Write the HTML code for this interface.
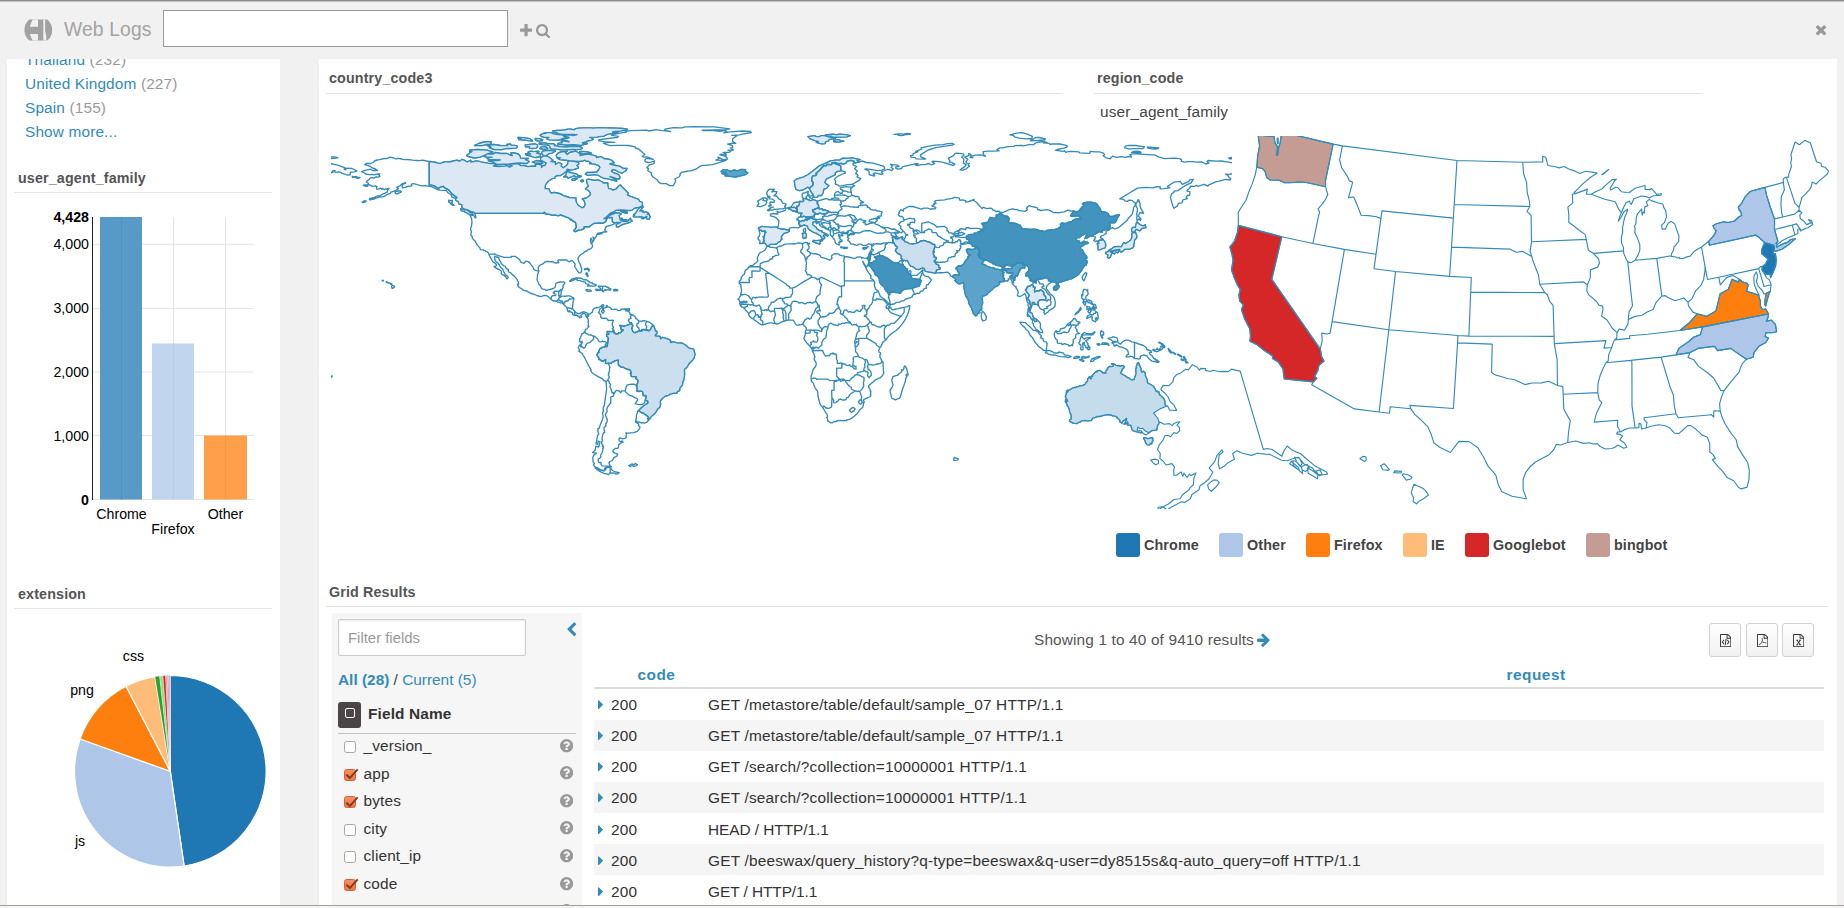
<!DOCTYPE html><html><head><meta charset="utf-8"><title>Web Logs</title><style>
*{box-sizing:border-box;margin:0;padding:0}
html,body{width:1844px;height:908px;overflow:hidden;background:#f1f1f1}
body{position:relative;font-family:"Liberation Sans",Arial,sans-serif;font-size:15.4px;color:#444}
.abs,.t,.ic{position:absolute}
.t{white-space:nowrap;line-height:1;letter-spacing:.14px}
.card{position:absolute;background:#fff}
.hr{position:absolute;height:1px;background:#e5e5e5}
svg text{font-family:"Liberation Sans",Arial,sans-serif}
</style></head><body>
<div class="abs" style="left:0;top:0;width:1844px;height:1px;background:#8a8a8a"></div>
<div class="abs" style="left:0;top:1px;width:1844px;height:1px;background:#c4c4c4"></div>
<svg class="abs" style="left:22px;top:17px" width="34" height="26" viewBox="22 17 34 26"><defs><clipPath id="lc"><rect x="22" y="19.4" width="34" height="21.1"/></clipPath></defs><g clip-path="url(#lc)"><circle cx="38.3" cy="30" r="13.9" fill="#a2a2a2"/><path d="M33.2,19 L38,19 L38,26.7 L29.9,26.7 Q30.8,22.5 33.2,19Z" fill="#f1f1f1"/><path d="M33.2,41 L38,41 L38,34 L29.9,34 Q30.8,38 33.2,41Z" fill="#f1f1f1"/><path d="M43.3,18 L45.1,18 L45.1,31 Q46.6,35 46.3,41 L43.3,41Z" fill="#f1f1f1"/><circle cx="46.1" cy="26" r="0.7" fill="#b8b8b8"/></g></svg>
<div class="t " style="left:64.00px;top:19.50px;font-size:19.30px;color:#a3a3a3;font-weight:normal;">Web Logs</div>
<div class="abs" style="left:163px;top:10px;width:345px;height:37px;background:#fff;border:1px solid #9a9a9a"></div>
<svg class="ic" style="left:519.50px;top:22.50px" width="12.10" height="15.40" viewBox="0 -1536 1408 1792" ><path fill="#999" transform="scale(1,-1)" d="M1408 800v-192q0 -40 -28 -68t-68 -28h-416v-416q0 -40 -28 -68t-68 -28h-192q-40 0 -68 28t-28 68v416h-416q-40 0 -68 28t-28 68v192q0 40 28 68t68 28h416v416q0 40 28 68t68 28h192q40 0 68 -28t28 -68v-416h416q40 0 68 -28t28 -68z"/></svg>
<svg class="ic" style="left:535.50px;top:22.50px" width="14.30" height="15.40" viewBox="0 -1536 1664 1792" ><path fill="#999" transform="scale(1,-1)" d="M1152 704q0 185 -131.5 316.5t-316.5 131.5t-316.5 -131.5t-131.5 -316.5t131.5 -316.5t316.5 -131.5t316.5 131.5t131.5 316.5zM1664 -128q0 -52 -38 -90t-90 -38q-54 0 -90 38l-343 342q-179 -124 -399 -124q-143 0 -273.5 55.5t-225 150t-150 225t-55.5 273.5 t55.5 273.5t150 225t225 150t273.5 55.5t273.5 -55.5t225 -150t150 -225t55.5 -273.5q0 -220 -124 -399l343 -343q37 -37 37 -90z"/></svg>
<svg class="ic" style="left:1815.00px;top:22.00px" width="12.10" height="15.40" viewBox="0 -1536 1408 1792" ><path fill="#999" transform="scale(1,-1)" d="M1298 214q0 -40 -28 -68l-136 -136q-28 -28 -68 -28t-68 28l-294 294l-294 -294q-28 -28 -68 -28t-68 28l-136 136q-28 28 -28 68t28 68l294 294l-294 294q-28 28 -28 68t28 68l136 136q28 28 68 28t68 -28l294 -294l294 294q28 28 68 28t68 -28l136 -136q28 -28 28 -68 t-28 -68l-294 -294l294 -294q28 -28 28 -68z"/></svg>
<div class="card" style="left:7px;top:59px;width:273px;height:849px"></div>
<div class="card" style="left:319px;top:59px;width:1518px;height:849px"></div>
<div class="abs" style="left:7px;top:59px;width:273px;height:12px;overflow:hidden"><div class="t" style="left:18px;top:-7.5px;font-size:15.4px;color:#338bb8">Thailand <span style="color:#999">(232)</span></div></div>
<div class="t" style="left:25px;top:76.00px;font-size:15.4px;color:#338bb8">United Kingdom <span style="color:#999">(227)</span></div>
<div class="t" style="left:25px;top:100.00px;font-size:15.4px;color:#338bb8">Spain <span style="color:#999">(155)</span></div>
<div class="t " style="left:25.00px;top:124.00px;font-size:15.40px;color:#338bb8;font-weight:normal;">Show more...</div>
<div class="t " style="left:18.00px;top:170.50px;font-size:14.30px;color:#555;font-weight:bold;">user_agent_family</div>
<div class="hr" style="left:14px;top:192px;width:258px"></div>
<div class="t " style="left:18.00px;top:586.50px;font-size:14.30px;color:#555;font-weight:bold;">extension</div>
<div class="hr" style="left:14px;top:608px;width:258px"></div>
<svg class="abs" style="left:0;top:200px" width="290" height="350" viewBox="0 200 290 350" font-size="14.2" fill="#000"><line x1="92" x2="254" y1="244.3" y2="244.3" stroke="#e5e5e5" stroke-width="1"/><line x1="92" x2="254" y1="308.4" y2="308.4" stroke="#e5e5e5" stroke-width="1"/><line x1="92" x2="254" y1="372.0" y2="372.0" stroke="#e5e5e5" stroke-width="1"/><line x1="92" x2="254" y1="435.5" y2="435.5" stroke="#e5e5e5" stroke-width="1"/><line x1="92" x2="254" y1="499.5" y2="499.5" stroke="#e5e5e5" stroke-width="1"/><line x1="121.5" x2="121.5" y1="217" y2="499.5" stroke="#e5e5e5" stroke-width="1"/><line x1="173.5" x2="173.5" y1="217" y2="499.5" stroke="#e5e5e5" stroke-width="1"/><line x1="225.5" x2="225.5" y1="217" y2="499.5" stroke="#e5e5e5" stroke-width="1"/><rect x="100" y="217" width="42" height="282.5" fill="#5799c7"/><rect x="152" y="343.5" width="42" height="156" fill="#c2d5ee"/><rect x="204" y="435.5" width="43" height="64" fill="#ff9f4a"/><line x1="121.5" x2="121.5" y1="217" y2="499.5" stroke="#4f92c0" stroke-width="1"/><line x1="173.5" x2="173.5" y1="343.5" y2="499.5" stroke="#b7cde9" stroke-width="1"/><line x1="225.5" x2="225.5" y1="435.5" y2="499.5" stroke="#f79743" stroke-width="1"/><line x1="92.5" x2="92.5" y1="217" y2="500" stroke="#222" stroke-width="1"/><text x="89" y="249.3" text-anchor="end" font-weight="normal">4,000</text><text x="89" y="313.4" text-anchor="end" font-weight="normal">3,000</text><text x="89" y="377.0" text-anchor="end" font-weight="normal">2,000</text><text x="89" y="440.5" text-anchor="end" font-weight="normal">1,000</text><text x="89" y="504.5" text-anchor="end" font-weight="bold">0</text><text x="89" y="222" text-anchor="end" font-weight="bold">4,428</text><text x="121.5" y="519" text-anchor="middle">Chrome</text><text x="173" y="534" text-anchor="middle">Firefox</text><text x="225.5" y="519" text-anchor="middle">Other</text></svg>
<svg class="abs" style="left:0;top:640px" width="290" height="265" viewBox="0 640 290 265" font-size="14.2" fill="#000"><path d="M170.30,771.30L170.30,675.50A95.80,95.80 0 0 1 184.13,866.10Z" fill="#1f77b4" stroke="#fff" stroke-width="1.2"/><path d="M170.30,771.30L184.13,866.10A95.80,95.80 0 0 1 80.11,739.01Z" fill="#aec7e8" stroke="#fff" stroke-width="1.2"/><path d="M170.30,771.30L80.11,739.01A95.80,95.80 0 0 1 126.06,686.32Z" fill="#ff7f0e" stroke="#fff" stroke-width="1.2"/><path d="M170.30,771.30L126.06,686.32A95.80,95.80 0 0 1 154.98,676.73Z" fill="#ffbb78" stroke="#fff" stroke-width="1.2"/><path d="M170.30,771.30L154.98,676.73A95.80,95.80 0 0 1 159.62,676.10Z" fill="#2ca02c" stroke="#fff" stroke-width="0.3"/><path d="M170.30,771.30L159.62,676.10A95.80,95.80 0 0 1 162.95,675.78Z" fill="#98df8a" stroke="#fff" stroke-width="0.3"/><path d="M170.30,771.30L162.95,675.78A95.80,95.80 0 0 1 165.62,675.61Z" fill="#d62728" stroke="#fff" stroke-width="0.3"/><path d="M170.30,771.30L165.62,675.61A95.80,95.80 0 0 1 167.46,675.54Z" fill="#ff9896" stroke="#fff" stroke-width="0.3"/><path d="M170.30,771.30L167.46,675.54A95.80,95.80 0 0 1 168.63,675.51Z" fill="#9467bd" stroke="#fff" stroke-width="0.3"/><path d="M170.30,771.30L168.63,675.51A95.80,95.80 0 0 1 169.46,675.50Z" fill="#c5b0d5" stroke="#fff" stroke-width="0.3"/><path d="M170.30,771.30L169.46,675.50A95.80,95.80 0 0 1 170.30,675.50Z" fill="#8c564b" stroke="#fff" stroke-width="0.3"/><text x="133.5" y="661" text-anchor="middle">css</text><text x="82" y="695" text-anchor="middle">png</text><text x="80" y="846" text-anchor="middle">js</text></svg>
<div class="t " style="left:329.00px;top:70.50px;font-size:14.30px;color:#555;font-weight:bold;">country_code3</div>
<div class="hr" style="left:326px;top:93px;width:736px"></div>
<div class="t " style="left:1097.00px;top:70.50px;font-size:14.30px;color:#555;font-weight:bold;">region_code</div>
<div class="hr" style="left:1094px;top:93px;width:608px"></div>
<div class="t " style="left:1100.00px;top:104.00px;font-size:15.40px;color:#444;font-weight:normal;">user_agent_family</div>
<svg class="abs" style="left:331px;top:110px" width="901" height="420" viewBox="331 110 901 420" fill="none" stroke="#338bb8" stroke-width="1.35" stroke-linejoin="round"><path d="M361.5,171.7L366.0,170.2L370.7,169.2L372.5,170.5L377.5,170.5L375.5,169.0L372.5,168.0L370.7,166.7L368.2,165.7L364.7,164.7L366.2,163.5L370.7,163.5L373.7,162.2L374.5,161.0L377.0,160.0L379.5,159.7L384.2,158.5L386.5,158.7L390.2,157.2L394.0,158.0L396.0,159.0L397.0,158.5L401.2,158.7L401.0,159.2L405.0,159.7L407.5,159.5L412.7,160.2L417.5,160.5L419.5,160.7L422.7,160.2L426.5,161.0L429.2,161.5L434.0,162.0L438.0,163.2L440.5,163.5L442.7,162.5L445.7,161.7L449.5,162.0L453.2,161.0L457.2,160.2L459.0,161.2L460.7,160.7L461.5,159.5L463.2,159.7L467.2,162.0L470.7,160.2L471.0,162.2L474.0,161.7L475.0,161.0L478.0,161.2L482.0,162.2L487.7,163.2L491.3,163.7L493.8,163.5L497.0,164.7L493.5,166.0L498.0,166.5L504.8,166.2L507.0,165.7L509.5,167.2L512.3,166.0L509.8,165.0L511.3,164.0L514.5,164.0L516.3,163.7L518.5,164.2L521.0,165.7L523.8,165.5L528.0,166.7L532.0,166.2L535.8,166.2L535.3,164.7L537.5,164.2L541.5,165.2L541.5,167.5L543.0,165.5L545.0,165.5L546.3,163.0L543.5,161.5L540.5,160.5L540.8,157.7L543.8,156.0L547.0,156.2L549.5,157.5L553.0,160.2L550.8,161.5L555.5,162.0L555.3,164.5L558.8,162.5L561.8,164.2L561.0,166.0L563.3,167.7L566.0,166.0L567.8,163.7L568.0,161.0L571.5,161.2L575.3,161.5L578.5,162.7L578.8,164.0L576.8,165.5L578.5,166.7L578.3,168.0L573.5,169.7L570.0,170.0L567.3,169.2L566.5,170.5L568.5,170.7L564.3,172.7L563.5,173.7L560.5,175.5L556.8,175.7L555.0,176.7L554.8,178.2L552.0,178.7L548.8,180.8L546.3,183.5L545.3,185.5L545.0,188.5L548.8,188.8L549.8,191.3L551.0,193.0L554.5,192.5L559.3,193.5L561.8,194.5L563.5,195.8L566.5,196.5L569.3,197.5L573.3,197.8L576.0,198.0L575.8,200.0L576.5,202.5L578.3,205.3L582.0,207.8L584.0,207.0L585.3,204.3L584.0,200.5L582.3,199.0L586.3,198.0L589.0,196.3L590.5,194.5L590.3,192.8L588.5,190.5L585.5,188.8L588.5,186.0L587.3,183.8L586.5,180.0L588.3,179.2L592.5,180.0L595.0,180.3L597.3,179.8L599.5,180.5L602.5,182.0L603.3,183.0L607.8,183.0L607.8,185.3L608.5,188.3L610.8,188.8L612.8,190.3L616.3,188.8L618.8,186.0L620.3,185.0L622.3,187.3L625.5,190.3L628.3,193.3L627.3,195.0L630.5,196.3L638.5,199.3L639.5,201.3L641.3,201.8L642.3,202.5L642.5,205.5L639.0,207.3L634.8,208.0L631.8,210.3L627.5,210.5L622.0,210.0L618.3,210.0L615.8,210.3L613.8,212.0L610.5,213.0L606.9,216.5L604.0,218.8L606.0,218.3L610.2,215.0L615.4,213.0L619.1,212.8L621.3,214.0L619.0,215.5L619.8,218.3L620.5,220.3L623.8,221.5L628.0,221.0L630.5,218.3L630.8,220.0L632.3,221.0L629.3,222.5L623.7,224.1L621.3,225.0L618.3,227.0L616.5,226.8L616.3,224.5L620.8,222.5L616.8,222.5L614.0,223.0L614.3,223.8L611.8,225.0L609.0,225.8L606.5,226.5L605.3,228.0L604.8,230.0L605.5,231.3L606.5,231.3L606.8,231.8L604.0,232.0L602.0,232.5L599.5,232.8L597.5,233.5L601.3,233.0L602.0,233.5L598.5,234.3L596.8,234.3L596.3,236.5L594.5,238.5L593.0,237.0L593.5,238.8L594.1,239.8L592.0,242.8L591.8,242.6L592.5,241.0L591.0,238.0L590.5,240.3L591.0,243.3L591.8,243.5L592.1,244.4L592.5,246.9L590.8,248.8L588.3,249.5L586.7,251.0L584.1,252.0L583.8,252.9L581.0,254.5L579.6,255.7L578.5,257.3L578.0,259.0L578.5,260.8L579.3,262.8L580.5,264.5L580.5,265.7L581.6,268.5L581.5,271.3L580.8,272.8L578.8,272.8L577.5,271.0L576.3,269.0L575.0,267.0L574.7,266.0L575.2,264.4L574.5,263.0L572.5,260.9L571.5,260.5L569.0,261.8L568.5,261.5L567.3,260.4L565.8,259.8L563.0,260.0L560.8,259.8L558.8,260.0L557.8,260.3L558.3,261.0L558.3,262.0L558.8,262.5L558.3,262.9L557.3,262.5L556.4,263.0L554.5,262.9L552.8,261.5L550.5,261.9L548.8,261.3L547.1,261.5L545.0,262.0L542.8,263.9L540.3,265.0L538.9,266.3L538.3,267.3L538.3,269.0L538.4,270.3L538.9,271.1L538.0,273.3L537.5,275.0L537.3,278.5L537.0,279.8L537.5,281.0L538.3,282.3L538.8,284.3L540.5,286.0L541.0,287.5L542.0,288.8L544.8,289.4L545.8,290.5L548.0,289.8L549.8,289.5L551.8,289.0L553.3,288.5L554.8,287.5L555.5,286.0L555.6,284.0L556.0,283.3L557.8,282.5L560.5,282.0L562.6,282.1L564.1,281.9L564.8,282.5L564.6,283.7L563.3,285.0L562.8,286.7L563.2,287.1L562.8,288.3L562.2,290.1L561.5,289.5L561.0,289.5L561.0,289.9L561.5,290.5L561.0,291.8L561.3,293.3L560.9,294.5L559.5,296.0L560.3,296.5L561.3,296.5L562.0,296.1L563.3,296.2L564.5,296.4L566.8,296.0L567.5,295.9L569.3,295.8L570.8,296.3L572.3,297.3L573.3,297.6L573.9,298.3L573.8,300.0L573.0,301.8L573.0,303.5L572.8,305.0L572.5,306.0L572.7,306.8L572.1,307.4L572.6,308.4L573.3,309.8L575.4,311.9L576.3,312.8L577.5,313.3L578.3,313.8L579.4,313.6L580.5,313.0L582.0,312.5L582.8,311.8L584.3,311.9L585.5,312.3L586.6,312.7L588.4,314.1L587.0,317.8L586.3,317.0L585.8,315.7L586.3,315.0L585.3,314.0L584.0,313.3L582.9,313.5L582.4,314.3L581.3,315.0L580.5,315.5L581.8,316.9L580.8,317.6L579.5,317.8L579.1,316.3L578.0,316.5L577.5,315.5L575.8,315.0L574.7,315.6L574.4,315.3L573.0,314.8L572.5,314.2L572.8,313.2L572.0,312.5L570.2,311.8L570.0,311.0L569.3,310.5L569.5,311.3L569.0,311.9L567.6,311.0L567.3,309.8L567.6,308.9L566.9,308.5L567.5,308.0L566.6,307.3L565.5,306.3L564.9,305.4L563.8,304.6L562.6,303.5L563.3,303.5L563.5,303.3L563.0,302.5L562.3,302.3L562.0,302.9L560.5,302.9L558.6,302.1L557.3,302.0L556.5,301.4L555.3,301.0L553.8,301.0L552.5,300.5L551.3,299.4L548.4,296.8L547.0,295.9L545.0,295.3L543.6,295.5L541.6,296.4L540.4,296.7L538.6,296.0L536.8,295.5L534.4,294.4L532.5,294.0L529.8,292.9L527.6,291.7L527.0,291.0L525.6,290.9L523.0,290.0L522.0,288.9L519.3,287.5L518.0,285.9L517.5,284.7L518.3,284.5L518.0,283.8L518.6,283.1L518.6,282.3L517.8,281.1L517.5,280.1L516.7,278.9L514.5,276.4L512.0,274.4L510.8,272.9L508.6,271.8L508.2,271.2L508.5,269.7L507.3,269.1L505.8,267.9L505.2,266.1L503.8,265.9L502.4,264.6L501.2,263.4L501.1,262.6L499.8,260.7L498.9,258.8L498.9,257.9L497.1,256.8L496.3,257.0L494.8,256.3L494.4,257.3L494.8,258.5L495.1,260.4L495.9,261.4L497.8,263.1L498.2,263.7L498.9,264.8L499.4,264.7L499.9,266.3L500.6,267.0L501.2,267.9L502.8,269.1L503.6,271.5L504.3,272.6L505.0,273.7L505.1,275.0L506.3,275.1L507.3,276.3L508.2,277.4L508.2,277.8L507.1,278.7L506.7,278.7L506.0,277.2L504.4,275.8L502.6,274.6L501.3,273.9L501.4,272.1L501.0,270.8L499.8,270.0L498.1,268.9L497.8,269.2L497.1,268.5L495.6,267.9L494.1,266.5L495.3,266.4L496.3,265.5L496.4,264.4L494.4,262.6L493.0,261.9L492.0,260.3L491.1,258.7L490.0,256.7L488.9,254.4L488.5,253.1L486.9,251.7L485.7,251.4L485.4,250.7L484.0,250.6L483.1,249.9L480.8,249.6L480.2,249.3L479.9,247.9L477.5,245.4L475.4,241.9L475.5,241.3L474.4,240.5L472.4,238.4L472.1,236.3L470.7,235.0L471.3,232.9L471.2,230.8L470.4,228.8L471.4,226.5L472.0,222.0L471.5,218.6L470.7,216.5L470.0,215.3L470.3,214.8L473.9,215.7L475.3,218.0L475.9,217.4L475.5,215.3L474.6,213.3L474.0,212.5L469.5,210.8L467.7,209.8L463.2,208.7L461.7,206.5L462.1,204.9L458.9,203.9L458.5,201.9L455.5,200.0L456.0,198.5L454.0,197.8L451.8,197.0L451.1,194.8L447.9,192.8L446.5,190.5L444.1,190.3L440.2,190.2L437.2,189.5L432.1,186.9L429.7,186.4L425.3,185.6L421.8,185.8L417.0,184.6L414.0,183.6L411.2,184.1L411.7,185.8L407.5,186.5L405.2,187.3L402.5,187.9L402.1,186.4L403.2,184.0L405.8,183.2L405.2,182.6L402.0,183.9L400.3,185.6L396.7,187.4L398.5,188.6L396.1,190.4L393.5,191.4L391.0,192.2L390.3,193.3L386.5,194.6L385.6,195.8L382.7,196.8L381.0,196.7L378.7,197.4L376.1,198.2L374.0,199.0L369.7,199.8L369.4,199.3L372.1,198.2L374.5,197.4L377.2,196.0L380.3,195.8L381.5,194.7L385.0,193.2L385.6,192.7L387.4,191.8L387.8,189.9L389.1,188.5L386.2,189.2L385.4,188.8L384.1,189.7L382.4,188.4L381.8,189.3L380.8,188.1L378.3,189.1L376.8,189.1L376.6,187.6L377.0,186.7L375.4,185.8L372.2,186.3L370.1,185.1L368.3,184.5L368.3,183.1L366.4,182.0L367.4,180.6L369.4,179.2L370.3,177.9L372.3,177.7L374.0,178.1L376.1,176.9L377.9,177.1L379.8,176.3L379.3,175.2L377.9,174.7L379.8,173.8L378.2,173.8L375.6,174.3L374.8,174.9L372.8,174.3L369.3,174.6L365.6,174.0L364.6,173.0L361.5,171.7ZM588.4,314.1L589.7,314.2L591.6,312.4L592.6,312.2L592.6,311.4L593.1,309.2L594.5,308.1L596.1,308.0L596.3,307.5L598.3,307.7L600.2,306.5L601.2,305.9L602.4,304.7L603.3,304.8L603.9,305.5L603.5,306.3L603.4,306.9L601.9,307.2L602.7,308.4L602.7,309.7L601.6,311.1L602.5,313.1L603.6,312.9L604.2,311.1L603.4,310.3L603.3,308.4L606.4,307.3L606.1,306.2L606.9,305.4L607.8,307.1L609.6,307.2L611.2,308.6L611.3,309.4L613.5,309.4L616.2,309.2L617.6,310.3L619.6,310.6L621.0,309.8L621.0,309.2L624.1,309.0L627.1,309.0L625.0,309.7L625.8,310.9L627.8,311.1L629.7,312.3L630.1,314.3L631.4,314.3L632.4,314.9L634.0,315.8L635.6,317.4L635.7,318.7L636.6,318.8L637.9,320.0L638.9,320.9L641.9,321.4L642.2,320.9L644.2,320.7L646.9,321.4L647.8,321.7L649.6,322.3L652.3,324.4L652.7,325.4L653.5,325.3L654.1,326.7L655.5,331.0L656.9,331.4L656.9,333.2L655.1,335.2L655.8,336.0L660.3,336.4L660.4,338.9L662.3,337.3L665.4,338.2L669.5,339.7L670.8,341.2L670.4,342.5L673.3,341.8L678.1,343.1L681.9,343.0L685.6,345.1L688.8,347.9L690.7,348.6L692.8,348.7L693.7,349.5L694.6,352.7L695.0,354.2L694.0,358.3L692.7,359.9L689.2,363.4L687.6,366.2L685.8,368.4L685.1,368.5L684.4,370.3L684.6,375.0L683.9,378.8L683.6,380.5L682.9,381.5L682.4,384.8L679.9,388.1L679.5,390.7L677.4,391.7L676.8,393.2L674.1,393.2L670.2,394.2L668.4,395.3L665.6,396.0L662.7,398.0L660.6,400.5L660.2,402.4L660.6,403.8L660.2,406.3L659.6,407.5L657.8,408.9L655.1,413.3L652.9,415.3L651.2,416.5L650.0,418.8L648.4,420.3L647.3,421.8L644.5,423.2L642.6,422.7L641.2,423.0L638.9,421.9L637.2,422.0L635.7,420.6L635.5,421.9L638.7,424.1L638.4,425.8L639.9,426.9L639.8,428.1L637.4,431.3L633.7,432.6L628.7,433.2L625.9,432.9L626.5,434.4L626.0,436.3L626.4,437.5L624.9,438.4L622.4,438.8L620.0,437.8L619.0,438.5L619.3,441.0L621.0,441.7L622.4,440.9L623.1,442.2L620.8,443.0L618.8,444.6L618.5,447.1L617.9,448.4L615.5,448.4L613.6,449.7L612.8,451.6L615.3,453.4L617.7,453.9L616.8,456.2L613.9,457.6L612.2,460.5L610.0,461.5L608.9,462.7L609.7,465.3L611.4,466.7L610.4,466.6L608.1,466.6L606.9,467.2L604.7,468.1L604.3,470.4L603.2,470.5L600.4,469.7L597.5,467.9L594.4,466.5L593.6,464.9L594.3,463.4L593.1,461.8L592.8,457.5L593.8,455.1L596.5,453.2L592.7,452.5L595.1,450.2L595.9,446.1L598.7,447.0L600.0,441.8L598.3,441.1L597.5,444.3L596.0,443.9L596.7,440.3L597.6,435.7L598.7,434.0L598.0,431.5L597.8,428.7L598.9,428.6L600.4,424.6L602.1,420.6L603.2,416.9L602.6,413.1L603.4,411.1L603.1,408.0L604.5,404.9L605.0,400.1L605.8,394.9L606.6,389.3L606.4,385.2L605.9,381.7L603.3,380.2L603.1,379.2L598.2,376.7L593.7,374.0L591.8,372.4L590.7,370.4L591.1,369.7L589.0,366.4L586.6,361.8L584.2,356.8L583.2,355.6L582.4,353.8L580.4,352.2L578.7,351.2L579.5,350.0L578.3,347.7L579.0,345.9L581.0,344.3L582.4,342.5L581.8,341.4L580.9,342.5L579.4,341.4L579.9,340.7L579.5,338.5L580.3,338.1L580.8,336.5L581.7,334.9L581.6,333.9L582.9,333.3L584.6,332.3L584.3,331.6L585.2,331.4L585.1,330.1L585.7,329.2L587.0,329.0L588.0,327.5L589.0,326.2L588.0,325.6L588.5,324.1L588.0,321.8L588.5,321.2L588.1,319.1L587.1,317.7ZM767.0,246.4L768.9,246.4L770.4,247.4L772.7,247.3L775.3,247.8L776.4,247.8L778.8,246.5L781.5,246.0L783.1,245.0L785.5,244.2L789.7,243.8L793.9,243.6L795.1,244.0L797.5,243.0L800.2,243.0L801.2,243.5L802.9,243.4L805.6,242.4L807.4,242.7L807.3,244.0L809.4,243.0L809.6,243.5L808.4,244.7L808.3,245.9L809.2,246.5L808.9,248.7L807.2,249.9L807.7,251.3L809.0,251.3L809.6,252.5L810.6,252.9L813.5,253.8L814.6,253.6L816.7,254.0L820.0,255.1L821.1,257.3L823.4,257.8L826.9,258.9L829.6,260.1L830.8,259.5L832.0,258.3L831.4,256.4L832.2,255.2L834.0,254.0L835.7,253.7L839.1,254.2L840.0,255.3L840.9,255.3L841.7,255.7L844.2,256.0L844.8,256.8L846.7,256.7L848.1,256.8L850.5,257.5L853.0,258.2L854.1,258.6L856.1,257.8L857.1,257.1L859.3,256.9L861.1,257.2L861.8,258.5L862.3,257.6L864.3,258.2L866.3,258.4L867.5,257.7L869.2,262.0L868.5,263.0L867.9,264.9L867.2,266.2L866.7,266.7L865.8,265.9L864.7,264.7L862.9,261.2L862.7,261.4L863.7,264.0L865.2,266.5L867.1,270.4L868.0,271.8L868.9,273.2L871.1,276.0L870.6,276.4L870.7,278.0L873.6,280.3L874.0,280.8L874.8,283.2L874.3,283.7L874.6,286.3L875.6,289.3L876.5,289.9L877.9,290.8L879.4,293.7L880.1,296.0L881.4,297.2L884.8,299.6L886.2,301.0L887.6,302.4L888.4,303.3L889.6,304.0L890.2,304.8L890.1,305.9L888.7,306.4L889.8,307.1L890.6,307.6L891.1,308.6L892.2,309.7L893.4,309.7L895.8,309.0L898.5,308.7L900.7,308.0L901.9,307.8L902.8,307.3L904.3,307.3L905.1,307.2L906.2,306.8L907.5,306.6L908.7,305.7L909.7,305.7L909.7,306.4L909.5,307.9L909.5,309.2L909.0,310.1L908.3,312.8L907.1,315.6L905.5,318.8L903.4,322.4L901.2,325.2L898.3,328.6L895.8,330.7L892.1,333.2L889.7,335.1L887.0,338.1L886.4,339.4L885.9,340.0L884.1,341.0L883.5,342.1L882.5,342.2L882.2,344.0L881.4,345.0L880.9,346.7L879.9,347.5L878.7,350.6L878.9,352.0L880.5,352.9L880.6,353.6L879.9,355.1L880.0,355.8L879.9,357.0L880.7,358.6L881.8,361.1L882.7,361.6L883.1,362.7L883.0,365.2L883.3,367.4L883.4,371.3L883.8,372.5L883.1,374.3L882.1,376.1L880.5,377.6L878.2,378.6L875.4,379.8L872.6,382.5L871.6,382.9L869.9,384.7L868.8,385.3L868.6,387.1L869.8,388.9L870.3,390.4L870.3,391.2L870.8,391.0L870.7,393.5L870.3,394.7L870.9,395.1L870.5,396.1L869.5,397.0L867.4,397.9L864.4,399.2L863.3,400.1L863.5,401.2L864.2,401.4L863.9,402.7L863.3,404.5L863.0,406.6L862.4,407.7L860.7,409.0L860.2,409.3L859.1,410.6L858.4,411.9L857.0,413.7L854.2,416.3L852.4,417.8L850.5,418.9L847.9,419.9L846.6,420.0L846.3,420.7L844.8,420.3L843.6,420.8L840.8,420.3L839.3,420.6L838.3,420.5L835.7,421.5L833.6,421.9L832.0,422.8L830.9,422.9L829.8,422.0L829.0,421.9L827.9,420.8L827.8,421.2L827.5,420.5L827.5,419.0L826.7,417.4L827.5,416.9L827.4,415.0L825.8,412.6L824.5,410.5L822.7,407.3L820.9,405.4L819.9,403.5L819.3,401.1L818.7,399.3L817.9,395.4L817.8,392.5L817.5,391.1L816.5,390.1L815.2,388.0L813.9,385.0L813.4,383.4L811.3,381.0L811.2,379.1L811.0,377.5L811.3,375.3L812.2,373.0L812.3,371.9L813.1,369.7L813.7,368.7L815.1,367.0L815.9,365.9L816.2,364.1L816.1,362.6L815.3,361.7L814.7,360.2L814.1,358.7L814.2,358.2L815.0,357.2L814.2,354.8L813.7,353.1L812.4,351.5L812.7,351.1L812.3,350.3L811.6,348.4L809.6,345.8L807.0,343.2L805.4,341.2L803.9,338.6L803.9,337.8L804.5,337.0L805.1,335.1L805.6,333.3L805.1,332.9L806.0,330.1L806.4,328.1L805.4,326.5L804.2,326.0L803.7,324.9L803.1,324.5L803.1,323.9L800.5,324.8L799.5,324.6L798.6,325.2L796.6,325.1L795.2,323.6L794.4,321.8L792.7,320.1L790.8,320.1L788.6,320.1L786.5,320.4L784.5,321.0L780.6,322.4L779.2,323.3L776.9,324.0L774.7,323.3L773.6,323.3L771.8,322.8L770.2,322.9L767.3,323.3L765.5,324.0L763.0,324.9L762.6,324.9L761.9,324.9L759.3,323.7L757.1,321.8L754.9,320.4L753.2,318.8L752.6,318.6L750.8,317.6L749.5,316.3L749.0,315.4L748.7,313.5L747.6,312.1L746.7,311.1L746.0,310.7L745.4,310.3L745.1,309.1L744.7,308.6L744.0,308.2L742.7,307.1L741.6,307.0L741.1,306.3L741.1,305.9L740.3,305.4L740.1,304.8L739.7,302.9L740.1,301.8L739.0,299.9L737.8,299.0L738.9,298.5L740.1,296.7L740.7,295.4L740.5,294.1L741.2,292.9L741.5,290.5L741.2,288.0L740.9,286.8L741.1,285.6L740.5,284.4L739.2,283.3L739.3,282.2L739.4,281.1L740.4,280.4L741.2,279.1L741.0,278.2L741.9,276.5L743.3,274.9L744.1,274.5L744.8,273.0L744.8,271.7L745.7,270.2L747.4,269.2L749.0,266.7L750.3,265.7L752.6,265.4L754.6,263.7L755.8,263.0L757.9,261.0L757.3,257.8L758.3,255.7L758.6,254.4L760.2,252.7L762.7,251.5L764.6,250.5L766.2,247.9ZM905.7,367.0L906.4,368.1L907.0,369.7L907.4,372.7L908.1,373.9L907.8,375.1L907.4,375.8L906.5,374.3L906.1,375.1L906.5,376.9L906.3,378.0L905.6,378.6L905.5,380.7L904.5,383.6L903.3,387.1L901.7,391.8L900.8,395.3L899.6,398.2L897.6,398.8L895.4,399.8L894.0,399.2L892.0,398.3L891.3,397.0L891.1,394.7L890.3,392.8L890.0,391.0L890.5,389.2L891.6,388.7L891.6,387.9L892.8,386.0L893.0,384.4L892.5,383.2L892.0,381.6L891.8,379.3L892.7,377.9L893.0,376.4L894.2,376.3L895.6,375.7L896.6,375.3L897.7,375.3L899.1,373.8L901.2,372.3L901.9,371.0L901.6,370.0L902.6,370.3L904.0,368.5L904.0,367.0L904.9,365.9ZM867.5,257.7L868.3,256.9L868.7,255.6L869.3,253.7L869.6,253.1L870.6,251.0L871.8,249.2L871.6,247.2L872.2,246.2L871.3,245.1L872.3,244.1L870.7,244.3L868.6,243.8L866.9,245.2L863.1,245.5L861.1,244.2L858.4,244.1L857.8,245.1L856.1,245.4L853.7,244.1L851.0,244.1L849.5,241.6L847.7,240.2L848.9,238.3L847.3,237.1L850.1,234.7L853.9,234.6L855.0,232.7L859.7,233.0L862.7,231.4L865.6,230.7L869.8,230.7L874.1,232.4L877.7,233.4L880.7,233.0L882.8,233.2L885.8,231.9L886.1,230.9L885.5,229.1L884.1,228.2L882.7,227.9L881.8,227.2L878.6,225.1L875.7,224.1L873.6,222.7L875.4,222.3L877.4,220.2L876.0,219.2L879.8,218.2L879.7,217.6L877.4,218.0L875.4,218.2L873.8,219.0L871.4,219.1L869.3,220.1L869.4,221.6L870.6,222.2L873.2,222.1L872.7,223.0L870.0,223.4L866.6,224.9L865.2,224.4L865.7,223.2L863.0,222.4L863.4,222.0L865.8,221.1L865.1,220.6L861.2,219.9L861.1,219.0L858.7,219.3L857.8,220.7L855.9,222.5L855.9,223.2L854.7,223.7L854.0,223.5L853.3,226.5L852.0,227.5L851.0,229.3L851.9,230.7L852.2,231.7L854.3,232.5L853.9,233.1L850.9,233.3L849.8,234.0L847.8,235.4L847.0,234.2L847.0,233.7L845.5,233.6L844.2,233.4L841.1,234.0L842.9,235.5L841.6,235.9L840.2,235.9L838.9,234.6L838.4,235.1L839.0,236.6L840.2,237.8L839.3,238.3L840.7,239.5L841.9,240.2L842.0,241.6L839.7,241.0L840.4,242.2L838.8,242.5L839.7,244.7L838.1,244.7L836.0,243.7L835.1,241.7L834.7,240.0L833.7,238.8L832.4,237.4L832.2,236.7L831.8,236.5L831.8,236.0L830.4,235.1L830.2,233.9L830.4,232.2L830.7,231.5L830.3,231.1L829.8,230.9L829.1,230.1L828.0,229.6L825.6,228.6L824.2,227.7L821.9,227.0L819.8,225.2L820.3,225.0L819.2,223.9L819.1,223.1L817.5,222.7L816.7,223.8L816.0,222.9L816.1,222.1L816.2,222.0L816.7,221.8L814.7,221.4L812.7,222.3L812.8,223.5L812.5,224.3L813.3,225.5L815.7,226.8L816.9,228.9L819.7,230.9L821.7,230.9L822.3,231.4L821.6,231.9L823.8,232.8L825.7,233.6L827.8,234.9L828.1,235.3L827.6,236.2L826.2,235.1L824.0,234.7L823.0,236.3L824.8,237.2L824.5,238.5L823.5,238.7L822.1,240.8L821.1,241.0L821.1,240.2L821.6,238.9L822.1,238.4L821.2,236.9L820.4,235.6L819.4,235.3L818.6,234.3L817.0,233.8L815.9,232.8L814.1,232.6L812.1,231.5L809.8,229.9L808.1,228.4L807.4,226.0L806.1,225.7L804.1,224.8L802.9,225.2L801.5,226.3L800.4,226.5L798.2,227.9L793.2,227.3L789.6,228.1L789.3,229.6L789.4,231.0L787.1,232.7L783.9,233.2L783.6,234.1L782.1,235.5L781.1,237.5L782.1,238.9L780.7,240.0L780.1,241.7L778.2,242.2L776.5,244.1L773.3,244.1L770.9,244.1L769.3,245.0L768.4,245.9L767.2,245.7L766.2,244.8L765.5,243.4L763.2,243.0L762.2,243.7L760.9,243.3L759.6,243.6L760.0,241.6L759.7,240.1L758.6,239.9L758.0,238.9L758.2,237.3L759.2,236.4L759.4,235.4L759.9,233.9L759.9,232.8L759.4,231.9L759.3,231.1L759.4,229.3L758.4,228.2L761.9,226.4L765.0,226.8L768.3,226.8L771.0,227.3L773.0,227.1L777.1,227.2L778.4,225.7L778.9,220.7L776.3,218.1L774.4,216.8L770.6,215.9L770.4,214.1L773.6,213.5L777.8,214.2L777.0,211.3L779.4,212.4L785.2,210.4L785.9,208.4L788.1,207.9L790.1,207.4L791.4,206.7L793.6,203.0L797.0,202.0L799.1,202.1L799.6,201.5L801.7,201.4L802.2,201.9L803.9,200.7L803.3,199.8L803.2,198.4L802.2,197.0L802.1,194.4L802.5,193.7L803.2,193.0L805.4,192.8L806.3,192.1L808.3,191.4L808.2,192.7L807.5,193.5L807.8,194.2L809.1,194.6L808.5,195.6L807.8,195.3L806.0,197.1L806.7,198.3L806.7,199.3L809.2,199.9L809.2,200.7L811.8,200.3L813.2,199.6L816.0,200.6L817.2,201.4L818.9,200.6L822.8,199.5L825.9,198.6L828.4,199.1L828.6,199.7L831.0,199.7L831.6,198.6L835.0,197.8L834.5,195.7L834.6,193.8L835.8,192.2L838.2,191.4L840.2,193.2L842.2,193.2L842.6,191.3L842.9,189.8L842.0,190.1L840.4,189.2L840.2,187.8L843.4,187.1L846.5,186.7L849.2,187.1L851.8,187.1L854.7,185.7L852.0,184.5L847.5,184.7L843.1,185.6L839.0,186.1L837.6,184.8L835.2,184.0L835.7,181.5L834.5,179.2L835.7,177.8L838.0,176.2L843.7,173.5L845.4,173.0L845.1,171.9L841.6,170.7L837.3,171.4L834.9,173.2L835.3,174.7L831.3,176.7L826.5,178.9L824.7,182.4L826.4,184.2L828.8,185.6L826.5,188.4L823.9,189.0L823.0,193.2L821.6,195.5L818.5,195.3L817.1,197.2L814.2,197.4L813.4,195.0L811.3,192.2L809.4,188.6L807.8,187.1L802.8,190.0L799.5,190.6L796.0,189.3L795.1,186.6L794.3,180.8L796.6,179.2L803.2,177.1L808.2,174.5L812.8,171.0L818.8,166.2L823.0,164.3L829.8,161.2L835.3,160.1L839.4,160.2L843.2,158.2L847.8,158.3L852.3,157.8L860.1,159.6L856.9,160.3L859.6,161.8L862.2,161.0L866.3,162.5L873.1,163.1L882.6,165.9L884.5,167.1L884.7,168.8L881.9,170.1L877.8,170.7L866.7,168.8L864.8,169.2L868.9,171.0L869.1,172.1L869.2,174.7L872.4,175.5L874.4,176.1L874.7,174.9L873.2,173.8L874.8,172.9L880.9,174.4L883.0,173.8L881.3,172.0L887.1,169.5L889.4,169.7L891.8,170.6L893.2,168.8L891.1,167.4L892.4,165.9L890.5,164.3L897.5,165.1L898.9,166.5L895.8,166.8L895.8,168.2L897.8,169.1L901.6,168.5L902.2,166.9L907.5,165.7L916.2,163.6L918.1,163.7L915.6,165.2L918.7,165.5L920.5,164.6L925.2,164.6L928.9,163.5L931.7,165.0L934.6,163.4L932.0,161.9L933.3,161.1L940.6,161.9L944.1,162.7L953.2,165.5L954.8,164.2L952.3,162.9L952.2,162.3L949.2,162.1L950.0,160.9L948.7,159.0L948.6,158.2L953.2,155.9L954.9,153.6L956.7,153.1L963.4,153.8L963.9,155.2L961.5,157.2L963.1,158.0L963.9,159.8L963.3,163.2L966.1,164.7L965.0,166.4L960.1,169.9L963.0,170.3L964.0,169.4L966.7,168.8L967.4,167.5L969.5,166.3L968.1,164.9L969.3,163.3L966.5,163.1L965.9,161.7L967.9,159.2L964.7,157.1L969.1,155.4L968.6,153.7L969.8,153.6L971.1,155.0L970.1,157.4L972.8,157.9L971.7,156.1L975.9,155.1L981.0,154.9L985.7,156.4L983.4,154.3L983.2,151.6L987.5,151.1L993.6,151.2L999.0,150.9L996.9,149.6L999.8,147.9L1002.7,147.9L1007.6,146.6L1014.2,146.3L1015.0,145.6L1021.6,145.4L1023.6,145.9L1029.2,144.6L1033.8,144.7L1034.5,143.6L1036.9,142.5L1042.8,141.5L1047.1,142.3L1043.7,142.9L1049.4,143.3L1050.0,144.5L1052.3,143.9L1059.6,144.0L1065.3,145.2L1067.3,146.1L1066.7,147.4L1063.9,148.2L1057.3,149.5L1055.4,150.3L1058.5,150.6L1062.2,151.3L1064.5,150.8L1065.8,152.4L1066.9,151.8L1070.9,151.4L1078.9,151.8L1079.5,152.9L1089.9,153.3L1090.1,151.4L1095.4,151.8L1099.4,151.8L1103.4,153.1L1104.6,154.7L1103.1,155.8L1106.2,157.8L1110.2,158.8L1112.6,156.1L1116.6,157.3L1120.9,156.6L1125.7,157.4L1127.5,156.7L1131.6,157.0L1129.8,154.7L1133.1,153.6L1155.7,155.2L1157.8,156.7L1164.4,158.6L1174.5,158.2L1179.5,158.6L1181.5,159.6L1181.2,161.4L1184.3,162.1L1187.7,161.6L1192.1,161.6L1196.8,162.1L1201.6,161.8L1205.9,164.0L1209.0,163.2L1207.0,161.6L1208.1,160.5L1216.1,161.2L1221.3,161.0L1228.5,162.2L1234.5,163.3L1234.5,170.7L1234.5,173.3L1228.8,174.4L1225.5,174.2L1227.8,175.5L1229.3,177.6L1230.4,178.3L1230.7,179.3L1230.1,180.0L1225.4,179.4L1218.4,181.3L1216.2,181.6L1212.4,183.4L1208.7,184.9L1207.8,186.1L1204.2,184.3L1197.7,186.3L1196.6,185.4L1194.2,186.4L1190.8,186.1L1190.0,187.7L1187.0,190.2L1187.1,191.2L1189.9,191.7L1189.6,195.4L1187.3,195.5L1186.2,197.5L1187.3,198.6L1182.9,199.9L1182.0,202.8L1178.3,203.4L1177.5,205.9L1173.9,208.2L1173.0,206.5L1171.9,202.9L1170.5,197.3L1171.7,193.8L1173.9,192.4L1174.0,191.2L1177.9,190.6L1182.3,187.5L1186.6,184.9L1191.1,182.9L1193.2,179.4L1190.1,179.6L1188.6,181.7L1182.3,184.4L1180.2,181.3L1173.8,182.2L1167.5,186.4L1169.6,187.9L1164.0,188.6L1160.1,188.8L1160.3,187.0L1156.4,186.6L1153.3,187.9L1145.7,187.4L1137.5,188.2L1129.4,193.0L1119.8,198.9L1123.7,199.3L1124.9,200.8L1127.4,201.4L1129.0,200.1L1131.7,200.3L1135.3,203.0L1135.4,205.2L1133.5,207.7L1133.2,210.6L1132.1,214.6L1128.3,218.3L1127.5,220.0L1124.1,222.9L1120.8,225.8L1119.1,227.3L1115.8,228.7L1114.2,228.8L1112.6,227.6L1109.3,229.4L1108.9,230.2L1107.9,230.1L1106.9,230.9L1106.1,231.8L1106.2,233.6L1104.9,234.1L1104.5,234.5L1103.5,235.3L1101.9,235.7L1100.8,236.4L1100.7,237.5L1100.4,237.7L1101.4,238.1L1102.8,239.2L1105.0,242.2L1105.6,243.8L1105.6,246.7L1104.7,248.1L1102.4,248.5L1100.4,249.6L1098.2,249.8L1097.9,248.4L1098.3,246.6L1097.2,243.9L1099.1,243.5L1097.4,241.4L1096.2,240.9L1095.9,241.4L1095.1,241.6L1095.0,241.1L1094.4,240.9L1093.7,240.5L1094.4,239.4L1095.0,239.1L1094.8,238.6L1095.4,237.3L1095.2,236.9L1093.8,236.6L1092.6,235.9L1089.1,236.7L1087.3,237.8L1084.6,238.5L1085.9,237.4L1085.4,236.4L1087.4,234.7L1086.0,233.4L1083.9,234.3L1081.0,236.0L1079.5,237.6L1077.0,237.8L1075.8,238.9L1077.1,240.6L1079.1,241.0L1079.2,242.1L1081.2,242.9L1084.0,241.1L1086.2,242.1L1087.8,242.1L1088.2,243.4L1084.7,244.1L1083.5,245.5L1081.1,246.7L1079.8,248.5L1082.5,249.9L1083.5,252.3L1085.0,254.6L1086.7,256.5L1086.7,258.4L1085.1,259.1L1085.7,260.4L1087.2,261.2L1086.8,263.2L1086.1,265.2L1084.8,265.4L1082.9,268.2L1080.9,271.4L1078.6,274.4L1075.1,276.7L1071.7,278.8L1068.8,279.1L1067.3,280.2L1066.5,279.4L1065.0,280.7L1061.5,281.9L1058.9,282.3L1058.0,284.9L1056.7,285.1L1056.0,283.3L1056.6,282.3L1053.2,281.5L1052.1,281.9L1048.7,284.0L1046.6,286.4L1046.1,288.1L1048.0,290.8L1050.3,294.0L1052.6,295.6L1054.1,297.6L1055.3,302.2L1054.9,306.6L1052.9,308.3L1050.0,309.9L1048.0,312.0L1044.8,314.3L1043.9,312.7L1044.6,311.0L1042.8,309.6L1040.7,309.2L1039.7,307.9L1038.4,305.3L1036.2,304.2L1034.0,304.2L1034.4,302.3L1032.2,302.3L1032.0,305.0L1030.6,308.7L1029.8,310.9L1030.0,312.7L1031.6,312.8L1032.6,315.0L1033.1,317.2L1034.5,318.6L1036.0,318.9L1037.3,320.2L1037.9,320.5L1039.3,322.0L1040.4,323.6L1040.5,325.3L1040.3,326.5L1040.5,327.3L1040.7,328.8L1041.6,329.5L1042.6,331.7L1042.5,332.6L1040.7,332.7L1038.4,330.9L1035.4,328.9L1035.1,327.6L1033.7,325.9L1033.3,323.9L1032.4,322.5L1032.7,320.7L1032.1,319.6L1031.1,318.7L1030.7,317.4L1029.4,316.0L1028.2,314.8L1027.8,316.3L1027.3,314.9L1027.6,313.4L1028.3,311.0L1028.1,309.1L1028.8,307.2L1028.0,305.7L1028.2,303.0L1027.2,301.7L1026.4,298.7L1025.9,295.5L1024.8,293.5L1023.2,294.7L1020.3,296.5L1018.9,296.3L1017.4,295.7L1018.2,292.6L1017.7,290.3L1015.8,287.4L1016.1,286.5L1014.6,286.1L1012.8,284.1L1012.1,282.8L1012.0,281.5L1011.5,280.3L1010.5,278.9L1008.2,278.8L1008.4,279.8L1007.6,281.2L1006.5,280.7L1006.2,281.1L1005.5,280.9L1004.5,280.6L1004.1,281.6L1002.4,281.5L999.4,282.0L999.5,283.9L998.2,285.4L994.6,287.1L991.8,290.0L989.9,291.6L987.4,293.2L987.4,294.4L986.1,295.0L983.9,295.9L982.7,296.0L982.0,297.9L982.5,301.2L982.6,303.3L981.6,305.6L981.6,309.9L980.3,310.0L979.1,311.9L979.9,312.7L977.6,313.5L976.8,315.2L975.8,315.9L973.4,313.5L972.2,310.0L971.3,307.5L970.4,306.3L969.1,303.9L968.5,300.8L968.0,299.2L965.7,295.8L964.7,291.0L964.0,287.8L964.0,284.7L963.5,282.4L959.9,283.9L958.1,283.6L954.8,280.6L956.0,279.7L955.3,278.7L952.3,276.6L950.5,275.9L949.8,274.1L947.8,272.2L943.2,272.7L939.2,272.7L935.6,273.1L930.9,272.3L928.2,271.8L925.4,271.4L924.3,268.4L923.1,267.9L921.2,268.4L918.7,269.6L915.6,268.8L913.1,266.8L910.7,266.1L909.0,263.8L907.2,260.4L905.8,260.8L904.2,260.0L903.3,261.0L901.8,260.8L902.3,262.0L902.1,262.5L902.9,264.4L903.9,266.6L905.1,267.1L905.6,268.0L907.3,269.1L907.4,270.1L907.2,270.9L907.5,271.8L908.2,272.5L908.5,273.3L908.9,273.9L908.7,272.1L909.4,270.8L910.1,270.5L910.9,271.3L910.9,272.7L910.4,274.2L910.8,275.2L911.3,275.1L911.4,275.7L913.3,275.3L915.4,275.4L916.9,275.5L918.6,273.8L920.5,272.2L922.1,270.6L922.8,269.8L923.1,270.0L922.9,271.0L922.5,271.5L922.9,273.5L924.0,275.2L925.4,276.1L927.2,276.4L928.7,276.9L929.8,278.3L930.5,279.1L931.4,279.5L931.4,280.0L930.5,281.5L930.1,282.2L929.0,283.0L928.1,284.7L927.0,284.6L926.5,285.2L926.1,286.4L926.4,288.1L926.1,288.4L925.0,288.4L923.4,289.4L923.2,290.6L922.6,291.1L921.0,291.1L920.1,291.7L920.1,292.7L918.9,293.4L917.5,293.2L915.8,294.0L914.7,294.2L912.9,294.8L912.4,295.9L912.3,296.8L909.8,297.8L905.8,299.0L903.6,300.8L902.5,300.9L901.7,300.8L900.3,301.8L898.7,302.3L896.6,302.4L896.0,302.6L895.4,303.2L894.7,303.4L894.4,304.0L893.1,304.0L892.3,304.3L890.6,304.2L889.9,302.7L890.0,301.4L889.6,300.6L889.1,298.8L888.4,297.8L888.9,297.6L888.6,296.5L888.9,296.0L888.8,294.9L888.5,293.9L887.8,293.1L887.6,292.1L886.3,291.2L884.9,289.1L884.2,287.1L882.5,285.4L881.4,284.9L879.7,282.6L879.4,280.8L879.6,279.3L878.1,276.6L876.9,275.6L875.6,275.1L874.7,273.6L874.9,273.1L874.2,271.8L873.5,271.2L872.5,269.4L871.0,267.3L869.7,265.6L868.4,265.6L868.8,264.3L868.9,263.4L869.3,262.4L869.2,262.0ZM329.2,163.3L337.8,165.2L344.4,167.7L344.2,169.3L345.9,169.9L345.3,168.1L352.1,168.5L357.0,170.8L354.5,171.9L350.4,172.1L350.3,174.6L349.3,175.1L347.0,175.0L345.1,174.2L341.8,173.4L341.2,172.3L338.7,171.9L335.8,172.3L334.5,171.4L335.0,170.5L332.0,171.1L333.1,172.2L329.2,173.3ZM767.4,210.4L771.1,207.7L773.3,207.2L769.4,206.8L768.7,205.8L771.3,205.0L769.9,203.7L770.4,202.0L774.1,202.3L774.5,200.8L772.8,199.2L769.7,198.8L769.1,198.1L770.0,197.0L769.2,196.3L767.9,197.5L767.7,195.1L766.5,193.8L767.4,191.2L769.3,189.2L771.3,189.4L774.3,189.2L771.7,191.9L774.2,191.5L776.9,191.6L776.3,193.6L774.0,195.8L776.6,196.0L779.1,199.2L780.8,199.6L782.3,202.4L783.0,203.4L786.0,203.9L785.7,205.5L784.5,206.2L785.5,207.5L783.2,208.8L779.9,208.8L775.6,209.5L774.4,209.0L772.8,210.2L770.5,209.9L768.7,210.9ZM766.3,201.1L766.8,202.9L764.9,205.1L760.4,206.6L756.9,206.2L758.9,203.6L757.6,201.1L761.0,199.1L762.9,197.9L765.0,197.8L767.7,199.4ZM745.6,169.6L745.0,171.2L747.8,172.9L744.6,174.8L737.4,176.5L735.2,177.0L731.9,176.6L724.9,175.8L727.4,174.7L721.9,173.5L726.4,173.0L726.3,172.3L721.0,171.7L722.7,170.1L726.5,169.7L730.4,171.4L734.2,170.0L737.3,170.8L741.4,169.4ZM925.7,158.9L924.2,159.2L916.1,158.8L915.4,157.7L910.9,157.1L910.5,155.7L913.1,155.2L913.0,153.8L918.0,151.7L915.7,151.4L921.6,149.2L921.0,148.0L926.6,146.7L934.8,145.1L943.1,144.6L947.4,143.7L952.3,143.4L954.0,144.4L952.3,145.2L943.5,146.4L935.8,147.6L928.1,150.0L924.4,152.4L920.4,154.8L920.9,156.9ZM898.1,135.1L899.6,134.3L894.0,134.3L898.9,133.8L902.7,133.8L903.2,134.5L904.6,133.9L907.0,133.4L910.7,134.0L909.7,134.4L906.4,134.7L904.1,134.9L903.8,135.3L900.9,135.7ZM1141.1,208.9L1143.6,213.3L1139.9,212.5L1138.4,216.1L1140.8,218.7L1140.7,220.4L1138.8,218.9L1137.2,220.8L1136.7,218.7L1137.0,216.3L1136.7,213.6L1137.3,211.7L1137.4,208.4L1135.9,205.9L1136.2,202.5L1138.5,201.4L1137.5,200.2L1138.6,199.8L1139.2,201.5L1140.1,203.9L1140.1,206.4ZM1141.7,225.3L1143.5,225.9L1145.3,224.8L1145.8,227.6L1142.1,228.3L1139.9,230.8L1136.0,229.1L1134.6,231.8L1131.9,231.8L1131.5,229.4L1132.7,227.4L1135.4,227.3L1136.1,223.8L1136.9,221.9L1139.8,224.5ZM1136.7,237.8L1134.4,240.3L1134.4,242.9L1133.5,244.9L1133.9,246.2L1132.6,247.9L1129.4,249.1L1125.0,249.2L1121.4,252.1L1119.8,251.1L1119.7,249.3L1115.3,249.8L1112.3,251.0L1109.4,251.0L1111.9,252.9L1110.3,257.1L1108.7,258.2L1107.4,257.2L1108.1,255.0L1106.5,254.2L1105.5,252.5L1107.8,251.8L1109.1,250.2L1111.6,248.9L1113.5,247.2L1118.5,246.4L1121.2,246.9L1123.8,242.5L1125.4,243.7L1129.1,241.2L1130.5,240.2L1132.1,237.2L1131.7,234.4L1132.7,232.8L1135.4,232.3L1136.7,235.8ZM1118.6,250.4L1118.9,251.2L1117.5,252.8L1116.4,252.0L1115.2,252.5L1114.5,254.0L1112.8,253.3L1112.9,252.1L1114.3,250.6L1115.7,250.9L1116.7,249.9ZM1086.4,274.8L1084.9,278.8L1083.8,280.9L1082.5,278.8L1082.2,276.9L1083.7,274.4L1085.7,272.5L1086.8,273.3ZM1057.8,289.1L1055.6,290.3L1053.6,289.5L1053.5,287.4L1054.7,286.2L1057.5,285.5L1058.9,285.6L1059.5,286.5L1058.4,287.6ZM986.4,317.0L986.0,319.6L985.0,320.3L982.8,320.9L981.6,318.9L981.2,315.3L982.3,311.2L984.0,312.6L985.2,314.4ZM1076.6,325.4L1075.2,327.7L1077.1,330.1L1076.6,331.2L1079.4,333.5L1076.5,333.8L1075.6,335.5L1075.7,337.8L1073.3,339.5L1073.3,342.0L1072.3,345.8L1071.9,345.0L1069.1,346.1L1068.1,344.6L1066.3,344.4L1065.1,343.6L1062.1,344.5L1061.2,343.3L1059.6,343.4L1057.5,343.1L1057.1,339.8L1055.9,339.1L1054.7,337.0L1054.3,334.7L1054.6,332.4L1056.1,330.8L1057.9,331.6L1059.9,331.2L1060.4,329.0L1061.4,328.6L1064.4,328.0L1066.2,326.1L1067.4,324.5L1068.4,323.5L1070.6,322.2L1072.5,320.4L1073.8,318.5L1074.8,318.5L1076.0,319.7L1076.2,320.8L1077.8,321.5L1079.9,322.3L1079.7,323.2L1078.0,323.4L1078.5,324.6ZM1020.1,322.1L1025.6,322.7L1027.8,325.1L1029.8,326.8L1031.1,327.9L1033.5,330.5L1036.1,330.6L1038.2,332.3L1039.6,334.4L1041.5,335.5L1040.5,337.6L1042.0,338.5L1042.9,338.5L1043.3,340.3L1044.2,341.7L1046.0,341.9L1047.2,343.5L1046.6,346.6L1046.5,350.4L1043.7,350.5L1041.6,348.4L1038.4,346.4L1037.3,344.8L1035.4,342.8L1034.2,340.9L1032.3,337.4L1030.1,335.3L1029.3,333.2L1028.4,331.2L1026.2,329.7L1024.9,327.5L1023.0,326.1L1020.4,323.4ZM1053.5,352.8L1058.3,353.0L1058.8,352.0L1063.5,353.2L1064.4,354.8L1068.1,355.3L1071.2,356.7L1068.3,357.7L1065.6,356.7L1063.3,356.8L1060.7,356.6L1058.4,356.1L1055.5,355.2L1053.7,354.9L1052.6,355.2L1048.1,354.2L1047.6,353.1L1045.4,352.9L1047.1,350.6L1050.1,350.7L1052.1,351.7L1053.2,351.9ZM1095.0,332.2L1093.0,334.7L1091.2,335.2L1088.7,334.7L1084.6,334.8L1082.4,335.2L1082.0,337.1L1084.3,339.3L1085.6,338.2L1090.3,337.4L1090.1,338.5L1089.0,338.1L1087.9,339.6L1085.7,340.6L1088.1,343.8L1087.6,344.6L1089.9,347.5L1089.8,349.2L1088.5,349.9L1087.5,349.0L1088.7,347.0L1086.3,347.9L1085.7,347.2L1086.0,346.3L1084.2,344.8L1084.4,342.4L1082.7,343.1L1082.9,346.1L1083.0,349.6L1081.4,350.0L1080.4,349.3L1081.1,347.0L1080.7,344.5L1079.6,344.5L1078.9,342.8L1079.9,341.2L1080.2,339.2L1081.5,335.4L1082.0,334.4L1084.2,332.5L1086.1,333.3L1089.3,333.6L1092.1,333.5L1094.6,331.7ZM1117.3,338.7L1118.0,342.7L1120.6,344.2L1122.7,341.6L1125.6,340.1L1127.8,340.1L1129.9,340.9L1131.8,341.8L1134.5,342.3L1138.8,344.0L1143.4,345.5L1145.1,346.7L1146.5,348.0L1146.9,349.5L1151.1,351.0L1151.7,352.3L1149.4,352.6L1149.9,354.3L1152.2,355.9L1153.8,358.6L1155.2,358.5L1155.1,359.6L1157.1,360.0L1156.3,360.5L1159.0,361.5L1158.7,362.3L1157.0,362.4L1156.4,361.8L1154.3,361.5L1151.7,361.1L1149.8,359.5L1148.4,358.2L1147.1,356.0L1143.8,354.9L1141.7,355.6L1140.2,356.4L1140.5,358.3L1138.5,359.1L1137.1,358.7L1134.5,358.6L1132.3,356.6L1129.8,356.1L1129.2,356.8L1126.0,356.8L1127.1,354.8L1128.6,354.1L1128.0,351.4L1126.8,349.3L1121.9,347.2L1119.9,347.0L1116.1,344.7L1115.4,345.9L1114.4,346.1L1113.9,345.2L1113.8,344.1L1111.9,342.9L1114.6,342.0L1116.4,342.0L1116.2,341.3L1112.5,341.3L1111.5,339.9L1109.3,339.4L1108.2,338.2L1111.6,337.6L1112.9,336.7L1116.9,337.8ZM1090.6,361.4L1090.8,360.6L1091.9,359.0L1094.4,358.0L1096.8,356.9L1099.3,356.5L1100.3,356.8L1099.4,357.5L1096.8,358.6L1094.7,359.3L1093.0,361.2L1090.9,361.7ZM1089.2,356.0L1088.8,357.4L1085.1,358.1L1081.7,357.8L1081.7,356.9L1083.7,356.4L1085.3,357.2L1087.0,357.0ZM1077.6,356.7L1079.1,356.5L1079.8,357.6L1076.9,358.1L1075.1,358.4L1073.8,358.4L1074.6,357.0L1076.0,356.9L1076.7,356.1ZM1083.9,360.7L1083.7,361.4L1082.7,361.5L1079.4,359.7L1081.7,359.2L1083.0,360.0ZM1101.8,330.4L1101.9,331.7L1103.4,331.9L1103.7,333.0L1103.5,335.1L1102.2,334.9L1101.9,336.4L1102.9,337.8L1102.2,338.1L1101.2,336.5L1100.4,333.3L1100.9,331.3ZM1108.1,343.5L1109.0,345.5L1106.9,344.4L1104.8,344.2L1103.4,344.4L1101.7,344.3L1102.3,342.9L1105.4,342.8ZM1100.1,344.5L1099.1,345.3L1097.4,344.8L1096.9,343.8L1099.4,343.6ZM1162.3,346.2L1162.8,346.6L1162.8,348.0L1161.9,349.5L1160.6,349.7L1160.2,350.4L1158.8,351.0L1157.6,351.6L1156.2,351.6L1154.2,350.9L1152.8,350.2L1153.0,349.4L1155.2,349.8L1156.6,349.6L1157.0,348.4L1157.3,348.3L1157.6,349.6L1159.0,349.5L1159.7,348.6L1161.1,347.7L1160.8,346.2ZM1164.8,347.1L1164.0,347.7L1163.6,346.3L1163.0,345.3L1161.8,344.5L1160.4,343.4L1158.6,342.7L1159.3,342.1L1160.7,342.8L1161.5,343.3L1162.6,343.9L1163.6,345.0L1164.5,345.8ZM1168.9,349.2L1169.6,349.7L1170.8,351.3L1172.0,352.2L1171.7,352.9L1171.0,353.1L1169.9,352.2L1168.8,350.6L1168.2,348.7L1168.6,348.4ZM1196.4,388.5L1198.5,390.1L1199.8,391.2L1198.8,391.8L1197.5,391.1L1195.7,390.0L1194.1,388.7L1192.4,386.9L1192.1,386.1L1193.1,386.1L1194.5,387.0L1195.6,387.8ZM1140.9,370.2L1141.8,372.2L1143.4,371.2L1145.4,373.3L1145.1,374.4L1145.7,376.5L1147.4,380.2L1147.1,381.5L1147.9,383.2L1150.6,384.5L1154.1,386.8L1153.8,387.4L1155.2,389.0L1156.2,391.7L1157.2,391.1L1158.2,392.2L1158.8,391.8L1159.2,394.5L1161.0,396.0L1162.1,397.0L1164.1,399.0L1164.8,401.0L1164.9,402.4L1164.7,404.0L1165.9,406.1L1165.7,408.3L1165.3,409.5L1164.6,411.7L1164.7,413.1L1164.2,414.9L1163.1,417.2L1161.2,418.4L1160.3,420.4L1159.5,421.6L1158.7,423.8L1157.8,425.0L1157.2,426.9L1156.8,428.6L1157.0,429.4L1155.5,430.3L1152.7,430.4L1150.4,431.4L1149.3,432.4L1147.8,433.4L1145.7,432.3L1144.2,431.9L1144.5,430.6L1143.2,431.1L1141.0,432.9L1138.8,432.2L1137.4,431.8L1136.0,431.6L1133.6,430.9L1131.9,429.3L1131.5,427.4L1130.9,425.2L1129.7,425.2L1127.3,424.9L1128.1,423.7L1127.5,421.8L1126.3,423.5L1124.0,424.0L1125.3,422.6L1125.7,421.2L1126.7,419.9L1126.5,418.1L1124.5,420.2L1122.9,421.1L1121.9,423.1L1120.0,422.0L1120.1,420.7L1118.5,418.9L1117.2,418.0L1117.6,417.4L1114.4,415.9L1112.7,415.8L1110.3,414.6L1105.8,414.8L1102.5,415.7L1099.7,416.5L1097.3,416.4L1094.7,417.7L1092.5,418.2L1092.0,419.5L1091.1,420.6L1089.0,420.6L1087.4,420.8L1085.2,420.4L1083.4,420.7L1081.7,420.8L1080.2,422.1L1079.5,422.0L1078.2,422.7L1077.0,423.5L1075.2,423.4L1073.5,423.4L1070.8,421.8L1069.5,421.3L1069.6,419.9L1070.8,419.6L1071.2,419.0L1071.1,418.1L1071.4,416.4L1071.2,414.9L1069.8,412.3L1069.4,410.9L1069.5,409.5L1068.5,407.8L1068.5,407.1L1067.4,406.1L1067.1,404.1L1065.6,402.2L1065.3,401.1L1066.4,402.2L1065.5,399.9L1066.8,400.6L1067.5,401.6L1067.5,400.3L1066.2,398.3L1066.0,397.5L1065.4,396.8L1065.7,395.3L1066.2,394.7L1066.5,393.5L1066.3,392.0L1067.3,390.2L1067.5,392.1L1068.6,390.4L1070.6,389.6L1071.8,388.5L1073.7,387.6L1074.9,387.4L1075.5,387.7L1077.5,386.7L1079.0,386.5L1079.4,385.9L1080.1,385.7L1081.5,385.8L1084.1,385.0L1085.4,383.9L1086.1,382.6L1087.5,381.3L1087.7,380.3L1087.7,378.9L1089.5,376.8L1090.5,379.0L1091.6,378.5L1090.7,377.3L1091.5,376.1L1092.6,376.6L1092.9,374.7L1094.3,373.5L1094.9,372.5L1096.1,372.1L1096.2,371.4L1097.3,371.7L1097.3,371.1L1098.4,370.7L1099.6,370.4L1101.4,371.5L1102.8,373.0L1104.4,373.0L1106.0,373.2L1105.5,371.9L1106.7,369.9L1107.8,369.2L1107.4,368.6L1108.5,367.2L1110.0,366.3L1111.3,366.6L1113.4,366.1L1113.4,364.8L1111.5,364.0L1112.8,363.6L1114.5,364.3L1115.8,365.3L1117.9,365.9L1118.7,365.7L1120.2,366.4L1121.7,365.7L1122.6,365.9L1123.2,365.5L1124.3,366.7L1123.7,368.0L1122.7,369.0L1121.9,369.1L1122.2,370.1L1121.4,371.4L1120.5,372.6L1120.7,373.3L1122.7,374.7L1124.6,375.5L1125.9,376.4L1127.7,377.8L1128.4,377.8L1129.7,378.5L1130.1,379.2L1132.5,380.1L1134.2,379.2L1134.6,377.9L1135.1,376.8L1135.5,375.4L1136.2,373.4L1135.9,372.2L1136.1,371.5L1135.8,370.1L1136.1,368.2L1136.6,367.7L1136.2,366.8L1136.8,365.5L1137.3,364.1L1137.3,363.4L1138.3,362.5L1139.0,363.7L1139.1,365.3L1139.8,365.6L1139.9,366.6L1140.8,367.9L1141.0,369.3ZM1145.5,437.8L1147.9,438.7L1149.2,438.3L1151.2,437.9L1152.7,438.0L1152.9,441.0L1152.0,441.9L1151.7,443.9L1150.9,443.2L1149.1,444.9L1148.6,444.8L1147.1,444.7L1145.5,442.6L1145.2,440.9L1143.8,438.7L1143.8,437.6ZM1224.2,436.0L1223.3,437.3L1222.0,439.1L1220.1,440.1L1219.7,439.4L1218.6,439.0L1220.1,437.0L1219.2,435.6L1216.5,434.6L1216.6,433.7L1218.4,432.8L1218.8,430.9L1218.7,429.3L1217.7,427.6L1217.8,427.2L1216.6,426.1L1214.6,423.9L1213.6,422.2L1214.5,422.0L1215.9,423.4L1217.8,424.0L1218.5,426.2L1220.3,428.9L1220.4,427.2L1221.5,427.8L1221.9,429.7L1223.9,430.5L1225.6,430.7L1227.0,429.8L1228.3,430.1L1227.7,432.3L1226.9,433.8L1225.0,433.7L1224.3,434.5L1224.6,435.5ZM1206.2,444.7L1208.3,443.4L1209.8,442.1L1210.9,440.3L1211.9,439.6L1212.2,438.2L1214.0,437.1L1214.5,438.1L1215.1,439.2L1216.9,438.2L1217.6,439.2L1217.6,440.3L1216.7,441.4L1215.0,443.3L1213.8,444.3L1214.7,445.5L1212.8,445.5L1210.6,446.4L1210.0,448.1L1208.5,450.6L1206.6,451.7L1205.3,452.4L1203.0,452.4L1201.4,451.6L1198.7,451.4L1198.3,450.5L1199.6,448.6L1202.7,446.1L1204.4,445.7ZM820.7,240.2L819.8,242.2L820.1,242.9L819.6,244.2L817.7,243.3L816.4,243.0L812.9,241.7L813.3,240.4L816.2,240.7L818.8,240.4ZM804.9,232.7L806.4,234.5L806.0,237.8L804.9,237.7L803.9,238.5L802.9,237.8L802.8,234.8L802.3,233.4L803.6,233.5ZM803.7,229.2L805.3,228.2L805.8,230.4L804.9,232.3L803.8,231.8L803.2,230.1ZM841.1,246.5L842.5,247.3L844.4,247.2L846.3,247.4L846.2,247.8L847.6,247.5L847.3,248.3L843.7,248.5L843.7,248.1L840.6,247.6ZM863.7,247.9L863.9,247.9L864.2,247.3L866.0,247.3L868.3,246.6L866.6,247.6L866.8,248.1L866.9,248.3L864.3,249.3L863.1,249.0L862.5,248.0ZM812.8,195.5L813.6,196.7L812.1,198.8L809.5,197.4L809.1,196.3ZM819.7,136.6L820.7,135.7L824.3,135.6L827.5,136.5L835.7,138.3L829.4,139.3L828.0,141.2L825.8,141.6L824.7,143.7L821.6,143.8L816.3,142.3L818.5,141.4L814.8,140.7L809.9,138.6L808.0,136.6L814.8,135.7L816.2,136.6ZM850.4,135.6L846.7,136.9L839.4,137.2L832.1,136.8L831.6,136.1L828.0,136.1L825.3,134.9L833.0,134.2L836.6,134.8L839.2,134.1L845.5,134.7ZM843.7,141.1L838.1,142.1L833.7,141.5L835.4,140.9L833.9,140.1L839.1,139.6L840.1,140.5ZM1031.8,138.5L1026.3,138.8L1019.3,138.1L1015.2,137.2L1013.3,135.4L1009.9,134.9L1016.4,133.2L1021.8,132.6L1026.6,133.9L1032.4,136.3ZM1044.6,140.0L1030.5,140.9L1035.1,137.7L1037.2,137.4L1039.0,137.5L1045.4,139.0ZM1147.9,147.0L1152.5,147.4L1158.8,148.0L1155.9,149.0L1151.9,148.8L1147.3,147.8ZM1129.0,145.4L1135.6,145.5L1144.7,146.8L1142.7,148.7L1133.5,148.6L1129.4,149.2L1124.4,147.6L1125.7,145.9ZM1141.0,152.7L1137.2,152.7L1132.1,152.4L1131.6,152.3L1134.0,151.3L1137.1,151.1L1140.7,152.0ZM1234.5,156.9L1228.8,158.0L1229.2,158.8L1234.5,158.7ZM329.2,158.7L337.6,157.9L337.8,157.6L334.2,156.8L329.2,156.9ZM1085.2,289.5L1086.8,290.2L1087.6,289.6L1087.8,290.2L1087.4,291.3L1088.2,293.1L1087.6,295.1L1086.1,296.0L1085.7,298.0L1086.3,300.0L1087.6,300.2L1088.7,299.9L1091.8,301.3L1091.6,302.7L1092.4,303.3L1092.1,304.4L1090.2,303.2L1089.3,301.9L1088.6,302.8L1087.0,301.3L1084.8,301.7L1083.5,301.1L1083.6,300.1L1084.4,299.5L1083.7,298.9L1083.3,299.8L1082.1,298.4L1081.7,297.3L1081.6,294.9L1082.7,295.7L1082.9,291.8L1083.7,289.5ZM1097.9,314.8L1098.1,316.4L1098.3,317.8L1097.4,320.1L1096.5,317.6L1095.3,318.8L1096.1,320.7L1095.4,321.8L1092.5,320.4L1091.8,318.6L1092.5,317.4L1091.0,316.2L1090.2,317.2L1089.0,317.1L1087.2,318.5L1086.7,317.8L1087.7,315.7L1089.3,315.0L1090.7,314.1L1091.5,315.2L1093.4,314.5L1093.8,313.4L1095.6,313.3L1095.5,311.4L1097.5,312.6L1097.7,313.8ZM1080.7,307.4L1081.2,309.4L1079.5,310.8L1078.2,312.5L1074.9,314.9L1076.1,313.1L1077.9,311.6L1079.4,309.8ZM1096.4,308.2L1094.5,307.5L1094.5,308.3L1095.1,309.9L1093.9,310.5L1093.8,308.7L1093.1,308.6L1092.7,307.0L1094.2,307.2L1094.1,306.3L1092.6,304.4L1095.0,304.4L1095.7,305.4ZM1089.7,306.8L1089.7,307.9L1088.5,308.9L1086.9,309.7L1086.9,308.5L1087.0,307.2L1086.6,306.1L1088.1,306.8ZM1092.1,307.7L1091.9,310.1L1091.0,310.9L1090.2,312.5L1089.4,313.2L1087.9,311.5L1088.4,310.8L1089.0,310.1L1089.3,308.6L1090.7,308.4L1090.3,310.1ZM1085.8,303.1L1085.1,305.3L1084.0,304.0L1082.7,302.1L1084.9,302.2ZM1181.1,359.9L1181.2,358.9L1182.9,359.3L1183.7,359.8L1184.1,360.5L1183.1,360.6ZM1184.3,356.6L1185.2,358.6L1186.2,359.8L1185.8,360.3L1183.9,358.1L1183.4,356.6ZM1181.7,356.7L1181.8,357.2L1179.8,356.1L1178.4,355.2L1177.5,354.4L1177.9,354.1L1179.0,354.7L1181.1,355.9ZM1174.8,353.4L1175.8,354.2L1175.3,354.3L1174.2,353.8L1173.2,352.7L1173.3,352.3ZM1186.2,361.3L1187.3,362.0L1188.0,362.9L1186.2,362.9L1185.3,361.3ZM1200.0,375.5L1201.6,377.0L1200.8,377.3L1199.9,376.2ZM1199.0,375.0L1198.6,374.3L1198.6,372.4L1199.8,373.1L1200.2,375.2L1199.5,374.8ZM1227.9,379.2L1228.8,379.9L1228.4,381.2L1226.8,381.5L1225.4,381.2L1225.2,380.1L1226.2,379.3L1227.3,379.6ZM1230.4,377.8L1228.8,378.3L1228.5,377.4L1229.7,376.9L1230.5,376.8L1234.5,376.0L1234.5,377.2ZM616.8,181.0L611.8,179.8L607.0,178.7L604.3,178.5L601.3,177.2L598.3,175.2L594.8,174.7L590.5,175.2L587.5,175.2L585.3,174.2L587.0,172.5L591.8,172.5L596.8,172.0L598.5,170.0L600.0,167.5L599.5,166.5L598.5,165.5L594.8,164.2L589.5,163.5L591.3,163.0L588.5,161.2L586.3,161.2L584.3,160.2L583.0,161.0L578.5,161.5L569.5,160.7L564.0,160.0L560.0,159.7L558.0,158.7L560.5,157.7L557.0,157.7L556.3,155.2L558.3,153.0L560.8,152.0L567.3,151.2L565.3,152.7L567.3,154.5L569.5,152.5L576.0,151.2L580.3,154.0L580.0,155.5L584.8,154.7L587.3,154.0L592.8,155.2L596.3,156.2L596.5,157.5L601.3,156.7L603.8,158.5L609.8,159.5L612.0,160.5L614.3,162.7L609.8,164.0L615.8,165.5L619.5,166.2L623.3,168.5L627.0,168.5L626.3,170.2L622.0,173.2L619.0,172.2L615.0,169.7L611.8,170.0L611.5,171.5L614.0,173.0L617.5,174.2L618.5,174.7L620.0,177.2L619.3,179.0L616.0,178.5L609.8,176.5L613.3,178.5L616.0,180.0L616.8,181.0ZM488.3,160.7L494.3,162.7L497.0,164.5L509.3,164.0L518.0,163.0L526.8,163.5L529.3,161.5L525.3,159.7L528.5,158.5L520.5,158.2L520.3,156.5L518.3,154.0L514.3,153.0L510.8,153.0L512.3,155.7L510.0,155.0L506.8,153.5L500.8,153.5L495.3,152.5L493.5,154.0L487.0,154.0L484.2,156.7L487.2,157.2L492.0,157.2L487.0,158.2L488.8,159.4L500.5,159.9L498.0,160.5L488.3,160.7ZM474.0,158.0L480.2,157.2L483.7,155.7L487.5,154.0L493.0,152.0L487.0,150.2L478.0,149.5L470.0,150.0L469.7,151.5L472.0,151.5L467.0,155.0L467.0,156.0ZM489.3,147.7L494.3,149.5L501.8,149.7L505.3,148.7L509.3,148.5L516.0,148.2L517.5,147.0L516.8,145.7L511.3,145.2L510.3,144.0L506.8,144.5L507.8,145.7L500.3,145.5L493.3,144.5L487.5,145.7L491.0,147.0ZM474.5,145.5L478.7,145.7L482.0,145.6L486.7,144.5L489.0,144.5L491.0,143.5L491.3,141.7L484.0,142.0L478.7,143.5ZM530.8,151.2L533.8,151.7L538.3,151.2L539.0,152.0L536.5,153.2L540.5,154.2L540.0,156.5L535.8,157.5L533.5,157.2L531.8,156.5L525.5,154.5L525.5,153.7L530.8,154.0L528.0,152.2ZM548.8,153.7L546.0,155.7L543.3,155.5L541.8,153.5L541.8,152.2L543.0,151.0L545.5,150.5L550.8,150.5L555.5,151.0L551.8,153.2ZM532.3,162.2L534.5,161.5L536.3,160.5L538.8,161.0L540.3,161.5L541.0,162.0L542.8,163.0L541.0,163.7L537.8,163.0L535.8,163.2ZM568.8,171.5L569.3,172.7L570.6,172.3L572.1,173.0L574.8,173.7L577.7,174.6L577.9,175.8L579.7,175.6L581.5,176.4L579.3,177.2L575.4,176.6L574.0,175.5L571.5,176.8L568.0,178.1L567.1,176.6L563.7,176.9L565.9,175.6L566.2,173.7L567.1,171.4ZM574.3,178.5L577.0,178.5L577.0,179.0L574.1,180.4L572.4,180.3L571.8,179.6L573.7,178.5ZM582.0,179.8L583.5,180.3L583.0,181.5L581.0,181.5L580.8,180.8ZM547.8,143.7L552.8,143.7L555.0,144.6L554.3,145.6L557.3,146.1L558.8,146.7L562.3,146.8L565.8,147.0L569.8,146.5L574.9,146.3L579.0,146.5L581.6,147.4L582.2,148.4L580.6,149.1L576.9,149.6L573.7,149.3L566.5,149.7L561.4,149.8L557.4,149.4L550.7,148.6L549.8,147.3L549.5,146.0L547.0,144.9L541.9,144.6L539.0,143.9L539.9,142.8L545.1,143.0ZM557.8,144.6L558.0,143.4L562.3,142.8L561.1,141.0L562.6,140.8L569.3,141.9L565.9,140.3L561.9,139.8L563.9,138.8L568.3,138.2L569.1,137.4L565.5,136.4L564.4,135.1L571.3,135.2L573.3,135.5L577.2,134.6L571.5,134.3L562.8,134.4L558.3,133.6L556.3,132.6L553.3,131.9L552.8,131.0L556.5,130.5L559.4,130.4L564.3,130.0L568.0,129.1L571.1,129.2L573.8,129.9L575.7,128.6L579.0,128.2L583.5,127.9L591.2,127.8L592.5,128.1L599.7,127.7L605.1,127.8L610.5,128.0L617.2,128.2L622.6,128.5L627.2,129.2L627.1,129.8L621.0,130.9L614.9,131.4L612.6,132.0L618.1,132.0L612.2,133.5L608.1,134.2L603.8,136.2L598.7,136.7L597.1,137.2L589.5,137.4L593.0,137.7L591.2,138.2L593.3,139.4L590.9,140.3L587.1,141.0L585.9,142.0L582.4,142.7L582.7,143.3L587.0,143.2L587.1,143.8L580.4,145.3L573.9,144.6L566.5,145.0L562.8,144.7ZM564.3,136.6L567.3,137.4L563.8,138.1L559.2,140.0L554.8,140.2L549.6,139.9L546.9,138.9L546.9,138.0L548.9,137.3L544.3,137.3L541.6,136.5L540.0,135.3L541.7,134.2L543.5,133.5L546.0,133.3L544.9,132.7L550.7,132.6L553.9,133.9L558.1,134.5L562.2,134.9ZM523.0,137.7L529.8,138.7L531.5,140.0L532.5,141.0L528.5,140.7L524.5,140.0L518.8,139.7L521.3,139.0L518.3,138.5L518.0,137.5ZM538.5,138.7L542.8,139.7L542.3,140.5L538.5,141.1L536.5,140.5L535.3,139.5L535.3,138.5ZM535.5,144.0L537.5,145.0L537.5,146.5L536.3,148.2L532.3,148.5L529.5,148.1L529.5,146.7L525.5,146.8L525.3,145.0L531.8,144.2ZM547.8,148.2L546.3,149.2L542.8,149.0L539.8,148.5L541.0,147.2L544.5,146.7L546.8,147.5ZM591.0,153.0L591.0,153.7L588.5,153.5L585.8,153.5L583.0,154.0L582.3,153.7L579.5,152.5L579.8,151.5L580.9,151.3L586.6,151.6ZM641.5,209.0L639.8,211.2L641.4,210.4L643.1,210.9L642.2,211.8L644.5,212.5L645.6,211.9L648.1,212.6L647.3,214.5L649.1,214.0L649.4,215.4L650.2,216.9L649.1,219.1L648.0,219.2L646.4,218.7L646.9,216.7L646.2,216.4L643.3,218.6L641.8,218.5L643.6,217.3L641.2,216.7L638.5,216.8L633.6,216.8L633.2,216.0L634.8,215.1L633.7,214.5L635.8,212.9L638.4,209.0L639.9,207.5L642.1,206.7L643.3,206.8L642.8,207.5ZM460.8,208.8L463.5,209.4L465.0,209.8L467.3,210.0L468.2,210.9L469.4,212.1L471.9,213.1L473.0,214.5L471.7,214.8L467.6,213.7L466.9,212.8L464.6,211.9L464.2,211.2L461.6,210.8L460.6,209.4ZM448.8,200.3L450.0,200.7L452.4,200.5L451.6,203.3L453.8,205.3L452.8,205.3L451.3,204.2L450.4,203.0L449.1,202.2L448.6,201.1ZM620.5,211.1L621.4,210.9L624.6,211.5L627.2,212.5L627.3,213.0L626.1,213.0L622.8,212.3ZM621.8,218.2L622.6,219.4L624.4,219.7L626.8,219.7L625.5,220.7L624.6,220.8L621.4,219.8L620.8,218.9ZM610.2,467.4L611.2,468.6L612.4,470.5L615.7,472.0L619.2,472.6L618.0,473.8L615.7,474.0L614.4,473.1L612.9,473.0L610.2,473.0L608.7,474.6L606.8,473.8L604.3,473.5L601.1,472.1L598.6,470.7L595.1,467.9L597.2,468.5L600.7,470.1L604.0,471.0L605.3,469.9L606.1,468.2L608.4,467.1ZM628.8,465.5L631.8,464.0L633.9,464.6L635.4,463.6L637.4,464.7L636.7,465.6L633.3,466.3L632.2,465.5L630.0,466.6ZM598.5,140.6L598.9,139.7L608.4,138.5L617.5,137.3L618.5,136.3L611.7,135.4L613.9,134.4L622.6,132.7L626.2,132.4L625.2,131.3L631.1,130.7L638.8,130.3L646.5,130.2L649.2,131.0L655.8,129.6L661.8,130.6L665.3,130.8L670.5,131.6L664.6,130.2L664.9,129.2L673.3,127.7L682.1,127.8L685.3,126.9L694.1,126.6L714.1,126.9L729.7,128.9L725.1,129.9L715.5,130.0L702.1,130.2L703.3,130.7L712.2,130.4L719.7,131.3L724.6,130.5L726.7,131.4L723.9,132.9L730.3,131.9L742.4,131.0L749.9,131.4L751.3,132.5L741.1,134.3L739.7,134.9L731.7,135.3L737.5,135.4L734.6,137.2L732.6,138.9L732.7,141.6L735.7,143.3L731.7,143.4L727.6,144.2L732.3,145.5L732.8,147.6L730.2,147.8L733.4,150.0L727.9,150.2L730.8,151.2L729.9,152.1L726.4,152.5L722.9,152.5L726.1,154.2L726.1,155.3L721.1,154.2L719.8,154.9L723.2,155.5L726.5,157.1L727.5,159.1L723.0,159.6L721.0,158.6L718.0,157.2L718.8,158.9L715.9,160.2L722.5,160.3L726.0,160.4L719.2,162.6L712.4,164.6L705.1,165.4L702.4,165.4L699.8,166.4L696.3,169.0L690.9,170.8L689.2,170.9L685.9,171.5L682.3,172.1L680.1,173.6L680.1,175.4L678.8,177.0L674.8,179.0L675.8,181.0L674.6,183.1L673.4,185.5L669.8,185.7L666.2,183.6L661.2,183.6L658.7,182.2L657.1,179.8L652.7,176.7L651.5,175.0L651.1,172.8L647.7,170.5L648.6,168.6L646.9,167.8L649.4,164.8L653.1,163.9L654.1,162.9L654.6,160.9L651.8,161.8L650.4,162.2L648.2,162.5L645.1,161.7L644.9,160.0L645.9,158.7L648.2,158.6L653.3,159.3L649.0,157.7L646.8,156.9L644.3,157.2L642.2,156.6L645.0,154.3L643.5,153.3L641.5,151.6L638.5,149.0L635.3,148.0L635.3,146.9L628.6,145.5L623.3,145.3L616.6,145.4L610.5,145.6L607.6,144.8L603.3,143.2L609.8,142.4L614.9,142.3L604.2,141.6L598.5,140.6ZM399.2,193.0L396.7,194.0L395.5,193.3L395.0,192.1L397.3,191.2L398.7,190.8L400.3,191.0L401.4,191.8ZM352.5,176.3L354.0,176.8L355.5,176.5L357.5,177.2L360.0,177.5L359.7,177.8L358.0,178.3L356.0,177.8L355.0,177.3L352.8,177.4L352.2,177.2ZM365.5,184.8L367.5,185.0L367.8,186.0L366.2,186.4L364.6,185.9L363.1,185.2ZM369.5,199.3L372.2,199.3L373.2,198.6L371.2,198.3L369.5,198.5ZM362.2,202.5L365.2,202.0L366.2,201.0L364.2,200.8L362.2,202.0ZM576.1,277.8L578.3,278.0L580.2,278.0L582.6,278.9L583.6,279.8L585.9,279.5L586.8,280.1L588.9,281.6L590.5,282.8L591.3,282.7L592.8,283.2L592.6,283.9L594.5,284.1L596.3,285.1L596.0,285.7L594.4,286.0L592.7,286.1L591.0,285.9L587.4,286.1L589.1,284.8L588.1,284.1L586.4,283.9L585.6,283.2L585.0,281.8L583.6,281.9L581.2,281.2L580.5,280.7L577.2,280.3L576.4,279.8L577.3,279.2L574.8,279.1L573.1,280.4L572.0,280.4L571.7,281.0L570.4,281.3L569.4,281.0L570.7,280.3L571.2,279.4L572.3,278.8L573.6,278.3L575.5,278.1ZM598.8,286.0L600.3,286.1L602.5,286.5L602.8,286.1L604.8,286.1L606.3,286.7L606.9,286.7L607.4,287.6L608.7,287.5L608.7,288.2L609.8,288.3L611.0,289.3L610.1,290.3L608.9,289.7L607.7,289.8L606.9,289.7L606.5,290.2L605.5,290.3L605.1,289.7L604.3,290.1L603.3,291.8L602.6,291.4L602.5,290.7L600.9,290.3L599.7,290.4L598.2,290.2L597.0,290.7L595.6,289.9L595.9,289.1L598.2,289.5L600.1,289.7L601.0,289.1L599.8,288.0L599.8,287.1L598.2,286.7ZM587.9,289.6L589.5,289.8L590.9,290.4L591.3,291.1L589.5,291.1L588.8,291.5L587.4,291.1L585.9,290.2L586.2,289.7L587.3,289.5ZM616.1,289.5L617.4,289.7L617.8,290.2L617.2,290.8L615.3,290.8L613.8,290.9L613.7,289.9L614.0,289.5ZM627.6,308.9L629.0,308.6L629.5,308.6L629.4,310.5L627.4,310.8L626.9,310.6L627.6,309.9ZM392.9,288.1L392.5,288.5L391.9,288.1L391.9,287.4L391.5,286.5L392.1,285.1L393.7,285.8L394.1,286.1L394.7,287.0L393.7,287.7ZM391.5,284.2L390.7,284.4L390.2,283.8L389.9,283.5L390.2,283.3L391.1,283.5L391.7,283.9ZM387.6,282.5L387.4,282.6L386.4,282.5L386.0,281.8L386.6,281.5L386.9,281.7ZM383.3,280.8L383.1,281.1L382.2,280.6L382.7,280.2L383.3,280.3ZM389.8,282.8L389.7,283.1L388.4,283.0L388.6,282.7ZM586.3,272.8L587.1,272.9L587.9,274.9L588.0,276.4L587.3,276.5L586.7,275.1L585.8,274.3ZM584.3,268.8L585.5,268.6L587.2,268.7L587.2,269.3L584.5,269.7ZM587.3,268.2L589.3,269.3L588.9,271.1L588.4,270.8L588.4,269.5L587.3,268.5ZM904.6,219.8L903.5,221.2L901.1,221.7L898.6,224.2L900.9,226.6L900.6,228.3L903.3,231.2L904.7,232.6L905.9,234.3L907.1,234.4L907.9,235.1L905.8,235.3L905.4,237.3L904.9,238.1L904.0,238.7L904.1,240.0L904.9,241.8L907.3,242.3L909.0,243.6L912.5,244.0L916.5,243.3L916.7,242.8L916.2,241.0L916.6,238.4L914.6,237.5L915.3,235.8L913.6,235.7L914.2,233.6L916.5,234.2L918.7,233.4L916.9,231.9L916.2,230.5L914.2,231.1L913.9,232.9L913.1,231.3L913.0,230.7L913.6,229.7L913.1,228.8L910.2,227.9L909.1,225.7L907.7,225.1L907.7,224.2L910.1,224.5L910.2,222.6L912.3,222.2L914.5,222.6L914.9,220.2L914.5,218.6L912.0,218.8L909.9,218.1L907.0,219.2ZM954.2,457.4L955.8,458.2L958.2,458.5L958.3,459.0L957.6,460.1L953.8,460.3L953.7,458.9L954.1,457.9ZM329.2,376.0L332.2,375.9L331.9,377.1L329.2,377.2Z" fill="#fff"/><path d="M429.2,161.5L434.0,162.0L438.0,163.2L440.5,163.5L442.7,162.5L445.7,161.7L449.5,162.0L453.2,161.0L457.2,160.2L459.0,161.2L460.7,160.7L461.5,159.5L463.2,159.7L467.2,162.0L470.7,160.2L471.0,162.2L474.0,161.7L475.0,161.0L478.0,161.2L482.0,162.2L487.7,163.2L491.3,163.7L493.8,163.5L497.0,164.7L493.5,166.0L498.0,166.5L504.8,166.2L507.0,165.7L509.5,167.2L512.3,166.0L509.8,165.0L511.3,164.0L514.5,164.0L516.3,163.7L518.5,164.2L521.0,165.7L523.8,165.5L528.0,166.7L532.0,166.2L535.8,166.2L535.3,164.7L537.5,164.2L541.5,165.2L541.5,167.5L543.0,165.5L545.0,165.5L546.3,163.0L543.5,161.5L540.5,160.5L540.8,157.7L543.8,156.0L547.0,156.2L549.5,157.5L553.0,160.2L550.8,161.5L555.5,162.0L555.3,164.5L558.8,162.5L561.8,164.2L561.0,166.0L563.3,167.7L566.0,166.0L567.8,163.7L568.0,161.0L571.5,161.2L575.3,161.5L578.5,162.7L578.8,164.0L576.8,165.5L578.5,166.7L578.3,168.0L573.5,169.7L570.0,170.0L567.3,169.2L566.5,170.5L568.5,170.7L564.3,172.7L563.5,173.7L560.5,175.5L556.8,175.7L555.0,176.7L554.8,178.2L552.0,178.7L548.8,180.8L546.3,183.5L545.3,185.5L545.0,188.5L548.8,188.8L549.8,191.3L551.0,193.0L554.5,192.5L559.3,193.5L561.8,194.5L563.5,195.8L566.5,196.5L569.3,197.5L573.3,197.8L576.0,198.0L575.8,200.0L576.5,202.5L578.3,205.3L582.0,207.8L584.0,207.0L585.3,204.3L584.0,200.5L582.3,199.0L586.3,198.0L589.0,196.3L590.5,194.5L590.3,192.8L588.5,190.5L585.5,188.8L588.5,186.0L587.3,183.8L586.5,180.0L588.3,179.2L592.5,180.0L595.0,180.3L597.3,179.8L599.5,180.5L602.5,182.0L603.3,183.0L607.8,183.0L607.8,185.3L608.5,188.3L610.8,188.8L612.8,190.3L616.3,188.8L618.8,186.0L620.3,185.0L622.3,187.3L625.5,190.3L628.3,193.3L627.3,195.0L630.5,196.3L638.5,199.3L639.5,201.3L641.3,201.8L642.3,202.5L642.5,205.5L639.0,207.3L634.8,208.0L631.8,210.3L627.5,210.5L622.0,210.0L618.3,210.0L615.8,210.3L613.8,212.0L610.5,213.0L606.9,216.5L604.0,218.8L606.0,218.3L610.2,215.0L615.4,213.0L619.1,212.8L621.3,214.0L619.0,215.5L619.8,218.3L620.5,220.3L623.8,221.5L628.0,221.0L630.5,218.3L630.8,220.0L632.3,221.0L629.3,222.5L623.7,224.1L621.3,225.0L618.3,227.0L616.5,226.8L616.3,224.5L620.8,222.5L616.8,222.5L614.0,223.0L612.3,221.5L612.3,218.1L611.2,217.4L609.5,217.8L608.7,217.1L606.8,219.0L606.0,221.0L605.1,222.1L604.1,222.5L603.0,223.2L598.4,223.2L594.6,223.3L593.5,223.7L590.8,225.5L590.5,225.7L589.7,226.7L585.0,226.7L583.9,227.1L584.3,227.6L584.5,228.4L581.2,229.8L578.6,230.2L575.7,231.6L575.1,231.6L574.2,231.2L573.9,230.8L574.0,230.6L574.5,229.7L575.7,228.3L576.4,226.8L575.9,224.7L575.4,222.4L572.8,221.2L573.1,220.8L572.7,220.5L572.1,220.5L571.6,220.1L571.4,219.5L570.9,219.7L570.3,219.7L570.4,219.4L569.8,219.2L569.6,218.5L567.7,217.7L565.6,216.9L563.2,215.9L560.8,215.0L558.6,215.7L557.8,215.7L554.7,215.1L552.7,215.4L550.2,214.6L547.7,214.2L545.9,214.1L545.2,213.7L544.7,212.3L543.9,212.3L543.9,213.3L474.6,213.3L474.6,213.3L474.0,212.5L469.5,210.8L467.7,209.8L463.2,208.7L461.7,206.5L462.1,204.9L458.9,203.9L458.5,201.9L455.5,200.0L456.0,198.5L456.8,197.6L452.5,194.4L449.9,191.5L448.3,189.7L446.1,188.6L444.4,187.6L443.0,186.3L440.5,187.1L438.1,188.5L435.9,186.9L434.1,185.8L431.7,185.1L429.2,185.0L429.2,161.5ZM616.8,181.0L611.8,179.8L607.0,178.7L604.3,178.5L601.3,177.2L598.3,175.2L594.8,174.7L590.5,175.2L587.5,175.2L585.3,174.2L587.0,172.5L591.8,172.5L596.8,172.0L598.5,170.0L600.0,167.5L599.5,166.5L598.5,165.5L594.8,164.2L589.5,163.5L591.3,163.0L588.5,161.2L586.3,161.2L584.3,160.2L583.0,161.0L578.5,161.5L569.5,160.7L564.0,160.0L560.0,159.7L558.0,158.7L560.5,157.7L557.0,157.7L556.3,155.2L558.3,153.0L560.8,152.0L567.3,151.2L565.3,152.7L567.3,154.5L569.5,152.5L576.0,151.2L580.3,154.0L580.0,155.5L584.8,154.7L587.3,154.0L592.8,155.2L596.3,156.2L596.5,157.5L601.3,156.7L603.8,158.5L609.8,159.5L612.0,160.5L614.3,162.7L609.8,164.0L615.8,165.5L619.5,166.2L623.3,168.5L627.0,168.5L626.3,170.2L622.0,173.2L619.0,172.2L615.0,169.7L611.8,170.0L611.5,171.5L614.0,173.0L617.5,174.2L618.5,174.7L620.0,177.2L619.3,179.0L616.0,178.5L609.8,176.5L613.3,178.5L616.0,180.0L616.8,181.0ZM488.3,160.7L494.3,162.7L497.0,164.5L509.3,164.0L518.0,163.0L526.8,163.5L529.3,161.5L525.3,159.7L528.5,158.5L520.5,158.2L520.3,156.5L518.3,154.0L514.3,153.0L510.8,153.0L512.3,155.7L510.0,155.0L506.8,153.5L500.8,153.5L495.3,152.5L493.5,154.0L487.0,154.0L484.2,156.7L487.2,157.2L492.0,157.2L487.0,158.2L488.8,159.4L500.5,159.9L498.0,160.5L488.3,160.7ZM474.0,158.0L480.2,157.2L483.7,155.7L487.5,154.0L493.0,152.0L487.0,150.2L478.0,149.5L470.0,150.0L469.7,151.5L472.0,151.5L467.0,155.0L467.0,156.0ZM489.3,147.7L494.3,149.5L501.8,149.7L505.3,148.7L509.3,148.5L516.0,148.2L517.5,147.0L516.8,145.7L511.3,145.2L510.3,144.0L506.8,144.5L507.8,145.7L500.3,145.5L493.3,144.5L487.5,145.7L491.0,147.0ZM474.5,145.5L478.7,145.7L482.0,145.6L486.7,144.5L489.0,144.5L491.0,143.5L491.3,141.7L484.0,142.0L478.7,143.5ZM530.8,151.2L533.8,151.7L538.3,151.2L539.0,152.0L536.5,153.2L540.5,154.2L540.0,156.5L535.8,157.5L533.5,157.2L531.8,156.5L525.5,154.5L525.5,153.7L530.8,154.0L528.0,152.2ZM548.8,153.7L546.0,155.7L543.3,155.5L541.8,153.5L541.8,152.2L543.0,151.0L545.5,150.5L550.8,150.5L555.5,151.0L551.8,153.2ZM532.3,162.2L534.5,161.5L536.3,160.5L538.8,161.0L540.3,161.5L541.0,162.0L542.8,163.0L541.0,163.7L537.8,163.0L535.8,163.2ZM568.8,171.5L569.3,172.7L570.6,172.3L572.1,173.0L574.8,173.7L577.7,174.6L577.9,175.8L579.7,175.6L581.5,176.4L579.3,177.2L575.4,176.6L574.0,175.5L571.5,176.8L568.0,178.1L567.1,176.6L563.7,176.9L565.9,175.6L566.2,173.7L567.1,171.4ZM574.3,178.5L577.0,178.5L577.0,179.0L574.1,180.4L572.4,180.3L571.8,179.6L573.7,178.5ZM582.0,179.8L583.5,180.3L583.0,181.5L581.0,181.5L580.8,180.8ZM547.8,143.7L552.8,143.7L555.0,144.6L554.3,145.6L557.3,146.1L558.8,146.7L562.3,146.8L565.8,147.0L569.8,146.5L574.9,146.3L579.0,146.5L581.6,147.4L582.2,148.4L580.6,149.1L576.9,149.6L573.7,149.3L566.5,149.7L561.4,149.8L557.4,149.4L550.7,148.6L549.8,147.3L549.5,146.0L547.0,144.9L541.9,144.6L539.0,143.9L539.9,142.8L545.1,143.0ZM557.8,144.6L558.0,143.4L562.3,142.8L561.1,141.0L562.6,140.8L569.3,141.9L565.9,140.3L561.9,139.8L563.9,138.8L568.3,138.2L569.1,137.4L565.5,136.4L564.4,135.1L571.3,135.2L573.3,135.5L577.2,134.6L571.5,134.3L562.8,134.4L558.3,133.6L556.3,132.6L553.3,131.9L552.8,131.0L556.5,130.5L559.4,130.4L564.3,130.0L568.0,129.1L571.1,129.2L573.8,129.9L575.7,128.6L579.0,128.2L583.5,127.9L591.2,127.8L592.5,128.1L599.7,127.7L605.1,127.8L610.5,128.0L617.2,128.2L622.6,128.5L627.2,129.2L627.1,129.8L621.0,130.9L614.9,131.4L612.6,132.0L618.1,132.0L612.2,133.5L608.1,134.2L603.8,136.2L598.7,136.7L597.1,137.2L589.5,137.4L593.0,137.7L591.2,138.2L593.3,139.4L590.9,140.3L587.1,141.0L585.9,142.0L582.4,142.7L582.7,143.3L587.0,143.2L587.1,143.8L580.4,145.3L573.9,144.6L566.5,145.0L562.8,144.7ZM564.3,136.6L567.3,137.4L563.8,138.1L559.2,140.0L554.8,140.2L549.6,139.9L546.9,138.9L546.9,138.0L548.9,137.3L544.3,137.3L541.6,136.5L540.0,135.3L541.7,134.2L543.5,133.5L546.0,133.3L544.9,132.7L550.7,132.6L553.9,133.9L558.1,134.5L562.2,134.9ZM523.0,137.7L529.8,138.7L531.5,140.0L532.5,141.0L528.5,140.7L524.5,140.0L518.8,139.7L521.3,139.0L518.3,138.5L518.0,137.5ZM538.5,138.7L542.8,139.7L542.3,140.5L538.5,141.1L536.5,140.5L535.3,139.5L535.3,138.5ZM535.5,144.0L537.5,145.0L537.5,146.5L536.3,148.2L532.3,148.5L529.5,148.1L529.5,146.7L525.5,146.8L525.3,145.0L531.8,144.2ZM547.8,148.2L546.3,149.2L542.8,149.0L539.8,148.5L541.0,147.2L544.5,146.7L546.8,147.5ZM591.0,153.0L591.0,153.7L588.5,153.5L585.8,153.5L583.0,154.0L582.3,153.7L579.5,152.5L579.8,151.5L580.9,151.3L586.6,151.6ZM641.5,209.0L639.8,211.2L641.4,210.4L643.1,210.9L642.2,211.8L644.5,212.5L645.6,211.9L648.1,212.6L647.3,214.5L649.1,214.0L649.4,215.4L650.2,216.9L649.1,219.1L648.0,219.2L646.4,218.7L646.9,216.7L646.2,216.4L643.3,218.6L641.8,218.5L643.6,217.3L641.2,216.7L638.5,216.8L633.6,216.8L633.2,216.0L634.8,215.1L633.7,214.5L635.8,212.9L638.4,209.0L639.9,207.5L642.1,206.7L643.3,206.8L642.8,207.5ZM460.8,208.8L463.5,209.4L465.0,209.8L467.3,210.0L468.2,210.9L469.4,212.1L471.9,213.1L473.0,214.5L471.7,214.8L467.6,213.7L466.9,212.8L464.6,211.9L464.2,211.2L461.6,210.8L460.6,209.4ZM448.8,200.3L450.0,200.7L452.4,200.5L451.6,203.3L453.8,205.3L452.8,205.3L451.3,204.2L450.4,203.0L449.1,202.2L448.6,201.1ZM620.5,211.1L621.4,210.9L624.6,211.5L627.2,212.5L627.3,213.0L626.1,213.0L622.8,212.3ZM621.8,218.2L622.6,219.4L624.4,219.7L626.8,219.7L625.5,220.7L624.6,220.8L621.4,219.8L620.8,218.9Z" fill="#dce9f4"/><path d="M652.7,325.4L653.5,325.3L654.1,326.7L655.5,331.0L656.9,331.4L656.9,333.2L655.1,335.2L655.8,336.0L660.3,336.4L660.4,338.9L662.3,337.3L665.4,338.2L669.5,339.7L670.8,341.2L670.4,342.5L673.3,341.8L678.1,343.1L681.9,343.0L685.6,345.1L688.8,347.9L690.7,348.6L692.8,348.7L693.7,349.5L694.6,352.7L695.0,354.2L694.0,358.3L692.7,359.9L689.2,363.4L687.6,366.2L685.8,368.4L685.1,368.5L684.4,370.3L684.6,375.0L683.9,378.8L683.6,380.5L682.9,381.5L682.4,384.8L679.9,388.1L679.5,390.7L677.4,391.7L676.8,393.2L674.1,393.2L670.2,394.2L668.4,395.3L665.6,396.0L662.7,398.0L660.6,400.5L660.2,402.4L660.6,403.8L660.2,406.3L659.6,407.5L657.8,408.9L655.1,413.3L652.9,415.3L651.2,416.5L650.0,418.8L648.4,420.3L647.7,418.8L648.8,417.7L647.3,416.0L645.4,414.6L642.8,412.9L641.9,413.0L639.3,411.1L637.7,411.4L641.1,407.9L643.9,405.5L645.6,404.5L647.7,403.1L647.7,401.1L645.2,400.2L645.7,398.7L646.1,397.2L646.1,395.9L645.2,395.4L644.2,395.8L643.3,395.7L643.0,394.7L642.8,392.5L642.3,391.7L640.6,391.0L639.6,391.5L636.9,391.0L637.1,387.6L636.4,386.3L637.1,385.7L636.9,384.3L637.6,383.2L638.0,381.2L637.5,379.7L636.1,379.0L635.8,378.0L636.2,376.6L631.4,376.5L630.4,373.5L631.2,373.5L631.1,372.4L630.6,371.7L630.5,370.3L629.1,369.5L627.5,369.5L626.5,368.8L624.8,368.3L623.8,367.4L621.0,367.0L618.3,364.7L618.5,363.1L618.2,362.1L618.4,360.2L615.2,360.6L613.9,361.6L611.7,362.6L611.1,363.3L609.8,363.4L608.0,363.2L606.6,363.6L605.4,363.3L605.6,359.5L603.5,361.0L601.3,360.9L600.4,359.6L598.7,359.5L599.2,358.4L597.9,356.9L596.8,354.6L597.5,354.2L597.5,353.1L599.0,352.4L598.7,351.0L599.4,350.2L599.6,349.0L602.4,347.3L604.5,346.8L604.8,346.4L607.1,346.6L608.2,339.7L608.2,338.6L607.8,337.2L606.7,336.3L606.7,334.4L608.2,334.0L608.7,334.3L608.7,333.3L607.3,333.1L607.2,331.5L612.1,331.6L612.9,330.7L613.6,331.5L614.1,333.0L614.6,332.7L616.0,334.0L617.9,333.8L618.4,333.0L620.3,332.5L621.3,332.1L621.6,331.0L623.4,330.3L623.2,329.8L621.1,329.5L620.8,328.0L620.9,326.3L619.7,325.6L620.2,325.4L622.1,325.7L624.1,326.4L624.8,325.8L626.6,325.4L629.4,324.4L630.3,323.5L630.0,322.8L631.3,322.7L631.8,323.3L631.5,324.4L632.4,324.7L632.9,325.9L632.2,326.8L631.9,328.9L632.5,330.2L632.7,331.3L634.2,332.5L635.4,332.6L635.7,332.1L636.5,332.0L637.6,331.6L638.4,330.9L639.8,331.1L640.4,331.0L641.8,331.2L642.0,330.7L641.6,330.2L641.9,329.5L642.9,329.7L644.0,329.5L645.5,330.0L646.6,330.5L647.4,329.8L647.9,330.0L648.3,330.7L649.5,330.5L650.4,329.5L651.2,327.7L652.7,325.4Z" fill="#cbdfee"/><path d="M1092.6,235.9L1089.1,236.7L1087.3,237.8L1084.6,238.5L1085.9,237.4L1085.4,236.4L1087.4,234.7L1086.0,233.4L1083.9,234.3L1081.0,236.0L1079.5,237.6L1077.0,237.8L1075.8,238.9L1077.1,240.6L1079.1,241.0L1079.2,242.1L1081.2,242.9L1084.0,241.1L1086.2,242.1L1087.8,242.1L1088.2,243.4L1084.7,244.1L1083.5,245.5L1081.1,246.7L1079.8,248.5L1082.5,249.9L1083.5,252.3L1085.0,254.6L1086.7,256.5L1086.7,258.4L1085.1,259.1L1085.7,260.4L1087.2,261.2L1086.8,263.2L1086.1,265.2L1084.8,265.4L1082.9,268.2L1080.9,271.4L1078.6,274.4L1075.1,276.7L1071.7,278.8L1068.8,279.1L1067.3,280.2L1066.5,279.4L1065.0,280.7L1061.5,281.9L1058.9,282.3L1058.0,284.9L1056.7,285.1L1056.0,283.3L1056.6,282.3L1053.2,281.5L1052.1,281.9L1049.5,281.3L1048.4,280.2L1048.8,278.8L1046.5,278.3L1045.3,277.4L1043.1,278.7L1040.7,279.0L1038.7,279.0L1037.4,279.6L1036.1,280.0L1036.4,282.9L1035.1,282.8L1034.9,282.2L1034.8,281.2L1033.0,281.9L1031.9,281.4L1030.0,280.5L1030.7,278.4L1029.2,277.9L1028.6,275.6L1025.9,276.0L1026.2,273.1L1028.6,271.0L1028.7,268.9L1028.6,267.0L1027.5,266.4L1026.7,264.9L1025.2,265.1L1022.5,264.8L1023.4,263.7L1022.2,262.2L1020.4,263.2L1018.3,262.6L1015.4,264.2L1013.2,266.0L1011.2,266.4L1010.1,265.7L1008.7,265.6L1007.0,265.0L1005.6,265.7L1003.9,267.5L1003.7,265.6L1002.2,266.1L999.3,265.9L996.5,265.3L994.4,264.2L992.5,263.7L991.7,262.5L990.3,262.1L987.7,260.5L985.7,259.7L984.7,260.3L981.2,258.6L978.8,257.0L978.1,254.2L979.9,254.6L979.9,253.3L978.9,252.0L979.2,250.0L976.5,247.0L972.4,246.0L971.7,244.1L968.4,243.2L969.8,242.9L969.4,242.2L969.0,240.8L969.1,239.8L967.6,239.2L966.7,239.5L966.1,237.2L966.8,236.6L966.5,236.0L968.9,234.8L970.6,234.4L973.2,234.7L974.2,233.1L977.4,232.8L978.3,231.8L982.2,230.5L982.6,229.9L982.4,228.5L984.1,227.8L981.8,223.5L986.8,222.5L988.1,221.9L989.9,217.4L994.8,218.3L996.2,217.1L996.3,214.6L998.4,214.4L1000.3,212.7L1001.3,212.5L1001.9,214.3L1004.0,215.6L1007.6,216.5L1009.3,218.5L1008.4,221.5L1009.3,222.5L1012.2,223.0L1015.6,223.3L1018.6,224.9L1020.2,225.2L1021.3,227.5L1022.8,228.9L1025.5,228.9L1030.7,229.5L1034.0,229.1L1036.5,229.5L1040.2,231.0L1043.2,231.0L1044.3,231.8L1047.3,230.4L1051.3,229.6L1055.0,229.5L1058.0,228.6L1059.8,227.2L1061.5,226.4L1061.1,225.6L1060.3,224.6L1061.6,223.0L1063.0,223.2L1065.6,223.7L1068.1,222.4L1071.9,221.4L1073.7,219.8L1075.5,219.1L1079.1,218.7L1081.1,219.0L1081.4,218.1L1079.1,216.4L1077.1,215.6L1075.2,216.5L1072.7,216.1L1071.3,216.4L1070.7,215.4L1072.4,212.9L1073.6,211.0L1076.6,212.0L1080.2,210.4L1080.1,209.3L1082.4,206.7L1083.8,205.9L1083.8,204.5L1082.4,203.9L1084.4,202.6L1087.6,202.2L1090.9,202.1L1094.6,202.9L1096.8,203.8L1098.3,206.3L1099.3,207.4L1100.2,208.9L1101.1,211.4L1105.4,212.2L1108.4,213.9L1109.4,216.3L1113.2,216.3L1115.4,215.3L1119.5,214.6L1118.2,216.8L1117.2,217.7L1116.4,220.5L1114.7,222.9L1111.6,222.5L1109.5,223.3L1110.2,225.5L1109.8,228.4L1108.5,228.5L1108.5,229.8L1106.9,228.3L1105.9,229.7L1102.1,230.8L1102.5,232.1L1100.3,232.0L1099.1,231.2L1097.4,233.0L1094.6,234.3L1092.6,235.9ZM1057.8,289.1L1055.6,290.3L1053.6,289.5L1053.5,287.4L1054.7,286.2L1057.5,285.5L1058.9,285.6L1059.5,286.5L1058.4,287.6Z" fill="#4393bf"/><path d="M1004.5,280.6L1004.1,281.6L1002.4,281.5L999.4,282.0L999.5,283.9L998.2,285.4L994.6,287.1L991.8,290.0L989.9,291.6L987.4,293.2L987.4,294.4L986.1,295.0L983.9,295.9L982.7,296.0L982.0,297.9L982.5,301.2L982.6,303.3L981.6,305.6L981.6,309.9L980.3,310.0L979.1,311.9L979.9,312.7L977.6,313.5L976.8,315.2L975.8,315.9L973.4,313.5L972.2,310.0L971.3,307.5L970.4,306.3L969.1,303.9L968.5,300.8L968.0,299.2L965.7,295.8L964.7,291.0L964.0,287.8L964.0,284.7L963.5,282.4L959.9,283.9L958.1,283.6L954.8,280.6L956.0,279.7L955.3,278.7L952.3,276.6L954.0,274.9L959.5,274.9L959.0,272.7L957.6,271.5L957.3,269.6L955.7,268.4L958.5,265.8L961.4,266.0L964.0,263.4L965.5,260.8L968.0,258.3L967.9,256.5L970.1,255.1L968.0,253.9L967.2,252.2L966.3,250.0L967.5,248.9L971.3,249.5L974.1,249.1L976.5,247.0L979.2,250.0L978.9,252.0L979.9,253.3L979.9,254.6L978.1,254.2L978.8,257.0L981.2,258.6L984.7,260.3L983.1,261.5L982.1,263.8L984.6,264.7L986.9,266.0L990.2,267.4L993.6,267.7L995.0,269.0L997.0,269.2L1000.0,269.8L1002.1,269.8L1002.3,268.8L1002.0,267.2L1002.2,266.1L1003.7,265.6L1003.9,267.5L1004.0,268.0L1006.3,269.0L1007.8,268.6L1010.0,268.8L1012.0,268.7L1012.2,267.2L1011.2,266.4L1013.2,266.0L1015.4,264.2L1018.3,262.6L1020.4,263.2L1022.2,262.2L1023.4,263.7L1022.5,264.8L1025.2,265.1L1025.4,266.1L1024.5,266.5L1024.7,268.1L1023.0,267.6L1019.7,269.4L1019.8,270.8L1018.4,272.9L1018.3,274.1L1017.2,276.2L1015.2,275.6L1015.1,278.2L1014.6,279.0L1014.8,280.1L1013.6,280.7L1012.3,276.7L1011.6,276.7L1011.2,278.3L1009.8,277.0L1010.6,275.6L1011.7,275.5L1012.9,273.3L1011.4,272.9L1009.1,273.0L1006.7,272.6L1006.5,270.9L1005.3,270.8L1003.3,269.7L1002.4,271.4L1004.2,272.7L1002.7,273.6L1002.1,274.5L1003.7,275.2L1003.2,276.7L1004.1,278.6L1004.5,280.6Z" fill="#5ba3cb"/><path d="M902.9,264.4L903.9,266.6L905.1,267.1L905.6,268.0L907.3,269.1L907.4,270.1L907.2,270.9L907.5,271.8L908.2,272.5L908.5,273.3L908.9,273.9L910.4,274.2L910.8,275.2L910.9,275.8L911.9,278.3L919.4,279.5L919.9,279.0L921.1,280.8L919.4,285.8L911.9,288.3L904.7,289.2L902.3,290.4L900.6,293.0L899.4,293.4L898.8,292.6L897.8,292.7L895.4,292.5L894.9,292.2L892.0,292.3L891.4,292.5L890.3,291.8L889.7,293.1L889.9,294.1L888.8,294.9L888.5,293.9L887.8,293.1L887.6,292.1L886.3,291.2L884.9,289.1L884.2,287.1L882.5,285.4L881.4,284.9L879.7,282.6L879.4,280.8L879.6,279.3L878.1,276.6L876.9,275.6L875.6,275.1L874.7,273.6L874.9,273.1L874.2,271.8L873.5,271.2L872.5,269.4L871.0,267.3L869.7,265.6L868.4,265.6L868.8,264.3L868.9,263.4L869.3,262.4L872.0,262.8L873.1,262.0L873.7,261.1L875.6,260.8L876.0,259.9L876.9,259.5L874.4,257.0L879.4,255.7L879.9,255.4L882.9,256.0L886.6,257.8L893.7,262.8L898.3,263.0L900.9,264.5L902.9,264.4Z" fill="#4393bf"/><path d="M935.6,273.1L930.9,272.3L928.2,271.8L925.4,271.4L924.3,268.4L923.1,267.9L921.2,268.4L918.7,269.6L915.6,268.8L913.1,266.8L910.7,266.1L909.0,263.8L907.2,260.4L905.8,260.8L904.2,260.0L903.3,261.0L901.9,259.7L901.9,258.3L901.1,258.3L901.5,256.5L900.2,254.6L897.2,253.2L895.4,250.8L896.0,248.9L897.3,248.0L897.1,246.6L895.4,245.8L893.8,242.8L892.5,240.8L892.9,240.1L892.2,237.2L893.9,236.5L894.3,237.4L895.5,238.6L897.2,238.9L898.2,238.8L901.1,237.0L902.0,236.8L902.8,237.5L901.9,238.8L903.5,240.1L904.1,240.0L904.9,241.8L907.3,242.3L909.0,243.6L912.5,244.0L916.5,243.3L916.7,242.8L918.9,242.3L920.7,240.9L922.3,240.9L923.4,240.5L925.2,240.7L928.0,242.0L930.0,242.2L932.8,244.4L934.7,244.5L934.9,246.6L933.9,249.8L933.2,251.6L934.3,251.9L933.2,253.3L934.0,255.3L934.2,256.9L936.1,257.3L936.3,258.9L934.1,261.2L935.3,262.5L936.3,264.0L938.7,265.1L938.8,267.3L940.0,267.7L940.2,268.9L936.6,270.2L935.6,273.1Z" fill="#cbdfee"/><path d="M1038.4,305.3L1036.2,304.2L1034.0,304.2L1034.4,302.3L1032.2,302.3L1032.0,305.0L1030.6,308.7L1029.8,310.9L1030.0,312.7L1031.6,312.8L1032.6,315.0L1033.1,317.2L1034.5,318.6L1036.0,318.9L1037.3,320.2L1036.5,321.3L1034.8,321.6L1034.6,320.3L1032.6,319.2L1032.1,319.6L1031.1,318.7L1030.7,317.4L1029.4,316.0L1028.2,314.8L1027.8,316.3L1027.3,314.9L1027.6,313.4L1028.3,311.0L1029.5,308.4L1030.9,306.1L1029.9,303.8L1029.9,302.6L1029.7,301.2L1028.0,299.2L1027.4,298.0L1028.3,297.5L1029.2,295.3L1028.1,293.7L1026.6,291.9L1025.4,289.7L1026.4,289.2L1027.5,286.5L1029.3,286.4L1030.8,285.3L1032.2,284.7L1033.3,285.5L1033.4,287.0L1035.1,287.1L1034.5,289.8L1034.6,292.0L1037.2,290.5L1038.0,291.0L1039.4,290.9L1039.9,290.0L1041.8,290.2L1043.7,292.2L1043.9,294.7L1045.9,296.9L1045.8,299.0L1045.0,300.1L1042.6,299.7L1039.4,300.2L1037.8,302.3L1038.4,305.3Z" fill="#dce9f4"/><path d="M1102.8,239.2L1105.0,242.2L1105.6,243.8L1105.6,246.7L1104.7,248.1L1102.4,248.5L1100.4,249.6L1098.2,249.8L1097.9,248.4L1098.3,246.6L1097.2,243.9L1099.1,243.5L1097.4,241.4L1097.5,241.2L1098.6,241.3L1099.6,240.1L1101.4,240.0L1102.8,239.2Z" fill="#dce9f4"/><path d="M1141.7,225.3L1143.5,225.9L1145.3,224.8L1145.8,227.6L1142.1,228.3L1139.9,230.8L1136.0,229.1L1134.6,231.8L1131.9,231.8L1131.5,229.4L1132.7,227.4L1135.4,227.3L1136.1,223.8L1136.9,221.9L1139.8,224.5ZM1136.7,237.8L1134.4,240.3L1134.4,242.9L1133.5,244.9L1133.9,246.2L1132.6,247.9L1129.4,249.1L1125.0,249.2L1121.4,252.1L1119.8,251.1L1119.7,249.3L1115.3,249.8L1112.3,251.0L1109.4,251.0L1111.9,252.9L1110.3,257.1L1108.7,258.2L1107.4,257.2L1108.1,255.0L1106.5,254.2L1105.5,252.5L1107.8,251.8L1109.1,250.2L1111.6,248.9L1113.5,247.2L1118.5,246.4L1121.2,246.9L1123.8,242.5L1125.4,243.7L1129.1,241.2L1130.5,240.2L1132.1,237.2L1131.7,234.4L1132.7,232.8L1135.4,232.3L1136.7,235.8ZM1118.6,250.4L1118.9,251.2L1117.5,252.8L1116.4,252.0L1115.2,252.5L1114.5,254.0L1112.8,253.3L1112.9,252.1L1114.3,250.6L1115.7,250.9L1116.7,249.9Z" fill="#dce9f4"/><path d="M1140.9,370.2L1141.8,372.2L1143.4,371.2L1145.4,373.3L1145.1,374.4L1145.7,376.5L1147.4,380.2L1147.1,381.5L1147.9,383.2L1150.6,384.5L1154.1,386.8L1153.8,387.4L1155.2,389.0L1156.2,391.7L1157.2,391.1L1158.2,392.2L1158.8,391.8L1159.2,394.5L1161.0,396.0L1162.1,397.0L1164.1,399.0L1164.8,401.0L1164.9,402.4L1164.7,404.0L1165.9,406.1L1165.7,408.3L1165.3,409.5L1164.6,411.7L1164.7,413.1L1164.2,414.9L1163.1,417.2L1161.2,418.4L1160.3,420.4L1159.5,421.6L1158.7,423.8L1157.8,425.0L1157.2,426.9L1156.8,428.6L1157.0,429.4L1155.5,430.3L1152.7,430.4L1150.4,431.4L1149.3,432.4L1147.8,433.4L1145.7,432.3L1144.2,431.9L1144.5,430.6L1143.2,431.1L1141.0,432.9L1138.8,432.2L1137.4,431.8L1136.0,431.6L1133.6,430.9L1131.9,429.3L1131.5,427.4L1130.9,425.2L1129.7,425.2L1127.3,424.9L1128.1,423.7L1127.5,421.8L1126.3,423.5L1124.0,424.0L1125.3,422.6L1125.7,421.2L1126.7,419.9L1126.5,418.1L1124.5,420.2L1122.9,421.1L1121.9,423.1L1120.0,422.0L1120.1,420.7L1118.5,418.9L1117.2,418.0L1117.6,417.4L1114.4,415.9L1112.7,415.8L1110.3,414.6L1105.8,414.8L1102.5,415.7L1099.7,416.5L1097.3,416.4L1094.7,417.7L1092.5,418.2L1092.0,419.5L1091.1,420.6L1089.0,420.6L1087.4,420.8L1085.2,420.4L1083.4,420.7L1081.7,420.8L1080.2,422.1L1079.5,422.0L1078.2,422.7L1077.0,423.5L1075.2,423.4L1073.5,423.4L1070.8,421.8L1069.5,421.3L1069.6,419.9L1070.8,419.6L1071.2,419.0L1071.1,418.1L1071.4,416.4L1071.2,414.9L1069.8,412.3L1069.4,410.9L1069.5,409.5L1068.5,407.8L1068.5,407.1L1067.4,406.1L1067.1,404.1L1065.6,402.2L1065.3,401.1L1066.4,402.2L1065.5,399.9L1066.8,400.6L1067.5,401.6L1067.5,400.3L1066.2,398.3L1066.0,397.5L1065.4,396.8L1065.7,395.3L1066.2,394.7L1066.5,393.5L1066.3,392.0L1067.3,390.2L1067.5,392.1L1068.6,390.4L1070.6,389.6L1071.8,388.5L1073.7,387.6L1074.9,387.4L1075.5,387.7L1077.5,386.7L1079.0,386.5L1079.4,385.9L1080.1,385.7L1081.5,385.8L1084.1,385.0L1085.4,383.9L1086.1,382.6L1087.5,381.3L1087.7,380.3L1087.7,378.9L1089.5,376.8L1090.5,379.0L1091.6,378.5L1090.7,377.3L1091.5,376.1L1092.6,376.6L1092.9,374.7L1094.3,373.5L1094.9,372.5L1096.1,372.1L1096.2,371.4L1097.3,371.7L1097.3,371.1L1098.4,370.7L1099.6,370.4L1101.4,371.5L1102.8,373.0L1104.4,373.0L1106.0,373.2L1105.5,371.9L1106.7,369.9L1107.8,369.2L1107.4,368.6L1108.5,367.2L1110.0,366.3L1111.3,366.6L1113.4,366.1L1113.4,364.8L1111.5,364.0L1112.8,363.6L1114.5,364.3L1115.8,365.3L1117.9,365.9L1118.7,365.7L1120.2,366.4L1121.7,365.7L1122.6,365.9L1123.2,365.5L1124.3,366.7L1123.7,368.0L1122.7,369.0L1121.9,369.1L1122.2,370.1L1121.4,371.4L1120.5,372.6L1120.7,373.3L1122.7,374.7L1124.6,375.5L1125.9,376.4L1127.7,377.8L1128.4,377.8L1129.7,378.5L1130.1,379.2L1132.5,380.1L1134.2,379.2L1134.6,377.9L1135.1,376.8L1135.5,375.4L1136.2,373.4L1135.9,372.2L1136.1,371.5L1135.8,370.1L1136.1,368.2L1136.6,367.7L1136.2,366.8L1136.8,365.5L1137.3,364.1L1137.3,363.4L1138.3,362.5L1139.0,363.7L1139.1,365.3L1139.8,365.6L1139.9,366.6L1140.8,367.9L1141.0,369.3ZM1145.5,437.8L1147.9,438.7L1149.2,438.3L1151.2,437.9L1152.7,438.0L1152.9,441.0L1152.0,441.9L1151.7,443.9L1150.9,443.2L1149.1,444.9L1148.6,444.8L1147.1,444.7L1145.5,442.6L1145.2,440.9L1143.8,438.7L1143.8,437.6Z" fill="#c4dcec"/><path d="M745.6,169.6L745.0,171.2L747.8,172.9L744.6,174.8L737.4,176.5L735.2,177.0L731.9,176.6L724.9,175.8L727.4,174.7L721.9,173.5L726.4,173.0L726.3,172.3L721.0,171.7L722.7,170.1L726.5,169.7L730.4,171.4L734.2,170.0L737.3,170.8L741.4,169.4Z" fill="#5ba3cb"/><path d="M789.3,229.6L789.4,231.0L787.1,232.7L783.9,233.2L783.6,234.1L782.1,235.5L781.1,237.5L782.1,238.9L780.7,240.0L780.1,241.7L778.2,242.2L776.5,244.1L773.3,244.1L770.9,244.1L769.3,245.0L768.4,245.9L767.2,245.7L766.2,244.8L765.5,243.4L763.2,243.0L763.0,242.2L763.9,241.3L764.3,240.6L763.4,239.8L764.1,238.2L763.1,236.7L764.2,236.5L764.3,235.3L764.7,234.9L764.7,233.0L765.9,232.3L765.2,231.1L763.7,231.0L763.3,231.3L761.8,231.3L761.2,230.1L760.2,230.4L759.3,231.1L759.4,229.3L758.4,228.2L761.9,226.4L765.0,226.8L768.3,226.8L771.0,227.3L773.0,227.1L777.1,227.2L778.1,228.2L782.7,229.3L783.6,228.8L786.4,229.9L789.3,229.6Z" fill="#dce9f4"/><path d="M816.7,221.8L814.7,221.4L812.7,222.3L812.8,223.5L812.5,224.3L813.3,225.5L815.7,226.8L816.9,228.9L819.7,230.9L821.7,230.9L822.3,231.4L821.6,231.9L823.8,232.8L825.7,233.6L827.8,234.9L828.1,235.3L827.6,236.2L826.2,235.1L824.0,234.7L823.0,236.3L824.8,237.2L824.5,238.5L823.5,238.7L822.1,240.8L821.1,241.0L821.1,240.2L821.6,238.9L822.1,238.4L821.2,236.9L820.4,235.6L819.4,235.3L818.6,234.3L817.0,233.8L815.9,232.8L814.1,232.6L812.1,231.5L809.8,229.9L808.1,228.4L807.4,226.0L806.1,225.7L804.1,224.8L802.9,225.2L801.5,226.3L800.4,226.5L800.7,225.4L799.4,225.1L798.7,223.2L799.6,222.4L798.8,221.5L798.9,220.8L800.0,221.3L801.3,221.2L802.7,220.4L803.1,220.7L804.3,220.7L804.8,219.7L806.7,220.0L807.8,219.6L808.0,218.5L809.5,218.9L809.8,218.4L812.2,218.0L812.8,218.8L816.4,219.5L816.1,220.7L816.7,221.8ZM820.7,240.2L819.8,242.2L820.1,242.9L819.6,244.2L817.7,243.3L816.4,243.0L812.9,241.7L813.3,240.4L816.2,240.7L818.8,240.4ZM804.9,232.7L806.4,234.5L806.0,237.8L804.9,237.7L803.9,238.5L802.9,237.8L802.8,234.8L802.3,233.4L803.6,233.5Z" fill="#dce9f4"/><path d="M799.1,202.1L799.6,201.5L801.7,201.4L802.2,201.9L803.9,200.7L803.3,199.8L803.2,198.4L805.1,198.7L806.7,198.3L806.7,199.3L809.2,199.9L809.2,200.7L811.8,200.3L813.2,199.6L816.0,200.6L817.2,201.4L817.7,202.6L817.0,203.3L818.0,204.2L818.6,205.5L818.4,206.4L819.4,208.0L818.9,208.6L817.6,208.0L817.0,208.4L815.2,208.9L814.3,209.6L812.5,210.1L812.9,210.8L813.2,211.9L814.4,212.5L815.9,213.6L815.0,214.7L814.1,215.0L814.4,216.7L814.2,217.1L813.4,216.6L812.2,216.5L810.4,217.0L808.2,216.8L807.9,217.5L806.6,216.8L805.8,216.9L803.2,216.2L802.7,216.7L800.5,216.7L800.8,214.9L802.1,213.2L798.5,212.8L797.3,212.1L797.4,211.0L796.9,210.4L797.2,208.8L796.8,206.1L798.3,206.1L798.9,205.2L799.6,202.9L799.1,202.1Z" fill="#dce9f4"/><path d="M809.4,188.6L807.8,187.1L802.8,190.0L799.5,190.6L796.0,189.3L795.1,186.6L794.3,180.8L796.6,179.2L803.2,177.1L808.2,174.5L812.8,171.0L818.8,166.2L823.0,164.3L829.8,161.2L835.3,160.1L839.4,160.2L843.2,158.2L847.8,158.3L852.3,157.8L860.1,159.6L856.9,160.3L859.6,161.8L855.4,162.8L853.3,163.1L854.4,161.3L851.2,160.3L847.3,161.2L846.1,163.0L843.7,164.1L841.0,163.5L837.8,163.6L835.0,162.3L833.5,163.0L831.9,163.1L831.6,164.7L826.8,164.3L826.2,165.7L823.8,165.7L822.1,167.5L819.6,170.3L815.8,173.8L816.7,174.6L815.8,175.6L813.3,175.6L811.7,177.9L811.8,181.3L813.4,182.5L812.6,185.5L810.5,187.2L809.4,188.6ZM819.7,136.6L820.7,135.7L824.3,135.6L827.5,136.5L835.7,138.3L829.4,139.3L828.0,141.2L825.8,141.6L824.7,143.7L821.6,143.8L816.3,142.3L818.5,141.4L814.8,140.7L809.9,138.6L808.0,136.6L814.8,135.7L816.2,136.6ZM850.4,135.6L846.7,136.9L839.4,137.2L832.1,136.8L831.6,136.1L828.0,136.1L825.3,134.9L833.0,134.2L836.6,134.8L839.2,134.1L845.5,134.7ZM843.7,141.1L838.1,142.1L833.7,141.5L835.4,140.9L833.9,140.1L839.1,139.6L840.1,140.5Z" fill="#dce9f4"/><path d="M841.6,170.7L837.3,171.4L834.9,173.2L835.3,174.7L831.3,176.7L826.5,178.9L824.7,182.4L826.4,184.2L828.8,185.6L826.5,188.4L823.9,189.0L823.0,193.2L821.6,195.5L818.5,195.3L817.1,197.2L814.2,197.4L813.4,195.0L811.3,192.2L809.4,188.6L810.5,187.2L812.6,185.5L813.4,182.5L811.8,181.3L811.7,177.9L813.3,175.6L815.8,175.6L816.7,174.6L815.8,173.8L819.6,170.3L822.1,167.5L823.8,165.7L826.2,165.7L826.8,164.3L831.6,164.7L831.9,163.1L833.5,163.0L836.8,164.2L840.7,165.9L840.8,169.7L841.6,170.7Z" fill="#dce9f4"/><path d="M818.9,208.6L817.6,208.0L817.0,208.4L815.2,208.9L814.3,209.6L812.5,210.1L812.9,210.8L813.2,211.9L814.4,212.5L815.9,213.6L817.7,214.4L819.1,213.4L820.0,213.2L821.9,213.9L823.1,213.8L824.3,214.3L824.6,213.7L825.7,213.8L826.6,213.5L826.6,213.3L827.1,213.2L827.3,212.6L827.9,212.5L828.2,212.0L829.0,212.0L827.8,210.8L826.0,210.6L825.7,209.9L824.0,209.6L823.7,210.2L822.3,209.7L822.5,209.0L820.6,208.8L818.9,208.6Z" fill="#dce9f4"/><path d="M788.1,207.9L790.1,207.4L792.0,207.6L794.3,207.1L795.9,208.2L797.2,208.8L796.9,210.4L796.3,210.5L796.0,211.9L793.8,210.8L792.6,211.0L790.8,209.8L789.6,208.8L788.5,208.8L788.1,207.9Z" fill="#dce9f4"/><path d="M867.5,257.7L868.3,256.9L868.7,255.6L869.3,253.7L869.6,253.1L870.5,253.0L870.7,252.6L871.4,252.6L871.5,253.6L871.2,254.0L870.7,254.8L869.8,254.4L869.3,256.1L869.9,256.4L869.3,256.7L869.2,257.4L870.4,257.0L870.4,258.0L869.2,262.0Z" fill="#4393bf"/><path d="M614.0,223.0L612.3,221.5L612.3,218.1L611.2,217.4L609.5,217.8L608.7,217.1L606.8,219.0L606.0,221.0L605.1,222.1L604.1,222.5L603.0,223.2L598.4,223.2L594.6,223.3L593.5,223.7L590.8,225.5L590.5,225.7L589.7,226.7L585.0,226.7L583.9,227.1L584.3,227.6L584.5,228.4L581.2,229.8L578.6,230.2L575.7,231.6L575.1,231.6L574.2,231.2L573.9,230.8L574.0,230.6L574.5,229.7L575.7,228.3L576.4,226.8L575.9,224.7L575.4,222.4L572.8,221.2L573.1,220.8L572.7,220.5L572.1,220.5L571.6,220.1L571.4,219.5L570.9,219.7L570.3,219.7L570.4,219.4L569.8,219.2L569.6,218.5L567.7,217.7L565.6,216.9L563.2,215.9L560.8,215.0L558.6,215.7L557.8,215.7L554.7,215.1L552.7,215.4L550.2,214.6L547.7,214.2L545.9,214.1L545.2,213.7L544.7,212.3L543.9,212.3L543.9,213.3L474.6,213.3M429.2,161.5L429.2,185.0L431.7,185.1L434.1,185.8L435.9,186.9L438.1,188.5L440.5,187.1L443.0,186.3L444.4,187.6L446.1,188.6L448.3,189.7L449.9,191.5L452.5,194.4L456.8,197.6L456.0,198.5M538.9,271.1L536.2,270.6L534.2,269.9L533.5,268.7L533.0,266.9L531.5,265.5L530.6,264.0L529.4,262.3L527.6,261.3L525.6,261.4L524.0,263.4L521.9,262.6L520.6,261.9L520.0,260.5L519.2,259.2L517.7,258.1L516.4,257.3L515.5,256.4L511.2,256.4L511.2,257.4L509.2,257.4L504.2,257.4L498.5,255.7L494.7,254.4L495.0,254.0L491.8,254.2L488.9,254.4M551.3,299.4L551.3,298.7L551.5,298.1L551.2,297.7L552.4,295.6L555.6,295.6L555.7,294.8L555.3,294.6L555.0,294.1L554.1,293.5L553.1,292.7L554.3,292.7L554.3,291.2L556.6,291.2L558.9,291.3M558.9,291.3L558.9,290.9L559.6,291.1L560.5,289.6L561.0,289.5M558.9,291.3L558.7,296.1L559.5,296.0M561.3,296.5L558.9,298.1L558.7,298.6L558.4,299.7M558.4,299.7L557.8,299.9L557.9,300.2L557.5,300.5L556.6,301.1L556.5,301.4M558.4,299.7L559.1,299.9L559.7,300.4L560.4,300.8L560.5,301.2L561.6,300.9L562.1,301.1L562.5,301.3L562.3,302.3M563.5,303.3L564.3,303.2L564.6,302.7L564.9,302.6L564.9,301.4L565.5,301.3L566.0,301.4L566.5,300.7L567.3,301.2L567.5,300.9L568.0,300.6L568.9,299.9L568.9,299.4L569.2,299.4L569.5,298.8L569.7,298.7L570.2,299.1L570.7,299.2L571.2,298.9L571.8,298.9L572.7,298.6L573.1,298.2L573.9,298.3M567.5,308.0L567.9,307.7L569.5,308.4L570.1,308.1L570.9,308.3L571.3,308.8L572.0,309.0L572.6,308.4M575.4,311.9L574.5,312.1L574.5,313.1L575.0,313.5L574.6,313.8L574.7,314.2L574.5,314.7L574.4,315.3M588.4,314.1L588.1,314.5L588.7,315.9L588.2,316.7L587.4,316.5L587.1,317.7M603.5,306.3L601.9,306.8L601.2,308.0L600.3,308.7L599.5,309.7L599.2,311.4L598.5,312.9L599.8,313.1L600.1,314.2L600.7,314.8L600.9,315.8L600.6,316.7L600.7,317.2L601.3,317.4L601.9,318.3L605.1,318.1L606.6,318.4L608.3,320.5L609.3,320.3L611.1,320.4L612.5,320.1L613.4,320.5L613.0,321.9L612.4,322.7L612.2,324.5L612.7,326.2L613.4,326.9L613.5,327.5L612.3,328.7L613.2,329.3L613.8,330.2L614.6,332.7M614.6,332.7L614.1,333.0L613.6,331.5L612.9,330.7L612.1,331.6L607.2,331.5L607.3,333.1L608.7,333.3L608.7,334.3L608.2,334.0L606.7,334.4L606.7,336.3L607.8,337.2L608.2,338.6L608.2,339.7L607.1,346.6M607.1,346.6L605.8,345.2L605.1,345.2L606.7,342.6L604.8,341.5L603.3,341.7L602.4,341.2L601.0,341.9L599.1,341.6L597.6,339.0L596.5,338.3L595.7,337.1L594.0,336.0L593.4,336.2M593.4,336.2L592.3,335.6L591.1,334.7L590.3,335.1L588.2,334.8L587.6,333.7L587.1,333.8L584.6,332.3M593.4,336.2L593.7,338.1L592.9,339.7L590.2,342.3L587.2,343.3L585.7,345.5L585.2,347.2L583.8,348.2L582.7,346.9L581.7,346.7L580.7,346.9L580.6,346.0L581.3,345.4L581.0,344.3M607.1,346.6L604.8,346.4L604.5,346.8L602.4,347.3L599.6,349.0L599.4,350.2L598.7,351.0L599.0,352.4L597.5,353.1L597.5,354.2L596.8,354.6L597.9,356.9L599.2,358.4L598.7,359.5L600.4,359.6L601.3,360.9L603.5,361.0L605.6,359.5L605.4,363.3L606.6,363.6L608.0,363.2M608.0,363.2L610.1,367.2L609.6,368.1L609.5,369.8L609.4,371.9L608.4,373.2L608.9,374.1L608.3,375.0L609.4,377.1L607.8,379.8M607.8,379.8L607.1,381.0L605.9,381.7M607.8,379.8L609.0,381.5L609.4,383.3L610.7,384.3L609.9,386.7L611.2,389.5L612.2,393.0L614.0,392.7M614.0,392.7L613.5,395.9L610.7,397.1L610.8,401.3L610.3,402.1L611.0,403.1L609.3,404.6L607.6,407.0L606.8,409.2L607.0,411.7L605.4,414.3L606.6,418.6L607.3,419.0L607.2,421.3L605.8,423.8L605.9,425.9L604.0,427.5L604.0,429.8L604.8,432.2L603.3,433.1L602.6,435.4L602.0,437.9L602.4,441.0L601.4,441.5L602.0,444.4L603.1,445.3L602.3,446.4L603.5,446.9L603.7,447.8L602.6,448.3L602.9,449.7L602.0,453.0L600.7,455.2L601.0,456.4L600.2,458.0L598.2,459.1L598.5,461.8L599.3,462.7L601.0,462.5L601.0,464.4L602.0,465.9L608.0,466.2L610.4,466.6M610.2,467.4L610.2,473.0M614.0,392.7L614.3,393.3L616.1,390.4L619.4,391.0L620.8,392.8L621.8,390.8L624.7,390.9L625.1,391.4M625.1,391.4L626.1,387.1L627.3,384.9L631.7,384.2L634.0,384.2L636.3,385.5L636.4,386.3M636.4,386.3L637.1,385.7L636.9,384.3L637.6,383.2L638.0,381.2L637.5,379.7L636.1,379.0L635.8,378.0L636.2,376.6L631.4,376.5L630.4,373.5L631.2,373.5L631.1,372.4L630.6,371.7L630.5,370.3L629.1,369.5L627.5,369.5L626.5,368.8L624.8,368.3L623.8,367.4L621.0,367.0L618.3,364.7L618.5,363.1L618.2,362.1L618.4,360.2L615.2,360.6L613.9,361.6L611.7,362.6L611.1,363.3L609.8,363.4L608.0,363.2M625.1,391.4L629.7,395.5L631.7,395.9L634.8,397.7L637.3,398.7L637.7,399.8L635.2,403.6L637.8,404.3L640.6,404.7L642.5,404.3L644.8,402.4L645.2,400.2M645.2,400.2L645.7,398.7L646.1,397.2L646.1,395.9L645.2,395.4L644.2,395.8L643.3,395.7L643.0,394.7L642.8,392.5L642.3,391.7L640.6,391.0L639.6,391.5L636.9,391.0L637.1,387.6L636.4,386.3M645.2,400.2L647.7,401.1L647.7,403.1L645.6,404.5L643.9,405.5L641.1,407.9L637.7,411.4M637.7,411.4L639.3,411.1L641.9,413.0L642.8,412.9L645.4,414.6L647.3,416.0L648.8,417.7L647.7,418.8L648.4,420.3M637.7,411.4L637.1,413.4L636.4,415.9L636.5,418.4L635.9,419.0L635.7,420.6M632.4,314.9L630.4,316.3L631.0,318.2L630.4,318.6L628.9,319.0L628.9,320.2L628.3,320.9L630.0,322.8M630.0,322.8L630.3,323.5L629.4,324.4L626.6,325.4L624.8,325.8L624.1,326.4L622.1,325.7L620.2,325.4L619.7,325.6L620.9,326.3L620.8,328.0L621.1,329.5L623.2,329.8L623.4,330.3L621.6,331.0L621.3,332.1L620.3,332.5L618.4,333.0L617.9,333.8L616.0,334.0L614.6,332.7M630.0,322.8L631.3,322.7L631.8,323.3L631.5,324.4L632.4,324.7L632.9,325.9L632.2,326.8L631.9,328.9L632.5,330.2L632.7,331.3L634.2,332.5L635.4,332.6L635.7,332.1L636.5,332.0L637.6,331.6L638.4,330.9L639.8,331.1L640.4,331.0M640.4,331.0L638.9,328.9L638.6,327.5L637.8,327.5L636.7,325.6L637.1,324.3L637.0,323.8L638.5,323.1L638.9,320.9M640.4,331.0L641.8,331.2L642.0,330.7L641.6,330.2L641.9,329.5L642.9,329.7L644.0,329.5L645.5,330.0M645.5,330.0L646.1,329.0L646.4,327.8L646.8,326.7L645.8,325.3L645.6,323.5L646.9,321.4M645.5,330.0L646.6,330.5L647.4,329.8L647.9,330.0L648.3,330.7L649.5,330.5L650.4,329.5L651.2,327.7L652.7,325.4M602.5,286.5L602.7,287.9L602.5,288.8L601.9,289.2L602.6,290.0L602.5,290.7M867.5,257.7L869.2,262.0M776.4,247.8L777.4,249.4L777.5,251.0L778.4,253.6L779.0,254.1L778.6,255.1L775.3,255.5L774.2,256.5L772.7,256.7L772.6,258.5L769.7,259.5L768.7,260.8L766.7,261.5L764.2,261.8L760.2,263.7L760.2,266.6M760.2,266.6L749.0,266.7M760.2,266.6L760.1,267.3L760.1,271.1L751.9,271.0L752.0,277.4L749.7,277.6L749.0,278.9L749.5,282.5L739.7,282.5L739.2,283.3M760.1,267.3L769.5,273.4M769.5,273.4L778.0,278.8L786.4,284.3L787.0,285.4L788.5,286.1L789.7,286.6L789.7,288.1L792.5,287.9M792.5,287.9L796.0,286.8L803.3,281.9L811.9,277.1M811.9,277.1L810.8,275.5L808.8,274.4L807.6,274.8L806.7,273.4L806.6,272.4L805.2,270.6L806.2,269.5L805.9,267.9L806.3,266.6L806.1,265.4L806.5,263.4L806.4,262.2L805.6,260.0M805.6,260.0L804.5,255.5L803.0,254.5L802.9,253.9L800.9,252.4L800.7,250.5L802.2,249.1L802.8,247.1L802.4,244.7L802.9,243.4M805.6,260.0L806.8,259.4L807.0,258.4L806.7,257.3L808.5,256.4L809.2,255.6L810.4,254.8L810.6,252.9M844.8,256.8L843.9,258.1L844.3,259.1L843.6,260.7L844.4,262.7L844.4,280.8M844.4,280.8L874.0,280.8M844.4,280.8L844.4,285.8L841.5,285.8L841.5,286.8M841.5,286.8L831.5,282.0L821.5,277.3L819.4,278.3M819.4,278.3L817.2,279.6L815.8,278.2L811.9,277.1M769.5,273.4L765.7,273.4L766.9,284.2L768.1,295.0L768.5,295.3L768.0,297.0L758.0,297.1L757.6,297.6L756.6,297.5L755.2,298.0L753.5,297.3L752.7,297.3L752.3,298.8L751.4,299.2M751.4,299.2L749.8,297.5L748.2,295.7L746.6,295.0L745.4,294.3L744.0,294.3L742.8,294.9L741.5,294.6L740.7,295.4M751.4,299.2L751.5,300.8L752.0,302.2L753.0,302.9L753.2,303.9L753.1,304.7M753.1,304.7L752.7,304.8L751.3,304.6L751.1,304.9L750.6,305.0L748.8,304.3L747.6,304.3M747.6,304.3L743.0,304.2L742.3,304.5L741.5,304.4L740.1,304.8M739.7,302.9L742.0,303.0L742.6,302.6L743.1,302.6L744.0,302.0L745.1,302.5L746.1,302.6L747.2,302.0L746.7,301.3L745.9,301.7L745.1,301.7L744.1,301.1L743.3,301.1L742.8,301.7L740.1,301.8M747.6,304.3L747.5,305.2L747.3,305.4L747.5,306.3L747.1,306.6L746.5,306.6L745.9,307.0L745.1,307.0L744.0,308.2M753.1,304.7L753.6,305.6L754.2,305.3L754.7,305.3L755.4,306.0L756.4,306.2L757.1,305.6L757.9,305.3L758.5,305.0L759.0,305.0L759.6,305.6L759.9,306.3L760.9,307.3L760.4,307.9L760.3,308.8L760.8,308.5L761.1,308.8L761.0,309.6L761.8,310.3M748.7,313.5L750.1,312.4L750.3,311.7L750.8,311.2L751.5,311.1L752.0,310.7L754.0,310.7L754.7,311.6L755.3,312.6L755.2,313.3L755.6,314.0L755.6,314.9L756.3,314.8M756.3,314.8L755.1,315.9L754.0,317.3L753.8,318.0L753.2,318.8M756.3,314.8L756.8,314.7L757.4,314.4L758.5,316.0L758.3,317.0L758.8,317.5L759.5,317.5L760.0,316.5L760.7,316.6M760.7,316.6L761.1,316.6L761.3,315.5L761.1,315.0L761.3,314.6L762.3,314.3L761.6,312.3L761.1,311.3L761.3,310.5L761.8,310.3M760.7,316.6L760.6,317.3L760.9,318.5L760.3,319.6L761.1,320.3L761.9,320.5L762.9,321.5L763.0,322.5L762.7,322.8L762.6,324.9M761.8,310.3L762.1,310.0L762.8,310.4L764.7,310.4L765.2,309.7L765.6,309.8L766.3,309.5L766.7,310.5L767.3,310.2L768.3,309.9M768.3,309.9L769.5,310.4L769.9,311.2L771.0,311.8L771.9,311.1L773.1,311.0L774.8,311.7M774.8,311.7L775.4,315.2L774.4,317.3L773.7,320.2L774.8,322.3L774.7,323.3M768.3,309.9L768.2,308.4L768.8,307.3L768.8,306.5L770.8,304.4L771.1,302.7L771.8,302.1L773.0,302.4L774.1,301.9L774.4,301.3L776.4,300.2L776.8,299.4L779.2,298.4L780.5,298.0L781.2,298.5L782.8,298.5M782.8,298.5L784.4,298.4L785.3,297.5L788.7,297.3L790.9,296.9L791.1,295.3L792.5,293.7L792.5,287.9M782.8,298.5L782.6,299.7L782.9,300.8L784.3,302.4L784.4,303.7L787.3,304.2L787.2,305.9M774.8,311.7L774.4,309.8L774.5,308.4L778.8,308.3L779.9,308.4L780.7,308.0L781.9,308.2M781.9,308.2L784.1,308.3M784.1,308.3L784.9,308.0L785.5,306.9L786.7,306.7L787.2,305.9M781.9,308.2L781.7,309.0L782.8,310.3L782.8,312.1L783.0,314.1L783.6,315.0L783.1,317.3L783.3,318.5L783.9,320.1L784.5,321.0M784.1,308.3L783.8,309.6L784.5,310.3L785.4,311.2L785.5,312.5L786.0,313.0L785.9,318.7L786.5,320.4M787.2,305.9L788.1,305.2L789.0,305.2L790.9,306.6M790.9,306.6L790.8,307.5L791.3,309.0L790.8,310.0L791.1,310.6L789.9,312.2L789.1,312.9L788.6,314.5L788.7,316.1L788.6,320.1M790.9,306.6L791.0,304.4L791.8,303.4L792.1,302.0L792.8,301.4L795.4,301.1L798.0,302.1L798.9,303.0L800.2,303.0L801.4,302.4L804.4,303.7L805.7,303.7L807.1,302.6L808.6,302.7L809.3,302.3L810.7,302.5L812.6,303.2L814.6,301.8L815.9,301.5M815.9,301.5L815.7,299.9L816.8,296.6L820.0,294.2L820.1,291.0L821.1,285.9L821.6,284.8L820.6,284.0L820.5,283.2L819.6,282.5L819.4,278.3M815.9,301.5L817.1,303.0L817.4,304.5M817.4,304.5L818.3,305.6L818.0,306.0L817.9,306.9L815.8,308.8L815.1,310.4L814.8,311.7L814.3,312.2L813.7,314.0L812.4,315.0L812.0,316.3L811.5,317.3L811.2,318.3L809.5,319.2L808.1,318.1L807.2,318.2L805.7,319.7L804.9,319.7L803.8,322.1L803.1,323.9M817.4,304.5L819.1,305.2L819.3,306.9L819.2,308.6L820.5,310.8L819.1,310.8L818.4,311.0L817.3,310.7L816.7,311.9L818.2,313.4L819.3,313.8L819.7,314.8L820.5,316.6L820.1,317.2M820.1,317.2L818.8,319.8L818.2,320.2L818.0,322.2L818.3,323.2L818.1,324.0L819.2,325.3L819.5,326.2L820.4,327.4L821.5,328.3L821.6,329.4L821.9,330.1M821.9,330.1L821.7,331.5L819.7,330.9L817.7,330.2L814.6,330.1M814.6,330.1L814.2,330.0L812.8,330.3L811.2,330.0L810.1,330.1M810.1,330.1L806.0,330.1M810.1,330.1L810.1,333.1L806.4,333.1L805.6,333.3M814.6,330.1L814.4,331.2L815.1,332.5L816.9,332.3L817.6,332.8L816.5,335.7L817.7,337.2L817.9,339.1L817.6,340.8L816.8,342.0L814.6,341.9L813.3,340.7L813.1,341.8L811.4,342.1L810.6,342.7L811.5,344.4L809.6,345.8M821.9,330.1L823.2,327.8L824.7,326.5L826.4,326.9L828.0,327.0M828.0,327.0L827.8,328.5L827.1,329.9L826.6,331.4L826.3,333.6L826.4,335.1L826.0,336.0L826.0,336.9L825.7,337.7L824.0,338.9L822.9,340.2L821.8,342.6L821.9,344.7L821.2,345.5L819.8,346.7L818.3,348.2L817.4,347.8L817.2,347.1L815.9,347.1L815.0,348.0L814.3,347.8L813.4,346.9L812.7,347.3L811.6,348.4M812.3,350.3L813.0,350.0L813.0,348.9L813.4,348.3L814.3,347.8M828.0,327.0L828.2,325.3L829.2,324.0L830.5,323.2L832.6,324.1L834.2,325.0L836.0,325.2L837.9,325.7L838.6,324.2L839.0,324.0L840.1,324.3L842.9,323.0L843.9,323.5L844.7,323.5L845.1,322.9L846.0,322.6L847.9,322.9L849.5,323.0L850.3,322.7M820.1,317.2L822.1,317.0L822.6,316.4L823.0,316.5L823.6,317.0L826.8,316.1L827.8,315.1L829.1,314.2L828.9,313.3L829.6,313.1L832.0,313.3L834.4,312.1L836.2,309.4L837.4,308.4L839.0,307.9M839.0,307.9L839.3,309.0L840.7,310.6L840.8,311.6L840.3,312.6L840.5,313.4L841.4,314.1L843.3,315.2L844.6,316.2L844.7,317.0L846.4,318.3L847.4,319.4L848.0,320.9L849.9,321.9L850.3,322.7M839.0,307.9L839.1,307.3L838.1,306.6L838.1,305.1L837.6,304.2L836.7,304.3L837.0,303.4L837.6,302.4L837.3,301.3L838.1,300.6L837.6,300.0L838.3,298.4L839.4,296.6L841.6,296.8L841.5,286.8M841.4,314.1L842.3,314.0L843.2,313.5L843.8,311.3L844.5,310.1L846.3,309.8L846.8,310.4L848.1,311.9L848.7,312.1L849.6,311.7L851.4,311.8L851.8,312.3L854.3,312.3L854.4,311.8L855.7,311.3L855.9,310.6L856.9,310.1L859.0,311.5L860.2,311.3L861.5,309.5L862.9,308.1L862.6,306.6L862.0,305.9L863.5,305.7L863.7,305.2L864.9,305.3L864.6,307.2L864.9,309.0L866.2,310.0L866.5,310.8L866.4,312.1L866.8,311.8M877.9,290.8L876.6,292.2L874.8,292.6L874.0,293.4L873.7,295.1L872.7,298.7L872.9,299.7M872.9,299.7L872.5,301.9L871.5,304.3L870.0,305.6L868.9,307.5L868.7,308.5L867.5,309.2L866.8,311.8L866.8,314.1L866.4,314.8L865.1,314.9L864.2,316.3L865.8,316.5L867.1,317.7L867.5,318.7L868.6,319.3L870.1,322.0M872.9,299.7L875.8,300.3L876.6,298.4L878.1,299.5L879.6,298.9L880.2,299.5L882.0,299.5L884.1,300.5L884.8,301.4L885.9,302.2L886.9,303.6L887.8,304.4M887.8,304.4L888.8,304.6L889.6,304.0M887.8,304.4L886.9,305.5L886.0,306.7L886.2,307.4L886.3,308.2L887.7,308.2L888.3,308.0L888.8,308.5M888.8,308.5L889.2,308.3L889.8,307.1M888.8,308.5L888.3,309.4L889.2,310.7L890.1,311.9L891.1,312.8L899.3,315.8L901.4,315.8L894.3,323.3L891.0,323.4L888.8,325.2L887.2,325.2L886.5,326.0M901.4,315.8L903.1,313.7L904.2,312.2L904.2,307.3M886.5,326.0L884.3,328.8L884.4,338.0L885.9,340.0M886.5,326.0L884.8,326.0L883.8,325.1L881.5,326.2L880.8,327.2L879.1,327.0L878.5,326.7L878.0,326.8L877.2,326.8L874.0,324.7L872.3,324.7L871.4,323.8L871.4,322.4L870.1,322.0M870.1,322.0L868.4,323.7L866.9,325.2M866.9,325.2L868.1,326.9L868.4,328.2L869.5,331.0L868.5,332.8L867.3,334.5L866.6,335.5L866.6,338.2M866.6,338.2L876.1,343.6L876.3,345.0L879.9,347.5M866.6,338.2L861.5,338.4L858.8,338.3L857.9,338.6M866.9,325.2L865.3,326.3L863.6,326.3L861.6,326.9L860.0,326.3L858.9,327.0M858.9,327.0L858.8,329.9L859.8,330.3L859.0,331.2L858.0,331.8L857.1,333.1L856.6,334.3L856.4,336.3L855.8,337.3L855.8,339.2M855.8,339.2L856.4,339.4L857.9,338.6M850.3,322.7L851.8,324.8L852.9,325.1L853.6,324.6L854.8,324.8L856.2,324.3L856.7,325.4L858.9,327.0M855.8,339.2L855.1,339.9L855.0,341.4L854.7,341.5L854.4,342.9M854.4,342.9L855.9,343.1L856.7,341.7L858.0,341.8M858.0,341.8L858.8,341.5L858.9,340.1L857.9,338.6M854.4,342.9L855.1,344.0L855.2,347.1M855.2,347.1L856.2,346.9L857.2,346.0L858.1,344.7L858.7,344.2L858.7,343.4L858.2,342.8L858.0,341.8M855.2,347.1L855.7,349.4L855.4,350.7L855.9,352.1L857.4,353.5L858.7,356.7M858.7,356.7L859.8,357.3L860.8,357.7L862.3,358.1L863.8,358.9M863.8,358.9L864.9,360.0L866.2,359.4L866.7,360.0L867.6,361.2L868.3,364.6M868.3,364.6L870.1,364.4L873.1,365.1L873.8,364.8L875.5,364.7L876.4,364.0L877.9,364.0L880.7,363.1L882.7,361.6M868.3,364.6L867.6,366.5L868.3,369.8L869.1,369.7L870.0,370.5L871.1,372.3L871.3,375.6L870.2,376.1L869.4,377.8L867.8,376.3L867.6,374.5L868.2,373.3L868.0,372.3L867.0,371.7L866.3,371.9L864.9,370.7M864.9,370.7L863.6,370.1L864.3,367.8L865.1,366.9L864.6,364.8L865.2,362.8L865.6,362.1L864.9,360.0M864.9,370.7L857.3,372.8L857.5,374.6M857.5,374.6L855.7,374.9L854.2,375.9L853.9,376.8L853.0,377.0L850.9,379.0L849.5,380.7L848.6,380.7L847.8,380.4L845.0,380.2M857.5,374.6L859.8,375.5L861.0,376.0L861.5,376.6L862.7,376.8L864.0,377.6L864.0,380.8L863.5,382.5L863.4,384.4L863.8,385.1L863.5,386.6L863.1,386.8L862.5,388.6L859.8,391.4M859.8,391.4L858.5,391.2L857.7,391.5L856.5,391.1L855.4,391.0M855.4,391.0L851.9,389.5L851.2,387.9L851.2,387.1L850.1,386.8L847.3,384.0L846.5,382.6L846.0,382.2L845.0,380.2M859.8,391.4L861.0,395.0L861.7,396.7L861.2,399.5L861.5,400.4M861.5,400.4L861.8,401.5L862.0,402.6L863.9,402.7M861.5,400.4L860.2,400.0L859.5,400.1L859.2,400.9L858.6,401.8L858.6,402.7L860.1,404.0L861.5,403.8L862.0,402.6M854.3,408.2L855.2,409.0L854.4,410.2L854.0,411.0L852.6,411.4L852.1,412.2L851.2,412.4L849.4,410.5L850.7,408.9L852.0,407.9L853.2,407.4L854.3,408.2M855.4,391.0L851.9,392.9L849.7,394.7L848.8,396.4L848.1,397.4L846.7,397.6L846.3,398.7L846.0,399.5L844.4,400.1L842.4,400.0L841.2,399.3L840.1,399.0L838.9,399.6L838.3,400.8L837.1,401.5L835.9,402.6L834.1,402.9L833.5,402.0L833.8,400.5L832.3,398.1L831.9,397.7M831.9,397.7L831.6,407.0L829.4,408.2L828.0,408.4L826.5,408.0L825.3,407.8L824.9,406.7L823.9,406.0L822.7,407.3M831.9,397.7L831.6,390.4L834.1,390.3L834.1,381.4L836.0,381.4L839.9,379.6L840.8,381.5L842.4,380.5L843.2,380.5L844.6,380.0L845.0,380.2M811.2,379.1L812.4,378.6L813.9,378.2L815.5,378.2L817.0,379.4L817.4,379.2L827.5,379.1L829.3,380.3L835.3,380.6L839.9,379.6M839.9,379.6L841.9,379.1L843.6,379.2L844.6,379.8L845.0,380.2M839.9,379.6L838.3,378.1L836.6,376.0L836.7,368.1L841.9,368.1L841.7,367.2L842.1,366.3L841.6,365.1L841.9,363.9L841.6,363.1M841.6,363.1L840.5,363.0L839.0,363.4L837.9,363.3L837.3,363.5L837.4,360.5L836.6,359.6L836.4,358.1L836.7,356.6L836.2,355.6L836.2,354.0L833.1,354.1L833.4,353.2L832.1,353.2L832.0,353.6L830.4,353.7L829.8,355.2L829.4,355.8L828.0,355.4L827.2,355.8L825.5,356.0L824.6,354.7L824.0,353.9L823.3,352.4L822.7,350.5L815.3,350.5L814.4,350.8L813.7,350.7L812.7,351.1M841.6,363.1L842.5,363.2L842.6,364.0L843.8,363.9L845.4,364.1L846.2,365.3L848.2,365.6L849.8,364.8L850.3,366.1L852.3,366.5L853.2,367.6L854.2,368.9L856.1,369.0L855.9,366.3L855.2,366.7L853.5,365.7L852.8,365.3L853.1,362.8L853.5,359.8L853.0,358.7L853.7,357.1L854.4,356.8L857.7,356.4L858.7,356.7M762.9,197.9L763.4,199.3L762.9,200.6L764.5,200.6L766.3,201.1M1134.5,342.3L1134.5,350.5L1134.5,358.6M1056.1,330.8L1056.5,332.4L1058.2,333.9L1059.8,333.3L1061.4,333.5L1062.9,332.3L1064.1,332.0L1066.5,332.7L1068.5,332.2L1069.8,328.7L1070.7,327.9L1071.6,325.0L1074.5,325.0L1076.6,325.4M1067.4,324.5L1068.6,325.8L1069.1,324.9L1070.3,325.0L1070.5,323.3L1070.6,322.2M1094.4,358.0L1094.7,359.3M863.7,247.9L864.8,247.8L865.3,247.9L865.5,248.0L866.8,248.1M763.2,243.0L763.0,242.2L763.9,241.3L764.3,240.6L763.4,239.8L764.1,238.2L763.1,236.7L764.2,236.5L764.3,235.3L764.7,234.9L764.7,233.0L765.9,232.3L765.2,231.1L763.7,231.0L763.3,231.3L761.8,231.3L761.2,230.1L760.2,230.4L759.3,231.1M777.1,227.2L778.1,228.2L782.7,229.3L783.6,228.8L786.4,229.9L789.3,229.6M800.4,226.5L800.7,225.4L799.4,225.1L798.7,223.2L799.6,222.4L798.8,221.5L798.9,220.8M798.9,220.8L798.1,219.7L796.9,220.1L796.9,218.9L798.8,217.5L798.7,216.9L799.8,217.1L800.5,216.7M800.5,216.7L800.8,214.9L802.1,213.2L798.5,212.8L797.3,212.1M797.3,212.1L796.6,212.2L796.0,211.9M796.0,211.9L793.8,210.8L792.6,211.0L790.8,209.8L789.6,208.8L788.5,208.8L788.1,207.9M796.0,211.9L796.3,210.5L796.9,210.4M796.9,210.4L797.4,211.0L797.3,212.1M796.9,210.4L797.2,208.8M797.2,208.8L795.9,208.2L794.3,207.1L792.0,207.6L790.1,207.4M797.2,208.8L796.8,206.1L798.3,206.1L798.9,205.2L799.6,202.9L799.1,202.1M803.2,198.4L805.1,198.7L806.7,198.3M817.2,201.4L817.7,202.6L817.0,203.3L818.0,204.2L818.6,205.5L818.4,206.4L819.4,208.0L818.9,208.6M818.9,208.6L817.6,208.0L817.0,208.4L815.2,208.9L814.3,209.6L812.5,210.1L812.9,210.8L813.2,211.9L814.4,212.5L815.9,213.6M815.9,213.6L815.0,214.7L814.1,215.0L814.4,216.7L814.2,217.1L813.4,216.6L812.2,216.5L810.4,217.0L808.2,216.8L807.9,217.5L806.6,216.8L805.8,216.9M805.8,216.9L803.2,216.2L802.7,216.7L800.5,216.7M805.8,216.9L805.9,217.4L805.6,218.0L806.7,218.5L808.0,218.5M808.0,218.5L807.8,219.6L806.7,220.0L804.8,219.7L804.3,220.7L803.1,220.7L802.7,220.4L801.3,221.2L800.0,221.3L798.9,220.8M808.0,218.5L809.5,218.9L809.8,218.4L812.2,218.0L812.8,218.8L816.4,219.5M816.4,219.5L816.1,220.7L816.7,221.8M816.4,219.5L818.4,219.7L819.7,219.1L821.9,219.1L822.4,218.6M822.4,218.6L823.2,217.0L822.7,216.5L824.1,216.5L824.3,215.5M824.3,215.5L824.1,214.6L824.3,214.3M824.3,214.3L823.1,213.8L821.9,213.9L820.0,213.2L819.1,213.4L817.7,214.4L815.9,213.6M818.9,208.6L820.6,208.8L822.5,209.0L822.3,209.7L823.7,210.2L824.0,209.6L825.7,209.9L826.0,210.6L827.8,210.8L829.0,212.0M829.0,212.0L828.2,212.0L827.9,212.5L827.3,212.6L827.1,213.2L826.6,213.3L826.6,213.5L825.7,213.8L824.6,213.7L824.3,214.3M829.0,212.0L829.1,212.2L830.2,211.8L831.4,212.7L832.9,212.2L834.1,212.4L835.9,212.1L838.3,213.0M824.3,215.5L825.6,216.1L826.5,216.4L828.6,216.1L828.8,215.6L829.8,215.5L831.0,215.1L831.3,215.3L832.5,214.9L833.0,214.4L833.9,214.2L836.5,215.0L837.1,214.7M837.1,214.7L837.6,213.7L838.3,213.0M838.3,213.0L838.8,213.2L838.2,212.1L840.4,210.0L841.7,209.7L841.9,209.0L840.7,206.8M840.7,206.8L840.6,205.7L839.9,204.5L841.4,204.0L841.4,203.0L840.7,202.1L840.6,201.0M840.6,201.0L840.0,200.2L838.7,199.9M838.7,199.9L834.1,200.0L831.0,199.7M838.7,199.9L838.5,199.3L838.8,198.6L837.7,198.2L835.0,197.8M834.5,195.7L837.4,194.9L841.6,195.1L844.0,194.8L844.4,195.4L845.7,195.5L848.1,196.7M848.1,196.7L848.3,197.8L846.3,198.6L845.7,200.1L843.0,201.0L840.6,201.0M848.1,196.7L849.6,196.3L852.3,195.3M842.6,191.3L844.8,190.8L845.9,191.1L848.0,192.1L850.1,192.1M850.1,192.1L851.3,192.7L851.5,193.9L852.3,195.3M850.1,192.1L851.2,191.3L850.4,189.0L852.2,187.5L851.8,187.1M852.3,195.3L854.9,196.0L855.3,196.6L856.6,196.3L859.0,196.9L859.3,198.1L858.8,198.7L860.3,200.4L861.3,200.8L861.2,201.3L862.9,201.7L863.6,202.4L862.6,202.9L860.6,202.8L860.1,203.1L860.7,203.9L861.3,205.5M861.3,205.5L859.2,205.7L858.4,206.2L858.3,207.5L857.3,207.2L855.0,207.3L854.3,206.8L853.4,207.2L852.5,206.8L850.5,206.8L847.7,206.2L845.2,206.0L843.2,206.0L841.9,206.7L840.7,206.8M861.3,205.5L862.3,205.6L862.9,205.0L863.7,205.2L866.2,204.9L867.8,206.3L867.2,206.8L867.4,207.6L869.4,207.7L870.3,208.8L870.3,209.3L873.4,210.2L875.3,209.8L876.9,211.0L878.3,210.9L882.1,211.8L882.1,212.5L881.1,213.8L881.6,215.2L881.2,216.0L878.8,216.2L877.5,216.9L877.4,218.0M848.4,215.2L849.0,214.8L850.7,214.6L852.5,215.4L853.5,215.5L854.7,216.1L854.5,217.0L855.4,217.4L855.8,218.4L856.6,219.1L856.5,219.4L856.9,219.7L856.3,219.9L854.8,219.8L854.5,219.5L854.0,219.7L854.2,220.1L853.5,220.9L853.1,221.8L852.4,222.0L852.0,220.9L852.3,219.8L852.2,218.7L850.7,217.2L849.9,216.2L849.2,215.5L848.4,215.2M855.9,223.2L854.7,222.1L853.6,222.5L852.4,222.0M848.4,215.2L847.4,215.2L846.7,215.8L844.9,216.0L844.0,216.4L842.9,215.8L841.3,215.8L839.7,215.5L838.6,216.1M838.6,216.1L838.5,215.4L837.1,214.7M838.6,216.1L837.1,216.6L835.9,218.3L834.4,220.0L832.4,220.4M832.4,220.4L830.9,220.3L828.9,221.0M828.9,221.0L828.0,221.4L825.9,220.9L824.1,219.8L823.3,219.5M823.3,219.5L822.8,218.7L822.4,218.6M823.3,219.5L821.3,220.2L821.0,221.2L820.2,221.4L820.2,222.1L819.2,222.1L818.4,221.7L817.9,222.1L816.2,222.0M828.9,221.0L829.5,222.0L830.3,222.7L829.4,223.6M829.4,223.6L828.2,223.1L826.5,223.1L824.4,222.7L823.2,222.7L822.7,223.3L821.8,222.7L821.2,223.7L822.5,224.9L823.0,225.7L824.2,226.6L825.1,227.1L826.0,228.2L828.3,229.1L828.0,229.6M829.4,223.6L830.3,223.6L829.7,224.7L830.9,225.7L830.5,226.8L829.9,227.0M829.9,227.0L829.4,227.2L828.6,227.8L828.3,229.1M829.9,227.0L830.6,227.4L830.9,227.7L831.8,228.0L832.7,228.5L832.5,228.7L832.0,229.3M832.0,229.3L831.4,229.5L831.2,229.0L830.1,230.3L830.3,231.1M832.0,229.3L832.5,228.7L833.1,228.6L833.5,227.7L833.9,227.6L834.3,227.9L834.7,228.1L835.0,228.5L835.5,228.6L835.9,229.1L836.3,229.1L836.0,229.7L835.7,230.0L835.8,230.1L835.2,230.2L833.8,230.6L833.7,231.1L833.3,231.1L833.2,230.2L832.6,230.0L832.0,229.3M832.4,220.4L833.8,221.4L834.0,222.2L835.6,222.8L835.8,223.8L837.2,224.6L838.0,224.0L838.6,224.3L838.0,224.7L838.5,225.2M838.5,225.2L837.9,225.7L838.1,226.7L839.3,227.7L838.4,228.5L838.0,229.3L838.2,229.6L837.8,230.0M838.5,225.2L839.2,226.2L840.2,226.0L842.1,226.4L845.8,226.5L847.0,225.9L850.0,225.3L851.8,226.2L853.3,226.5M837.8,230.0L836.7,230.0L835.8,230.1M837.8,230.0L839.1,230.8L839.2,232.4M839.2,232.4L838.8,232.5L838.4,232.9L837.0,232.9L836.0,233.4L834.3,233.6M834.3,233.6L833.4,233.0L833.0,232.0L833.3,231.1M834.3,233.6L833.5,234.7L833.4,235.5L832.2,236.7M839.2,232.4L841.1,232.5L843.1,231.8L844.9,232.7L847.1,232.4L847.2,231.2M847.2,231.2L849.7,230.4L851.9,230.7M847.2,231.2L848.4,231.9L847.6,233.4L847.0,233.7M809.4,188.6L810.5,187.2L812.6,185.5L813.4,182.5L811.8,181.3L811.7,177.9L813.3,175.6L815.8,175.6L816.7,174.6L815.8,173.8L819.6,170.3L822.1,167.5L823.8,165.7L826.2,165.7L826.8,164.3L831.6,164.7L831.9,163.1L833.5,163.0M833.5,163.0L836.8,164.2L840.7,165.9L840.8,169.7L841.6,170.7M833.5,163.0L835.0,162.3L837.8,163.6L841.0,163.5L843.7,164.1L846.1,163.0L847.3,161.2L851.2,160.3L854.4,161.3L853.3,163.1M853.3,163.1L855.4,162.8L859.6,161.8M853.3,163.1L853.0,164.8L856.8,166.5L854.5,168.4L857.4,171.2L855.7,173.4L858.0,175.2L857.0,176.9L860.7,178.6L859.7,179.9L857.4,181.3L852.0,184.5M885.8,231.9L888.4,231.8L890.8,233.0M890.8,233.0L891.3,233.9L891.0,235.1L892.9,235.7L893.9,236.5M893.9,236.5L892.2,237.2L892.9,240.1L892.5,240.8L893.8,242.8M893.8,242.8L892.6,243.3L891.7,242.6L888.8,242.3L887.8,242.7M887.8,242.7L884.9,243.1L883.6,243.0L880.7,244.0L878.6,244.0L877.3,243.5L874.5,244.2L873.7,243.7L873.6,245.1L872.9,245.7L872.2,246.2M881.8,227.2L882.1,226.9L884.2,227.3L887.9,227.7L891.3,228.9L891.7,229.4L893.2,229.0L895.6,229.5L896.3,230.5L897.9,231.1M897.9,231.1L897.3,231.5L898.5,232.8L898.1,233.1L896.8,233.0L894.9,232.2L894.3,232.6M894.3,232.6L890.8,233.0M894.3,232.6L894.8,233.3L895.8,233.7L895.3,234.4L896.6,235.2L895.9,236.0L897.0,236.7L898.1,237.1L898.2,238.8M897.9,231.1L898.6,231.2L900.3,232.7L901.4,232.9L901.9,232.2L903.3,231.2M898.2,238.8L901.1,237.0L902.0,236.8L902.8,237.5L901.9,238.8L903.5,240.1L904.1,240.0M893.9,236.5L894.4,236.4L895.1,237.1L896.2,237.1L896.2,237.5L897.2,238.9M893.9,236.5L894.3,237.4L895.5,238.6L897.2,238.9M897.2,238.9L898.2,238.8M887.8,242.7L886.5,244.2L885.1,244.9L885.3,246.7L884.4,249.7L878.9,252.3M878.9,252.3L873.9,255.0L871.2,254.0M871.2,254.0L871.5,253.6L871.4,252.6M871.4,252.6L872.0,251.2L873.4,250.3L873.0,249.3L871.9,249.2M871.4,252.6L870.7,252.6L870.5,253.0L869.6,253.1M871.2,254.0L870.7,254.8M870.7,254.8L870.7,256.3L870.4,257.0M870.4,257.0L870.4,258.0L869.2,262.0M870.7,254.8L869.8,254.4L869.3,256.1L869.9,256.4L869.3,256.7L869.2,257.4L870.4,257.0M878.9,252.3L879.9,255.4M879.9,255.4L879.4,255.7L874.4,257.0L876.9,259.5L876.0,259.9L875.6,260.8L873.7,261.1L873.1,262.0L872.0,262.8L869.3,262.4M879.9,255.4L882.9,256.0L886.6,257.8L893.7,262.8L898.3,263.0M898.3,263.0L900.1,260.6L901.8,260.8M898.3,263.0L900.9,264.5L902.9,264.4M893.8,242.8L895.4,245.8L897.1,246.6L897.3,248.0L896.0,248.9L895.4,250.8L897.2,253.2L900.2,254.6L901.5,256.5L901.1,258.3L901.9,258.3L901.9,259.7L903.3,261.0M888.8,294.9L889.9,294.1L889.7,293.1L890.3,291.8L891.4,292.5L892.0,292.3L894.9,292.2L895.4,292.5L897.8,292.7L898.8,292.6L899.4,293.4L900.6,293.0L902.3,290.4L904.7,289.2L911.9,288.3M911.9,288.3L919.4,285.8L921.1,280.8L919.9,279.0M919.9,279.0L919.4,279.5L911.9,278.3L910.9,275.8L910.8,275.2M919.9,279.0L920.0,278.0L920.7,277.0L920.7,276.0L921.8,275.5L921.4,275.1L921.6,273.5L922.9,273.5M922.1,270.6L922.5,271.5M911.9,288.3L913.8,292.4L914.7,294.2M908.9,273.9L910.4,274.2M916.7,242.8L918.9,242.3L920.7,240.9L922.3,240.9L923.4,240.5L925.2,240.7L928.0,242.0L930.0,242.2L932.8,244.4L934.7,244.5L934.9,246.6M934.9,246.6L933.9,249.8L933.2,251.6L934.3,251.9L933.2,253.3L934.0,255.3L934.2,256.9L936.1,257.3L936.3,258.9L934.1,261.2M934.1,261.2L935.3,262.5L936.3,264.0L938.7,265.1L938.8,267.3L940.0,267.7L940.2,268.9L936.6,270.2L935.6,273.1M934.1,261.2L938.3,262.5L940.8,262.1L942.3,262.4L942.8,261.9L944.5,262.1L947.8,261.1L947.8,258.9L949.2,257.5L951.1,257.5L951.4,256.8L953.3,256.5L954.2,256.7L955.2,256.0L955.0,254.5L956.1,253.0L957.7,252.4L956.7,250.7L959.1,250.8L959.8,249.9L959.7,248.9L960.9,247.9L960.7,246.6L960.1,245.6L961.5,244.5L964.2,244.0L967.1,243.7L968.4,243.2M934.9,246.6L937.5,247.6L939.3,247.3L939.9,246.1L941.8,245.7L943.3,245.0L943.8,243.0L945.9,242.5L946.3,241.6L947.4,242.3L948.2,242.4M948.2,242.4L949.6,242.4L951.5,242.9M951.5,242.9L952.2,243.2L954.0,242.4L954.9,242.9L955.7,241.7L957.2,241.8L957.6,241.4L957.9,240.4L958.9,239.5L960.3,240.1L960.0,240.9L960.8,241.0L960.5,243.1L961.5,243.9L962.4,243.4L963.5,243.1L965.1,242.0L966.8,242.2L969.4,242.2M969.4,242.2L969.8,242.9L968.4,243.2M968.4,243.2L971.7,244.1L972.4,246.0L976.5,247.0M976.5,247.0L974.1,249.1L971.3,249.5L967.5,248.9L966.3,250.0L967.2,252.2L968.0,253.9L970.1,255.1L967.9,256.5L968.0,258.3L965.5,260.8L964.0,263.4L961.4,266.0L958.5,265.8L955.7,268.4L957.3,269.6L957.6,271.5L959.0,272.7L959.5,274.9L954.0,274.9L952.3,276.6M976.5,247.0L979.2,250.0L978.9,252.0L979.9,253.3L979.9,254.6L978.1,254.2L978.8,257.0L981.2,258.6L984.7,260.3M984.7,260.3L985.7,259.7L987.7,260.5L990.3,262.1L991.7,262.5L992.5,263.7L994.4,264.2L996.5,265.3L999.3,265.9L1002.2,266.1M984.7,260.3L983.1,261.5L982.1,263.8L984.6,264.7L986.9,266.0L990.2,267.4L993.6,267.7L995.0,269.0L997.0,269.2L1000.0,269.8L1002.1,269.8L1002.3,268.8L1002.0,267.2L1002.2,266.1M1002.2,266.1L1003.7,265.6L1003.9,267.5M1003.9,267.5L1005.6,265.7L1007.0,265.0L1008.7,265.6L1010.1,265.7L1011.2,266.4M1003.9,267.5L1004.0,268.0L1006.3,269.0L1007.8,268.6L1010.0,268.8L1012.0,268.7L1012.2,267.2L1011.2,266.4M1011.2,266.4L1013.2,266.0L1015.4,264.2L1018.3,262.6L1020.4,263.2L1022.2,262.2L1023.4,263.7L1022.5,264.8L1025.2,265.1M1025.2,265.1L1025.4,266.1L1024.5,266.5L1024.7,268.1L1023.0,267.6L1019.7,269.4L1019.8,270.8L1018.4,272.9L1018.3,274.1L1017.2,276.2L1015.2,275.6L1015.1,278.2L1014.6,279.0L1014.8,280.1L1013.6,280.7M1013.6,280.7L1013.5,282.5L1012.7,282.1L1012.8,284.1M1013.6,280.7L1012.3,276.7L1011.6,276.7L1011.2,278.3L1009.8,277.0L1010.6,275.6L1011.7,275.5L1012.9,273.3L1011.4,272.9L1009.1,273.0L1006.7,272.6L1006.5,270.9L1005.3,270.8L1003.3,269.7L1002.4,271.4L1004.2,272.7L1002.7,273.6L1002.1,274.5L1003.7,275.2L1003.2,276.7L1004.1,278.6L1004.5,280.6M1025.2,265.1L1026.7,264.9L1027.5,266.4L1028.6,267.0L1028.7,268.9L1028.6,271.0L1026.2,273.1L1025.9,276.0L1028.6,275.6L1029.2,277.9L1030.7,278.4L1030.0,280.5L1031.9,281.4L1033.0,281.9L1034.8,281.2M1034.8,281.2L1034.9,282.2L1035.1,282.8L1036.4,282.9L1036.1,280.0L1037.4,279.6M1037.4,279.6L1038.7,279.0L1040.7,279.0L1043.1,278.7L1045.3,277.4L1046.5,278.3L1048.8,278.8L1048.4,280.2L1049.5,281.3L1052.1,281.9M1034.8,281.2L1032.7,283.8L1032.2,284.7M1032.2,284.7L1030.8,285.3L1029.3,286.4L1027.5,286.5L1026.4,289.2L1025.4,289.7L1026.6,291.9L1028.1,293.7L1029.2,295.3L1028.3,297.5L1027.4,298.0L1028.0,299.2L1029.7,301.2L1029.9,302.6L1029.9,303.8L1030.9,306.1L1029.5,308.4L1028.3,311.0M1032.2,284.7L1033.3,285.5L1033.4,287.0L1035.1,287.1L1034.5,289.8L1034.6,292.0L1037.2,290.5L1038.0,291.0L1039.4,290.9L1039.9,290.0L1041.8,290.2L1043.7,292.2L1043.9,294.7L1045.9,296.9L1045.8,299.0L1045.0,300.1M1037.4,279.6L1038.8,281.6L1039.9,283.9L1043.0,283.9L1044.0,286.1L1042.4,286.7L1041.7,287.6L1044.7,289.1L1046.8,292.1L1048.3,294.3L1050.2,296.0L1050.8,297.8L1050.4,300.3M1050.4,300.3L1048.2,299.4L1047.0,301.1L1045.0,300.1M1050.4,300.3L1051.0,301.9L1050.7,304.9L1046.5,306.9L1047.6,308.4L1044.9,308.6L1042.8,309.6M1045.0,300.1L1042.6,299.7L1039.4,300.2L1037.8,302.3L1038.4,305.3M1037.3,320.2L1036.5,321.3L1034.8,321.6L1034.6,320.3L1032.6,319.2L1032.1,319.6M1001.3,212.5L1003.9,212.1L1008.7,209.9L1012.5,208.8L1014.7,209.5L1017.3,209.6L1019.0,210.7L1021.4,210.8L1025.1,211.4L1027.5,209.7L1026.5,208.2L1029.1,205.6L1031.9,206.7L1034.1,207.0L1037.1,207.6L1037.6,209.5L1041.1,210.5L1043.5,210.1L1046.7,209.7L1049.2,210.1L1051.6,211.3L1053.1,212.6L1055.4,212.5L1058.6,212.9L1060.9,212.3L1064.2,211.9L1067.8,210.1L1069.3,210.4L1070.7,211.2L1073.6,211.0M1001.3,212.5L1001.9,214.3L1004.0,215.6L1007.6,216.5L1009.3,218.5L1008.4,221.5L1009.3,222.5L1012.2,223.0L1015.6,223.3L1018.6,224.9L1020.2,225.2L1021.3,227.5L1022.8,228.9L1025.5,228.9L1030.7,229.5L1034.0,229.1L1036.5,229.5L1040.2,231.0L1043.2,231.0L1044.3,231.8L1047.3,230.4L1051.3,229.6L1055.0,229.5L1058.0,228.6L1059.8,227.2L1061.5,226.4L1061.1,225.6L1060.3,224.6L1061.6,223.0L1063.0,223.2L1065.6,223.7L1068.1,222.4L1071.9,221.4L1073.7,219.8L1075.5,219.1L1079.1,218.7L1081.1,219.0L1081.4,218.1L1079.1,216.4L1077.1,215.6L1075.2,216.5L1072.7,216.1L1071.3,216.4L1070.7,215.4L1072.4,212.9L1073.6,211.0M1073.6,211.0L1076.6,212.0L1080.2,210.4L1080.1,209.3L1082.4,206.7L1083.8,205.9L1083.8,204.5L1082.4,203.9L1084.4,202.6L1087.6,202.2L1090.9,202.1L1094.6,202.9L1096.8,203.8L1098.3,206.3L1099.3,207.4L1100.2,208.9L1101.1,211.4L1105.4,212.2L1108.4,213.9L1109.4,216.3L1113.2,216.3L1115.4,215.3L1119.5,214.6L1118.2,216.8L1117.2,217.7L1116.4,220.5L1114.7,222.9L1111.6,222.5L1109.5,223.3L1110.2,225.5L1109.8,228.4L1108.5,228.5L1108.5,229.8M1108.5,229.8L1108.9,230.2M1108.5,229.8L1106.9,228.3L1105.9,229.7L1102.1,230.8L1102.5,232.1L1100.3,232.0L1099.1,231.2L1097.4,233.0L1094.6,234.3L1092.6,235.9M1102.8,239.2L1101.4,240.0L1099.6,240.1L1098.6,241.3L1097.5,241.2L1097.4,241.4M1001.3,212.5L1000.3,212.7M1000.3,212.7L998.4,214.4L996.3,214.6L996.2,217.1L994.8,218.3L989.9,217.4L988.1,221.9L986.8,222.5L981.8,223.5L984.1,227.8L982.4,228.5L982.6,229.9M982.6,229.9L982.2,230.5L978.3,231.8L977.4,232.8L974.2,233.1L973.2,234.7L970.6,234.4L968.9,234.8L966.5,236.0L966.8,236.6L966.1,237.2M966.1,237.2L966.7,239.5L967.6,239.2L969.1,239.8L969.0,240.8L969.4,242.2M904.6,219.8L903.4,219.4L903.6,218.1L902.0,216.4L900.2,216.5L898.1,214.8L899.5,212.9L898.8,212.4L900.8,209.6L903.3,211.1L903.6,209.2L908.8,206.5L912.7,206.5L918.2,208.2L921.2,209.2L923.8,208.2L927.8,208.1L931.0,209.4L931.7,208.7L935.2,208.8L935.9,207.6L931.8,205.9L934.2,204.6L933.7,204.0L936.1,203.3L934.3,201.6L935.5,200.7L944.8,199.9L946.1,199.3L952.3,198.3L954.6,197.3L959.1,197.8L959.9,200.4L962.5,199.8L965.7,200.7L965.5,202.0L967.9,201.9L974.1,199.5L973.2,200.3L976.4,202.3L982.0,208.6L983.3,207.3L986.8,208.7L990.4,208.1L991.8,208.5L993.0,210.0L994.7,210.5L995.8,211.5L999.0,211.2L1000.3,212.7M921.8,232.5L921.7,223.3L928.1,221.8L928.6,222.0L932.5,223.8L934.5,224.7L936.9,227.0L939.9,226.6L944.1,226.4L947.1,228.3L946.9,230.8L948.2,230.8L948.7,232.8L951.9,232.9L952.5,234.1L953.5,234.1L954.6,232.3L957.9,230.6L959.3,230.1M913.1,231.3L914.2,230.5L917.1,230.0L918.8,230.7L920.5,232.6L921.8,232.5M959.3,230.1L959.9,229.0L961.5,228.6L965.6,229.5L966.0,228.0L967.4,227.5L971.0,228.6L971.9,228.3L976.1,228.4L979.8,228.6L981.0,229.5L982.6,229.9M921.8,232.5L924.6,232.5L924.2,231.2L926.4,230.3L928.5,228.9L931.8,230.2L932.1,232.2L933.1,232.7L935.8,232.6L936.6,233.1L937.8,235.6L940.7,237.4L942.3,238.5L944.9,239.8L948.3,240.8L948.2,242.4M951.5,242.9L952.9,240.4L952.3,238.5L950.5,237.9L951.1,236.8L953.2,236.9L954.4,235.5L955.2,233.9L958.6,233.4L958.1,234.5L958.4,235.2L959.4,235.2M959.4,235.2L961.3,235.4L964.6,233.6L961.6,232.3L959.8,232.9L958.0,232.0L960.1,230.3L959.3,230.1M959.4,235.2L958.5,235.9L955.8,235.5L955.5,236.9L958.3,236.8L961.4,237.6L966.1,237.2"/></svg>
<svg class="abs" style="left:1100px;top:136px" width="744" height="372.8" viewBox="1100 136 744 372.8" fill="none" stroke="#338bb8" stroke-width="1.15" stroke-linejoin="round"><path d="M1327.5,474.1L1321.9,475.0L1316.8,474.3L1312.5,467.9L1304.0,463.9L1298.6,457.3L1294.3,458.3L1287.4,460.8L1281.5,460.2L1269.9,454.4L1265.4,454.1L1257.3,453.2L1251.6,455.4L1242.6,453.3L1236.8,450.8L1232.6,453.4L1234.5,459.2L1227.6,462.9L1224.1,466.3L1219.6,468.8L1218.2,463.8L1219.1,455.3L1223.1,451.8L1221.8,449.8L1217.0,455.3L1214.8,461.4L1209.2,468.2L1212.8,472.2L1209.1,478.8L1204.5,482.8L1200.0,485.8L1199.0,489.7L1191.9,494.5L1190.4,498.7L1184.7,502.4L1181.3,501.8L1176.8,504.2L1171.6,507.0L1167.3,509.7L1158.5,511.7L1157.8,510.2L1163.5,506.5L1168.5,504.0L1174.0,499.5L1180.0,498.7L1182.4,495.0L1189.0,489.7L1190.0,487.9L1193.4,484.8L1193.9,478.1L1196.0,472.9L1190.9,475.7L1189.4,474.2L1187.0,477.5L1184.0,473.1L1182.8,476.2L1181.1,471.9L1176.6,475.3L1173.9,475.2L1173.7,470.0L1174.5,466.9L1171.8,463.6L1166.1,465.0L1162.7,460.7L1159.9,458.4L1160.3,453.5L1157.4,449.5L1159.5,444.6L1163.1,440.0L1164.9,435.6L1168.1,435.2L1170.7,436.7L1174.0,432.7L1176.8,433.4L1179.8,430.8L1179.1,426.9L1177.0,425.2L1179.8,421.9L1177.6,422.0L1173.6,423.8L1172.3,425.6L1169.5,423.6L1164.1,424.2L1158.9,421.6L1157.7,418.0L1153.6,413.1L1160.6,408.6L1167.5,405.7L1169.7,410.2L1176.7,410.4L1174.1,405.2L1170.1,401.5L1168.1,397.0L1165.0,393.3L1160.8,389.5L1163.1,385.4L1168.8,385.8L1172.8,381.8L1173.9,377.5L1177.1,374.2L1180.1,373.4L1185.7,369.2L1188.3,369.9L1192.4,364.7L1196.9,367.0L1199.5,370.2L1200.5,368.4L1205.5,368.7L1205.4,370.4L1210.3,371.5L1213.1,370.2L1219.8,371.7L1225.5,371.4L1228.1,371.7L1231.5,369.1L1236.5,370.4L1240.2,371.1L1263.3,449.4L1267.4,448.5L1272.1,449.5L1276.2,452.2L1281.8,456.3L1284.3,450.3L1287.3,446.0L1291.2,449.4L1295.3,451.6L1300.6,453.7L1305.8,458.3L1314.2,465.4L1326.5,471.9ZM1215.7,487.3L1211.3,491.3L1208.7,488.9L1207.6,484.9L1211.5,481.4L1214.0,479.9L1217.0,480.2L1219.2,482.6ZM1155.0,459.1L1158.4,460.2L1158.5,463.5L1155.7,464.7L1153.0,462.7L1150.7,460.1ZM1138.0,426.8L1140.0,428.8L1142.5,428.2L1145.2,431.0L1148.9,432.7L1148.4,433.6L1145.4,435.0L1142.6,432.7L1141.4,430.9L1137.9,430.8L1137.1,430.0ZM1158.0,509.9L1163.6,510.3L1165.7,508.2L1161.8,506.7L1158.2,507.3ZM1142.1,519.8L1148.5,518.7L1150.9,515.5L1146.9,514.2L1142.3,518.0ZM1308.2,473.3L1317.5,478.7L1317.9,474.7L1311.5,470.0L1307.5,467.9ZM1293.2,465.2L1302.6,473.7L1301.7,467.5L1296.1,461.3L1292.9,460.7ZM1291.2,461.3L1289.6,463.8L1299.2,470.4L1298.7,467.8ZM1294.5,457.2L1299.3,458.1L1302.1,463.6L1300.1,466.3L1297.2,462.7ZM1301.3,466.7L1307.0,464.3L1309.2,468.1L1305.4,471.6L1302.2,470.1ZM1315.7,471.0L1320.1,469.9L1321.9,473.9L1319.6,475.9ZM1418.6,501.5L1416.6,503.8L1413.1,501.8L1413.5,497.8L1411.2,492.6L1413.9,484.3L1422.8,488.2L1425.0,490.1L1428.5,495.0L1423.0,499.1ZM1410.8,479.0L1406.4,480.1L1403.9,477.1L1402.2,475.0L1403.5,473.8L1408.3,475.0L1412.0,477.3ZM1389.3,469.5L1388.5,470.4L1382.8,469.7L1380.6,465.8L1384.1,463.8L1385.3,464.8ZM1366.2,460.1L1364.7,461.6L1360.0,458.8L1362.8,456.4L1365.9,456.8ZM1401.5,471.4L1401.1,473.0L1393.7,472.6L1394.8,470.9Z" fill="#fff"/><path d="M1279.3,131.4L1281.1,136.4L1280.0,143.5L1278.8,147.2L1277.5,155.1L1276.5,155.1L1277.7,147.4L1274.9,142.6L1274.1,136.6L1265.7,135.9L1258.6,134.6L1258.3,136.6L1259.6,145.8L1257.6,156.4L1257.0,165.0L1256.7,167.1L1262.7,168.7L1265.1,171.6L1266.7,177.3L1270.1,180.0L1279.5,180.4L1284.2,182.6L1289.3,182.8L1298.9,182.1L1305.0,182.3L1325.6,186.7L1325.5,180.7L1333.1,144.1L1279.3,131.4Z" fill="#c49c94"/><path d="M1238.3,225.4L1237.4,232.7L1234.5,241.0L1229.9,247.1L1231.9,254.0L1233.0,260.4L1231.5,269.9L1234.1,277.4L1236.6,283.4L1240.2,289.7L1238.9,294.6L1239.6,300.9L1243.3,304.9L1241.5,309.7L1244.6,318.8L1249.8,329.1L1250.5,336.1L1249.9,341.2L1257.5,345.0L1264.2,350.6L1269.0,353.6L1272.7,356.2L1272.8,358.8L1278.2,361.9L1282.9,368.9L1284.2,379.0L1313.4,381.9L1316.8,378.3L1314.6,376.4L1317.7,371.0L1319.0,365.4L1324.0,361.0L1321.7,356.9L1320.3,349.2L1271.8,279.4L1281.8,236.7L1238.3,225.4Z" fill="#d62728"/><path d="M1765.0,187.4L1751.5,191.0L1749.8,191.9L1744.8,197.2L1741.7,203.3L1738.3,207.2L1739.5,210.9L1740.5,210.9L1741.6,215.4L1738.7,217.0L1734.5,221.0L1728.1,222.5L1723.8,221.8L1716.4,223.8L1713.0,225.7L1714.1,228.3L1716.1,230.7L1714.9,233.8L1712.3,237.3L1708.6,241.3L1709.4,245.2L1755.5,235.1L1759.2,237.6L1764.6,242.5L1774.3,245.5L1774.1,250.0L1775.3,251.5L1782.0,249.2L1788.7,244.6L1795.3,238.7L1790.6,239.5L1788.0,242.1L1782.8,243.9L1776.4,247.2L1776.9,244.8L1776.0,243.5L1777.9,241.5L1774.5,229.5L1774.5,218.9L1770.1,206.5L1766.4,194.7L1765.0,187.4Z" fill="#aec7e8"/><path d="M1764.6,242.5L1774.3,245.5L1774.1,250.0L1773.0,253.6L1775.4,253.5L1776.3,260.0L1775.6,266.3L1773.1,272.2L1770.5,277.7L1770.2,274.4L1765.6,274.1L1762.5,271.0L1762.4,266.5L1765.5,264.3L1768.1,259.1L1761.8,253.9L1761.8,249.4L1764.6,242.5Z" fill="#1f77b4"/><path d="M1768.5,314.0L1765.8,309.0L1762.4,309.5L1760.4,306.1L1760.4,300.9L1758.7,296.0L1759.1,295.2L1750.9,292.5L1746.6,291.3L1748.2,284.9L1746.9,283.2L1742.2,281.7L1739.1,279.1L1738.5,282.1L1732.0,279.4L1728.2,289.6L1720.1,293.8L1717.9,303.2L1715.9,311.0L1706.5,316.4L1697.1,313.8L1690.0,322.2L1679.9,330.5L1702.7,326.9L1768.5,314.0ZM1766.2,293.5L1765.2,299.0L1764.7,304.4L1765.7,306.1L1767.2,300.0L1769.1,293.5L1770.3,291.3L1766.2,293.5Z" fill="#ff7f0e"/><path d="M1768.5,314.0L1702.7,326.9L1700.3,334.6L1693.6,337.2L1688.5,341.8L1678.8,348.4L1676.0,354.9L1690.1,352.6L1697.9,348.4L1713.7,346.4L1715.1,346.9L1717.6,350.6L1730.6,348.4L1746.3,359.3L1753.2,357.2L1754.0,352.6L1758.8,346.3L1765.8,342.5L1768.4,338.1L1765.1,336.6L1766.0,332.7L1772.0,332.8L1776.6,331.7L1775.4,324.4L1771.4,320.1L1766.3,321.3L1767.9,317.9L1768.5,314.0Z" fill="#aec7e8"/><path d="M1279.3,131.4L1281.1,136.4L1280.0,143.5L1278.8,147.2L1277.5,155.1L1276.5,155.1L1277.7,147.4L1274.9,142.6L1274.1,136.6L1265.7,135.9L1258.6,134.6L1258.3,136.6L1259.6,145.8L1257.6,156.4L1257.0,165.0L1256.7,167.1M1277.0,137.9L1278.2,138.6L1278.2,143.8L1277.4,143.9L1277.0,137.9M1256.7,167.1L1255.4,174.2L1252.2,183.9L1248.8,192.0L1246.0,200.3L1241.3,207.3L1238.1,212.6L1238.4,219.4L1238.3,225.4M1238.3,225.4L1237.4,232.7L1234.5,241.0L1229.9,247.1L1231.9,254.0L1233.0,260.4L1231.5,269.9L1234.1,277.4L1236.6,283.4L1240.2,289.7L1238.9,294.6L1239.6,300.9L1243.3,304.9L1241.5,309.7L1244.6,318.8L1249.8,329.1L1250.5,336.1L1249.9,341.2L1257.5,345.0L1264.2,350.6L1269.0,353.6L1272.7,356.2L1272.8,358.8L1278.2,361.9L1282.9,368.9L1284.2,379.0M1284.2,379.0L1313.4,381.9M1313.4,381.9L1311.7,384.8L1354.4,408.9L1379.1,412.0M1379.1,412.0L1389.5,413.2L1390.2,406.7L1410.7,408.7M1410.7,408.7L1415.0,414.6L1420.9,419.8L1427.7,426.7L1431.3,434.6L1433.8,442.8L1440.1,447.5L1450.4,452.5L1458.9,441.4L1469.2,441.6L1477.9,447.7L1483.9,457.7L1488.2,466.4L1495.7,474.8L1498.4,484.9L1501.9,491.7L1512.1,496.2L1526.6,498.9M1526.6,498.9L1523.2,489.9L1523.1,479.8L1525.6,472.6L1530.1,466.7L1535.1,462.3L1542.1,458.6L1549.0,454.8L1553.9,449.5L1556.3,444.4L1560.7,445.0L1567.7,442.5M1567.7,442.5L1575.7,441.0L1583.4,443.4L1589.7,442.8L1592.9,444.0L1597.3,443.7L1600.1,446.5L1605.3,449.0L1611.6,448.5L1614.7,447.5L1617.7,445.1L1623.7,448.2L1626.8,447.2L1624.5,443.0L1619.8,439.8L1622.6,435.9L1619.3,434.0L1616.8,434.2L1617.2,432.0L1620.4,432.0M1620.4,432.0L1624.0,429.9L1629.4,428.0L1635.1,427.9M1635.1,427.9L1638.8,427.8L1639.0,423.4L1640.9,423.9L1641.5,428.9L1646.1,428.0M1646.1,428.0L1650.0,426.5L1658.6,424.8L1665.0,425.7L1669.7,427.8L1674.2,433.0L1678.7,433.6L1684.4,428.7L1687.8,425.6L1690.9,425.6L1695.9,429.2L1701.9,434.9L1707.4,437.2L1709.8,443.9L1709.8,452.0L1712.8,454.4L1715.4,458.4L1712.3,459.6L1718.1,466.7L1722.9,471.7L1727.2,477.6L1733.8,480.8L1738.3,487.3L1741.3,488.9L1747.1,487.1L1749.0,479.5L1749.3,470.6L1747.8,462.8L1742.3,454.4L1737.5,446.4L1736.3,440.0L1731.3,433.6L1725.0,423.7L1721.9,416.8L1720.2,411.2M1720.2,411.2L1719.6,403.9L1721.5,397.0L1723.9,390.9M1723.9,390.9L1728.1,385.4L1733.1,379.2L1739.1,372.1L1740.6,367.3L1742.8,363.1L1746.3,359.3M1746.3,359.3L1753.2,357.2L1754.0,352.6L1758.8,346.3L1765.8,342.5L1768.4,338.1L1765.1,336.6L1766.0,332.7L1772.0,332.8L1776.6,331.7L1775.4,324.4L1771.4,320.1L1766.3,321.3L1767.9,317.9L1768.5,314.0M1768.5,314.0L1765.8,309.0L1762.4,309.5L1760.4,306.1L1760.4,300.9L1758.7,296.0L1759.1,295.2M1759.1,295.2L1756.8,290.4L1754.4,285.0L1753.8,279.9L1754.0,276.0L1756.4,271.7M1756.4,271.7L1757.6,276.7L1756.4,281.5L1758.2,286.4L1761.9,290.0L1764.0,294.0L1766.2,293.5M1766.2,293.5L1765.2,299.0L1764.7,304.4L1765.7,306.1M1765.7,306.1L1767.2,300.0L1769.1,293.5L1770.3,291.3M1766.2,293.5L1770.3,291.3M1770.3,291.3L1771.1,284.8M1771.1,284.8L1769.5,279.9L1766.4,277.6L1764.3,273.6L1761.7,269.7L1762.4,266.5M1762.4,266.5L1762.5,271.0L1765.6,274.1L1770.2,274.4L1770.5,277.7L1773.1,272.2L1775.6,266.3L1776.3,260.0L1775.4,253.5L1773.0,253.6L1774.1,250.0M1774.1,250.0L1775.3,251.5L1782.0,249.2L1788.7,244.6L1795.3,238.7L1790.6,239.5L1788.0,242.1L1782.8,243.9L1776.4,247.2L1776.9,244.8M1776.9,244.8L1782.0,240.8L1787.9,237.7L1794.5,235.1M1794.5,235.1L1797.9,233.4L1797.8,229.2L1799.4,228.7L1800.6,231.1L1801.3,230.4M1801.3,230.4L1803.0,229.6L1806.0,228.3L1808.0,227.7L1812.7,224.5L1811.5,220.5L1808.4,219.5L1811.1,222.9L1806.6,224.6L1803.9,221.3L1800.3,218.5L1799.8,214.9L1801.9,212.7L1799.0,210.3M1799.0,210.3L1799.2,207.2M1799.2,207.2L1800.8,201.6L1801.8,197.6L1805.2,194.3L1809.3,189.9L1811.4,186.2L1812.2,182.1L1816.1,184.0L1819.4,180.6L1822.8,177.9L1827.0,174.2L1828.6,171.2M1828.6,171.2L1825.3,167.3L1821.7,166.4L1820.9,163.3L1816.5,161.7L1810.3,142.8L1804.9,140.4L1799.3,144.7L1797.4,143.5L1795.1,142.0L1791.0,154.5L1791.6,158.6L1790.8,162.9L1791.4,166.5L1788.6,174.9L1788.8,177.3L1786.3,177.1M1786.3,177.1L1783.3,178.7L1783.3,182.4M1783.3,182.4L1765.0,187.4M1765.0,187.4L1751.5,191.0L1749.8,191.9L1744.8,197.2L1741.7,203.3L1738.3,207.2L1739.5,210.9L1740.5,210.9L1741.6,215.4L1738.7,217.0L1734.5,221.0L1728.1,222.5L1723.8,221.8L1716.4,223.8L1713.0,225.7L1714.1,228.3L1716.1,230.7L1714.9,233.8L1712.3,237.3L1708.6,241.3M1708.6,241.3L1705.6,243.7L1701.5,247.0M1701.5,247.0L1698.8,248.6L1694.0,251.6L1690.2,256.1L1685.2,257.4L1683.4,258.5L1679.7,258.6L1679.3,257.4L1677.0,258.0L1676.2,257.0L1671.0,256.4L1671.1,255.8M1671.1,255.8L1671.8,253.2L1673.6,250.0L1674.0,246.7L1675.6,245.5L1676.7,243.6L1678.8,241.4L1678.7,239.5L1679.0,236.1L1676.7,229.8L1674.7,223.9L1671.0,221.3L1668.0,223.5L1665.4,229.1L1662.2,229.1L1661.6,225.2L1664.4,222.6L1665.5,219.5L1666.5,217.1L1665.7,210.6L1663.9,207.8L1662.8,204.0L1659.2,203.3L1652.1,200.9L1649.3,199.4L1646.3,201.9L1647.8,205.6L1644.8,206.8L1644.4,213.0L1643.2,212.0L1642.2,215.2L1641.6,209.1L1637.4,213.9L1636.2,218.0L1635.9,223.6L1634.4,226.6L1635.1,228.1L1634.8,232.5L1637.6,238.4L1639.8,244.7L1639.8,250.3L1638.1,254.9L1635.1,260.3M1635.1,260.3L1634.0,261.0L1630.8,262.7L1627.8,261.9M1627.8,261.9L1626.4,259.5L1623.8,253.6L1623.5,250.9M1623.5,250.9L1623.4,247.4L1621.6,243.1L1621.3,238.0L1622.6,232.5L1622.6,227.4L1623.6,222.1L1624.6,217.6L1626.7,213.0L1627.6,209.2L1624.0,211.8L1621.0,217.3L1618.3,221.2L1620.2,215.2L1621.5,212.8M1621.5,212.8L1623.9,206.7L1626.0,202.8L1629.4,201.0L1630.1,202.8L1631.3,204.4L1633.7,199.0L1641.4,196.0L1646.1,196.6L1649.2,198.1L1652.7,196.0L1657.2,195.5L1661.2,195.2L1661.5,193.7L1656.5,194.4L1654.6,191.8L1651.6,188.6L1649.2,189.6L1645.1,189.5L1645.1,185.5L1635.1,188.2L1628.9,192.7L1626.8,192.5L1621.4,191.7L1617.7,187.7L1615.7,187.2L1610.5,190.0L1610.2,187.8L1612.4,184.7L1614.5,180.8L1616.3,179.2L1612.4,179.5L1609.2,182.1L1605.5,185.4L1601.8,189.0L1595.1,192.1L1591.1,194.3M1591.1,194.3L1586.3,194.3L1587.4,189.1L1583.0,190.9L1575.2,193.6M1575.2,193.6L1574.1,192.5L1578.2,188.7L1581.9,184.6L1590.6,177.3L1597.4,173.1M1597.4,173.1L1592.4,172.1L1585.5,171.2L1579.8,173.5L1573.7,170.6L1568.8,169.0L1564.2,166.5L1559.0,167.9L1555.5,166.8L1548.0,165.5L1547.4,163.5L1545.8,157.5L1544.5,156.7L1542.6,156.5L1542.8,161.9L1522.7,162.3M1522.7,162.3L1457.0,160.5M1457.0,160.5L1342.4,145.9M1342.4,145.9L1333.1,144.1M1333.1,144.1L1279.3,131.4M1601.5,174.9L1607.9,169.9L1608.9,169.4L1603.4,174.0L1601.5,174.9M1256.7,167.1L1262.7,168.7L1265.1,171.6L1266.7,177.3L1270.1,180.0L1279.5,180.4L1284.2,182.6L1289.3,182.8L1298.9,182.1L1305.0,182.3L1325.6,186.7M1333.1,144.1L1325.5,180.7L1325.6,186.7M1325.6,186.7L1326.4,189.8L1327.8,194.5L1325.2,199.9L1322.3,203.8L1318.1,208.9L1319.6,212.1L1318.3,217.1L1312.9,243.5M1238.3,225.4L1281.8,236.7M1281.8,236.7L1312.9,243.5M1312.9,243.5L1344.4,249.4M1344.4,249.4L1376.0,254.3M1281.8,236.7L1271.8,279.4L1320.3,349.2M1320.3,349.2L1321.7,356.9L1324.0,361.0L1319.0,365.4L1317.7,371.0L1314.6,376.4L1316.8,378.3L1313.4,381.9M1320.3,349.2L1322.2,340.7L1321.7,333.1L1326.9,334.0L1330.1,333.1L1332.1,321.6M1332.1,321.6L1344.4,249.4M1332.1,321.6L1388.8,329.7M1388.8,329.7L1379.1,412.0M1388.8,329.7L1395.6,271.5M1376.0,254.3L1374.0,268.7L1395.6,271.5M1376.0,254.3L1380.9,218.6M1342.4,145.9L1339.6,160.0L1341.7,167.7L1347.2,176.1L1349.4,180.9L1352.7,182.2L1348.5,197.6L1353.7,197.0L1357.8,206.6L1361.1,215.2L1368.3,215.6L1376.5,216.8L1380.9,218.6M1380.9,218.6L1382.0,210.9L1453.3,218.1M1457.0,160.5L1454.2,204.5M1454.2,204.5L1453.3,218.1M1453.3,218.1L1451.5,247.2M1451.5,247.2L1449.6,276.4M1395.6,271.5L1449.6,276.4M1449.6,276.4L1471.3,277.5L1470.7,292.1M1470.7,292.1L1468.9,336.1M1388.8,329.7L1457.9,335.5M1457.9,335.5L1468.9,336.1M1457.9,335.5L1457.6,342.9M1457.6,342.9L1453.4,408.5L1409.9,405.4L1410.7,408.7M1457.6,342.9L1492.2,344.1L1491.6,372.5L1495.1,374.9L1501.0,376.5L1508.2,378.8L1514.1,379.5L1518.9,381.7L1524.9,384.6L1532.0,383.0L1541.6,382.9L1548.7,381.2L1557.5,385.5M1468.9,336.1L1554.1,336.4M1454.2,204.5L1529.9,206.5M1451.5,247.2L1510.0,249.2L1516.4,252.2L1522.7,251.4L1529.1,255.0L1531.8,256.5M1470.7,292.1L1544.9,292.7M1522.7,162.3L1523.6,173.8L1526.6,182.4L1527.2,192.5L1529.4,201.2L1529.9,206.5M1529.9,206.5L1527.0,211.3L1531.1,215.6L1531.5,241.8M1531.5,241.8L1530.1,251.3L1531.8,256.5M1531.5,241.8L1586.3,239.4M1531.8,256.5L1532.9,260.8L1535.7,268.0L1538.6,275.3L1539.7,284.3M1539.7,284.3L1544.9,292.7M1539.7,284.3L1583.7,281.9L1587.3,285.0M1544.9,292.7L1547.3,294.8L1549.7,301.3L1553.1,305.3L1554.1,336.4M1554.1,336.4L1554.3,343.7M1554.3,343.7L1557.1,359.7L1557.5,385.5M1557.5,385.5L1562.8,386.6L1563.2,394.3M1563.2,394.3L1563.8,409.3L1567.0,414.9L1570.3,420.8L1568.9,429.3L1568.4,433.7L1567.7,442.5M1563.2,394.3L1597.8,392.6M1554.3,343.7L1605.9,340.6L1604.0,348.1L1611.7,347.5M1575.2,193.6L1572.3,194.3L1572.8,202.9L1567.9,207.1L1568.8,214.3L1568.8,222.3L1574.2,226.3L1578.5,229.7L1585.1,234.4L1586.3,239.4M1586.3,239.4L1588.3,250.2L1593.4,253.4M1593.4,253.4L1623.5,250.9M1591.1,194.3L1604.8,199.2L1615.2,201.8L1618.5,208.8L1621.5,212.8M1593.4,253.4L1598.6,259.0L1599.5,263.3L1597.7,267.1L1590.3,269.9L1590.3,277.9L1587.3,285.0M1587.3,285.0L1586.8,290.7L1588.8,294.9L1596.1,301.0L1599.0,305.2L1602.7,306.1L1603.0,309.6L1601.6,316.0L1607.0,320.0L1612.3,328.3L1617.0,332.6M1617.0,332.6L1616.7,338.2L1614.5,339.9M1614.5,339.9L1612.6,344.5L1611.7,347.5M1611.7,347.5L1608.8,354.4L1608.2,361.0L1606.0,362.7M1606.0,362.7L1602.9,368.8L1599.9,376.3L1598.0,383.8L1597.8,392.6M1597.8,392.6L1599.2,399.8L1601.8,402.6L1596.5,413.2L1594.2,422.1L1617.7,420.3L1617.4,426.2L1620.4,432.0M1627.8,261.9L1631.4,296.2L1632.5,305.7L1629.0,312.0L1628.3,319.4M1617.0,332.6L1619.3,329.1L1624.6,330.1L1628.0,323.9L1628.3,319.4M1628.3,319.4L1635.2,316.4L1641.9,315.2L1647.2,312.1L1653.1,309.5L1656.1,302.4L1661.8,296.1M1661.8,296.1L1656.8,258.4M1635.1,260.3L1656.8,258.4M1656.8,258.4L1671.1,255.8M1661.8,296.1L1665.4,295.6L1667.9,297.5L1675.2,300.8L1683.8,298.0L1688.0,302.2M1688.0,302.2L1691.9,298.9L1695.7,290.8L1700.9,285.4L1703.6,279.7L1705.0,270.6L1705.0,266.2M1705.0,266.2L1701.5,247.0M1705.0,266.2L1707.5,279.5L1718.8,277.3M1718.8,277.3L1758.7,268.6M1758.7,268.6L1760.3,266.6L1762.4,266.5M1758.7,268.6L1764.0,286.5L1771.1,284.8M1718.8,277.3L1720.3,284.8L1726.5,277.6L1732.9,275.5L1739.1,279.1M1688.0,302.2L1688.5,305.8L1693.0,312.1L1697.1,313.8M1697.1,313.8L1690.0,322.2L1679.9,330.5M1679.9,330.5L1647.6,334.2L1629.6,335.8L1629.8,338.4L1614.5,339.9M1697.1,313.8L1706.5,316.4L1715.9,311.0L1717.9,303.2L1720.1,293.8L1728.2,289.6L1732.0,279.4L1738.5,282.1L1739.1,279.1M1739.1,279.1L1742.2,281.7L1746.9,283.2L1748.2,284.9L1746.6,291.3L1750.9,292.5L1759.1,295.2M1768.5,314.0L1702.7,326.9M1702.7,326.9L1679.9,330.5M1702.7,326.9L1700.3,334.6L1693.6,337.2L1688.5,341.8L1678.8,348.4L1676.0,354.9M1676.0,354.9L1690.1,352.6M1690.1,352.6L1697.9,348.4L1713.7,346.4L1715.1,346.9L1717.6,350.6L1730.6,348.4L1746.3,359.3M1690.1,352.6L1688.0,357.4L1693.7,359.7L1698.4,366.1L1707.3,372.5L1713.8,378.3L1717.4,384.4L1720.7,390.4L1723.9,390.9M1676.0,354.9L1661.1,357.1M1661.1,357.1L1630.6,360.4M1630.6,360.4L1606.0,362.7M1661.1,357.1L1670.1,387.0L1673.4,395.0L1674.3,405.9L1676.0,413.7M1676.0,413.7L1678.3,417.7L1711.4,414.7L1713.7,417.2L1713.7,413.8L1713.9,410.8L1720.2,411.2M1676.0,413.7L1644.0,417.7L1644.2,419.9L1647.0,422.5L1646.1,428.0M1630.6,360.4L1631.9,361.7L1632.0,405.8L1635.1,427.9M1708.6,241.3L1709.4,245.2L1755.5,235.1L1759.2,237.6L1764.6,242.5M1764.6,242.5L1774.3,245.5L1774.1,250.0M1764.6,242.5L1761.8,249.4L1761.8,253.9L1768.1,259.1L1765.5,264.3L1762.4,266.5M1765.0,187.4L1766.4,194.7L1770.1,206.5L1774.5,218.9M1774.5,218.9L1774.5,229.5M1774.5,229.5L1777.9,241.5L1776.0,243.5L1776.9,244.8M1783.3,182.4L1784.4,189.8L1781.4,196.6L1780.9,204.4L1781.7,213.2L1782.7,217.0M1774.5,218.9L1782.7,217.0M1782.7,217.0L1794.6,214.1L1799.0,210.3M1786.3,177.1L1795.0,203.4L1799.2,207.2M1774.5,229.5L1792.2,225.1M1792.2,225.1L1796.5,223.9L1799.9,228.6L1801.3,230.4M1792.2,225.1L1794.6,233.6L1794.5,235.1"/></svg>
<div class="abs" style="left:1116px;top:533px;width:24px;height:24px;border-radius:3px;background:#1f77b4"></div>
<div class="t " style="left:1144.00px;top:537.50px;font-size:14.30px;color:#444;font-weight:bold;">Chrome</div>
<div class="abs" style="left:1219px;top:533px;width:24px;height:24px;border-radius:3px;background:#aec7e8"></div>
<div class="t " style="left:1247.00px;top:537.50px;font-size:14.30px;color:#444;font-weight:bold;">Other</div>
<div class="abs" style="left:1306px;top:533px;width:24px;height:24px;border-radius:3px;background:#ff7f0e"></div>
<div class="t " style="left:1334.00px;top:537.50px;font-size:14.30px;color:#444;font-weight:bold;">Firefox</div>
<div class="abs" style="left:1403px;top:533px;width:24px;height:24px;border-radius:3px;background:#ffbb78"></div>
<div class="t " style="left:1431.00px;top:537.50px;font-size:14.30px;color:#444;font-weight:bold;">IE</div>
<div class="abs" style="left:1465px;top:533px;width:24px;height:24px;border-radius:3px;background:#d62728"></div>
<div class="t " style="left:1493.00px;top:537.50px;font-size:14.30px;color:#444;font-weight:bold;">Googlebot</div>
<div class="abs" style="left:1586px;top:533px;width:24px;height:24px;border-radius:3px;background:#c49c94"></div>
<div class="t " style="left:1614.00px;top:537.50px;font-size:14.30px;color:#444;font-weight:bold;">bingbot</div>
<div class="t " style="left:329.00px;top:584.50px;font-size:14.30px;color:#555;font-weight:bold;">Grid Results</div>
<div class="hr" style="left:326px;top:606px;width:1502px"></div>
<div class="abs" style="left:332px;top:613px;width:250px;height:295px;background:#f6f6f6"></div>
<div class="abs" style="left:338px;top:619px;width:188px;height:37px;background:#fff;border:1px solid #ccc;border-radius:2px;box-shadow:inset 0 1px 2px rgba(0,0,0,.09)"></div>
<div class="t " style="left:348.00px;top:630.50px;font-size:14.90px;color:#999;font-weight:normal;letter-spacing:0">Filter fields</div>
<svg class="ic" style="left:565.50px;top:621.50px" width="11.00" height="15.40" viewBox="0 -1536 1280 1792" ><path fill="#338bb8" transform="scale(1,-1)" d="M1171 1235l-531 -531l531 -531q19 -19 19 -45t-19 -45l-166 -166q-19 -19 -45 -19t-45 19l-742 742q-19 19 -19 45t19 45l742 742q19 19 45 19t45 -19l166 -166q19 -19 19 -45t-19 -45z"/></svg>
<div class="t" style="left:338px;top:672px;font-size:15.4px;color:#444;letter-spacing:0"><span style="color:#338bb8;font-weight:bold">All (28)</span> / <span style="color:#338bb8">Current (5)</span></div>
<div class="abs" style="left:338px;top:702px;width:23px;height:26px;background:#4a4648;border-radius:3px"></div>
<div class="abs" style="left:345px;top:708.3px;width:10px;height:9.6px;border:1.3px solid #fff;border-radius:2px"></div>
<div class="t " style="left:368.00px;top:706.00px;font-size:15.40px;color:#333;font-weight:bold;">Field Name</div>
<div class="abs" style="left:338px;top:733px;width:238px;height:1px;background:#c4c4c4"></div>
<div class="abs" style="left:344px;top:741.0px;width:12px;height:12px;border-radius:2.5px;background:#fff;border:1px solid #aaa6a0"></div>
<div class="t " style="left:363.50px;top:737.90px;font-size:15.40px;color:#333;font-weight:normal;">_version_</div>
<svg class="ic" style="left:559.50px;top:737.60px" width="13.20" height="15.40" viewBox="0 -1536 1536 1792" ><path fill="#999" transform="scale(1,-1)" d="M896 160v192q0 14 -9 23t-23 9h-192q-14 0 -23 -9t-9 -23v-192q0 -14 9 -23t23 -9h192q14 0 23 9t9 23zM1152 832q0 88 -55.5 163t-138.5 116t-170 41q-243 0 -371 -213q-15 -24 8 -42l132 -100q7 -6 19 -6q16 0 25 12q53 68 86 92q34 24 86 24q48 0 85.5 -26t37.5 -59 q0 -38 -20 -61t-68 -45q-63 -28 -115.5 -86.5t-52.5 -125.5v-36q0 -14 9 -23t23 -9h192q14 0 23 9t9 23q0 19 21.5 49.5t54.5 49.5q32 18 49 28.5t46 35t44.5 48t28 60.5t12.5 81zM1536 640q0 -209 -103 -385.5t-279.5 -279.5t-385.5 -103t-385.5 103t-279.5 279.5 t-103 385.5t103 385.5t279.5 279.5t385.5 103t385.5 -103t279.5 -279.5t103 -385.5z"/></svg>
<div class="abs" style="left:344px;top:768.6px;width:12px;height:12px;border-radius:2.5px;background:linear-gradient(#f68f64,#ee7746);border:1px solid #d9602f"></div>
<svg class="abs" style="left:343px;top:766.0px" width="16" height="16" viewBox="0 0 16 16"><path d="M3.3 8.7 L6.9 12.0 L14.7 3.3" fill="none" stroke="#7a3e27" stroke-width="1.9" stroke-linejoin="miter"/></svg>
<div class="t " style="left:363.50px;top:765.50px;font-size:15.40px;color:#333;font-weight:normal;">app</div>
<svg class="ic" style="left:559.50px;top:765.20px" width="13.20" height="15.40" viewBox="0 -1536 1536 1792" ><path fill="#999" transform="scale(1,-1)" d="M896 160v192q0 14 -9 23t-23 9h-192q-14 0 -23 -9t-9 -23v-192q0 -14 9 -23t23 -9h192q14 0 23 9t9 23zM1152 832q0 88 -55.5 163t-138.5 116t-170 41q-243 0 -371 -213q-15 -24 8 -42l132 -100q7 -6 19 -6q16 0 25 12q53 68 86 92q34 24 86 24q48 0 85.5 -26t37.5 -59 q0 -38 -20 -61t-68 -45q-63 -28 -115.5 -86.5t-52.5 -125.5v-36q0 -14 9 -23t23 -9h192q14 0 23 9t9 23q0 19 21.5 49.5t54.5 49.5q32 18 49 28.5t46 35t44.5 48t28 60.5t12.5 81zM1536 640q0 -209 -103 -385.5t-279.5 -279.5t-385.5 -103t-385.5 103t-279.5 279.5 t-103 385.5t103 385.5t279.5 279.5t385.5 103t385.5 -103t279.5 -279.5t103 -385.5z"/></svg>
<div class="abs" style="left:344px;top:796.2px;width:12px;height:12px;border-radius:2.5px;background:linear-gradient(#f68f64,#ee7746);border:1px solid #d9602f"></div>
<svg class="abs" style="left:343px;top:793.6px" width="16" height="16" viewBox="0 0 16 16"><path d="M3.3 8.7 L6.9 12.0 L14.7 3.3" fill="none" stroke="#7a3e27" stroke-width="1.9" stroke-linejoin="miter"/></svg>
<div class="t " style="left:363.50px;top:793.10px;font-size:15.40px;color:#333;font-weight:normal;">bytes</div>
<svg class="ic" style="left:559.50px;top:792.80px" width="13.20" height="15.40" viewBox="0 -1536 1536 1792" ><path fill="#999" transform="scale(1,-1)" d="M896 160v192q0 14 -9 23t-23 9h-192q-14 0 -23 -9t-9 -23v-192q0 -14 9 -23t23 -9h192q14 0 23 9t9 23zM1152 832q0 88 -55.5 163t-138.5 116t-170 41q-243 0 -371 -213q-15 -24 8 -42l132 -100q7 -6 19 -6q16 0 25 12q53 68 86 92q34 24 86 24q48 0 85.5 -26t37.5 -59 q0 -38 -20 -61t-68 -45q-63 -28 -115.5 -86.5t-52.5 -125.5v-36q0 -14 9 -23t23 -9h192q14 0 23 9t9 23q0 19 21.5 49.5t54.5 49.5q32 18 49 28.5t46 35t44.5 48t28 60.5t12.5 81zM1536 640q0 -209 -103 -385.5t-279.5 -279.5t-385.5 -103t-385.5 103t-279.5 279.5 t-103 385.5t103 385.5t279.5 279.5t385.5 103t385.5 -103t279.5 -279.5t103 -385.5z"/></svg>
<div class="abs" style="left:344px;top:823.8px;width:12px;height:12px;border-radius:2.5px;background:#fff;border:1px solid #aaa6a0"></div>
<div class="t " style="left:363.50px;top:820.70px;font-size:15.40px;color:#333;font-weight:normal;">city</div>
<svg class="ic" style="left:559.50px;top:820.40px" width="13.20" height="15.40" viewBox="0 -1536 1536 1792" ><path fill="#999" transform="scale(1,-1)" d="M896 160v192q0 14 -9 23t-23 9h-192q-14 0 -23 -9t-9 -23v-192q0 -14 9 -23t23 -9h192q14 0 23 9t9 23zM1152 832q0 88 -55.5 163t-138.5 116t-170 41q-243 0 -371 -213q-15 -24 8 -42l132 -100q7 -6 19 -6q16 0 25 12q53 68 86 92q34 24 86 24q48 0 85.5 -26t37.5 -59 q0 -38 -20 -61t-68 -45q-63 -28 -115.5 -86.5t-52.5 -125.5v-36q0 -14 9 -23t23 -9h192q14 0 23 9t9 23q0 19 21.5 49.5t54.5 49.5q32 18 49 28.5t46 35t44.5 48t28 60.5t12.5 81zM1536 640q0 -209 -103 -385.5t-279.5 -279.5t-385.5 -103t-385.5 103t-279.5 279.5 t-103 385.5t103 385.5t279.5 279.5t385.5 103t385.5 -103t279.5 -279.5t103 -385.5z"/></svg>
<div class="abs" style="left:344px;top:851.4px;width:12px;height:12px;border-radius:2.5px;background:#fff;border:1px solid #aaa6a0"></div>
<div class="t " style="left:363.50px;top:848.30px;font-size:15.40px;color:#333;font-weight:normal;">client_ip</div>
<svg class="ic" style="left:559.50px;top:848.00px" width="13.20" height="15.40" viewBox="0 -1536 1536 1792" ><path fill="#999" transform="scale(1,-1)" d="M896 160v192q0 14 -9 23t-23 9h-192q-14 0 -23 -9t-9 -23v-192q0 -14 9 -23t23 -9h192q14 0 23 9t9 23zM1152 832q0 88 -55.5 163t-138.5 116t-170 41q-243 0 -371 -213q-15 -24 8 -42l132 -100q7 -6 19 -6q16 0 25 12q53 68 86 92q34 24 86 24q48 0 85.5 -26t37.5 -59 q0 -38 -20 -61t-68 -45q-63 -28 -115.5 -86.5t-52.5 -125.5v-36q0 -14 9 -23t23 -9h192q14 0 23 9t9 23q0 19 21.5 49.5t54.5 49.5q32 18 49 28.5t46 35t44.5 48t28 60.5t12.5 81zM1536 640q0 -209 -103 -385.5t-279.5 -279.5t-385.5 -103t-385.5 103t-279.5 279.5 t-103 385.5t103 385.5t279.5 279.5t385.5 103t385.5 -103t279.5 -279.5t103 -385.5z"/></svg>
<div class="abs" style="left:344px;top:879.0px;width:12px;height:12px;border-radius:2.5px;background:linear-gradient(#f68f64,#ee7746);border:1px solid #d9602f"></div>
<svg class="abs" style="left:343px;top:876.4px" width="16" height="16" viewBox="0 0 16 16"><path d="M3.3 8.7 L6.9 12.0 L14.7 3.3" fill="none" stroke="#7a3e27" stroke-width="1.9" stroke-linejoin="miter"/></svg>
<div class="t " style="left:363.50px;top:875.90px;font-size:15.40px;color:#333;font-weight:normal;">code</div>
<svg class="ic" style="left:559.50px;top:875.60px" width="13.20" height="15.40" viewBox="0 -1536 1536 1792" ><path fill="#999" transform="scale(1,-1)" d="M896 160v192q0 14 -9 23t-23 9h-192q-14 0 -23 -9t-9 -23v-192q0 -14 9 -23t23 -9h192q14 0 23 9t9 23zM1152 832q0 88 -55.5 163t-138.5 116t-170 41q-243 0 -371 -213q-15 -24 8 -42l132 -100q7 -6 19 -6q16 0 25 12q53 68 86 92q34 24 86 24q48 0 85.5 -26t37.5 -59 q0 -38 -20 -61t-68 -45q-63 -28 -115.5 -86.5t-52.5 -125.5v-36q0 -14 9 -23t23 -9h192q14 0 23 9t9 23q0 19 21.5 49.5t54.5 49.5q32 18 49 28.5t46 35t44.5 48t28 60.5t12.5 81zM1536 640q0 -209 -103 -385.5t-279.5 -279.5t-385.5 -103t-385.5 103t-279.5 279.5 t-103 385.5t103 385.5t279.5 279.5t385.5 103t385.5 -103t279.5 -279.5t103 -385.5z"/></svg>
<svg class="ic" style="left:559.50px;top:903.20px" width="13.20" height="15.40" viewBox="0 -1536 1536 1792" ><path fill="#999" transform="scale(1,-1)" d="M896 160v192q0 14 -9 23t-23 9h-192q-14 0 -23 -9t-9 -23v-192q0 -14 9 -23t23 -9h192q14 0 23 9t9 23zM1152 832q0 88 -55.5 163t-138.5 116t-170 41q-243 0 -371 -213q-15 -24 8 -42l132 -100q7 -6 19 -6q16 0 25 12q53 68 86 92q34 24 86 24q48 0 85.5 -26t37.5 -59 q0 -38 -20 -61t-68 -45q-63 -28 -115.5 -86.5t-52.5 -125.5v-36q0 -14 9 -23t23 -9h192q14 0 23 9t9 23q0 19 21.5 49.5t54.5 49.5q32 18 49 28.5t46 35t44.5 48t28 60.5t12.5 81zM1536 640q0 -209 -103 -385.5t-279.5 -279.5t-385.5 -103t-385.5 103t-279.5 279.5 t-103 385.5t103 385.5t279.5 279.5t385.5 103t385.5 -103t279.5 -279.5t103 -385.5z"/></svg>
<div class="t" style="left:1034px;top:632px;font-size:15.4px;color:#555">Showing 1 to 40 of 9410 results</div>
<svg class="ic" style="left:1257.00px;top:631.50px" width="13.20" height="15.40" viewBox="0 -1536 1536 1792" ><path fill="#338bb8" transform="scale(1,-1)" d="M1472 576q0 -54 -37 -91l-651 -651q-39 -37 -91 -37q-51 0 -90 37l-75 75q-38 38 -38 91t38 91l293 293h-704q-52 0 -84.5 37.5t-32.5 90.5v128q0 53 32.5 90.5t84.5 37.5h704l-293 294q-38 36 -38 90t38 90l75 75q38 38 90 38q53 0 91 -38l651 -651q37 -35 37 -90z"/></svg>
<div class="abs" style="left:1709px;top:623px;width:32px;height:34px;border:1px solid #d2d2d2;border-radius:3px;background:linear-gradient(#fff,#f1f1f1)"></div>
<svg class="ic" style="left:1719.60px;top:633.50px" width="11.31" height="13.20" viewBox="0 -1536 1536 1792" ><path fill="#333" transform="scale(1,-1)" d="M1468 1156q28 -28 48 -76t20 -88v-1152q0 -40 -28 -68t-68 -28h-1344q-40 0 -68 28t-28 68v1600q0 40 28 68t68 28h896q40 0 88 -20t76 -48zM1024 1400v-376h376q-10 29 -22 41l-313 313q-12 12 -41 22zM1408 -128v1024h-416q-40 0 -68 28t-28 68v416h-768v-1536h1280z M480 768q8 11 21 12.5t24 -6.5l51 -38q11 -8 12.5 -21t-6.5 -24l-182 -243l182 -243q8 -11 6.5 -24t-12.5 -21l-51 -38q-11 -8 -24 -6.5t-21 12.5l-226 301q-14 19 0 38zM1282 467q14 -19 0 -38l-226 -301q-8 -11 -21 -12.5t-24 6.5l-51 38q-11 8 -12.5 21t6.5 24l182 243 l-182 243q-8 11 -6.5 24t12.5 21l51 38q11 8 24 6.5t21 -12.5zM662 6q-13 2 -20.5 13t-5.5 24l138 831q2 13 13 20.5t24 5.5l63 -10q13 -2 20.5 -13t5.5 -24l-138 -831q-2 -13 -13 -20.5t-24 -5.5z"/></svg>
<div class="abs" style="left:1746px;top:623px;width:32px;height:34px;border:1px solid #d2d2d2;border-radius:3px;background:linear-gradient(#fff,#f1f1f1)"></div>
<svg class="ic" style="left:1756.60px;top:633.50px" width="11.31" height="13.20" viewBox="0 -1536 1536 1792" ><path fill="#333" transform="scale(1,-1)" d="M1468 1156q28 -28 48 -76t20 -88v-1152q0 -40 -28 -68t-68 -28h-1344q-40 0 -68 28t-28 68v1600q0 40 28 68t68 28h896q40 0 88 -20t76 -48zM1024 1400v-376h376q-10 29 -22 41l-313 313q-12 12 -41 22zM1408 -128v1024h-416q-40 0 -68 28t-28 68v416h-768v-1536h1280z M894 465q33 -26 84 -56q59 7 117 7q147 0 177 -49q16 -22 2 -52q0 -1 -1 -2l-2 -2v-1q-6 -38 -71 -38q-48 0 -115 20t-130 53q-221 -24 -392 -83q-153 -262 -242 -262q-15 0 -28 7l-24 12q-1 1 -6 5q-10 10 -6 36q9 40 56 91.5t132 96.5q14 9 23 -6q2 -2 2 -4q52 85 107 197 q68 136 104 262q-24 82 -30.5 159.5t6.5 127.5q11 40 42 40h21h1q23 0 35 -15q18 -21 9 -68q-2 -6 -4 -8q1 -3 1 -8v-30q-2 -123 -14 -192q55 -164 146 -238zM318 54q52 24 137 158q-51 -40 -87.5 -84t-49.5 -74zM716 974q-15 -42 -2 -132q1 7 7 44q0 3 7 43q1 4 4 8 q-1 1 -1 2q-1 2 -1 3q-1 22 -13 36q0 -1 -1 -2v-2zM592 313q135 54 284 81q-2 1 -13 9.5t-16 13.5q-76 67 -127 176q-27 -86 -83 -197q-30 -56 -45 -83zM1238 329q-24 24 -140 24q76 -28 124 -28q14 0 18 1q0 1 -2 3z"/></svg>
<div class="abs" style="left:1782px;top:623px;width:32px;height:34px;border:1px solid #d2d2d2;border-radius:3px;background:linear-gradient(#fff,#f1f1f1)"></div>
<svg class="ic" style="left:1792.60px;top:633.50px" width="11.31" height="13.20" viewBox="0 -1536 1536 1792" ><path fill="#333" transform="scale(1,-1)" d="M1468 1156q28 -28 48 -76t20 -88v-1152q0 -40 -28 -68t-68 -28h-1344q-40 0 -68 28t-28 68v1600q0 40 28 68t68 28h896q40 0 88 -20t76 -48zM1024 1400v-376h376q-10 29 -22 41l-313 313q-12 12 -41 22zM1408 -128v1024h-416q-40 0 -68 28t-28 68v416h-768v-1536h1280z M429 106v-106h281v106h-75l103 161q5 7 10 16.5t7.5 13.5t3.5 4h2q1 -4 5 -10q2 -4 4.5 -7.5t6 -8t6.5 -8.5l107 -161h-76v-106h291v106h-68l-192 273l195 282h67v107h-279v-107h74l-103 -159q-4 -7 -10 -16.5t-9 -13.5l-2 -3h-2q-1 4 -5 10q-6 11 -17 23l-106 159h76v107 h-290v-107h68l189 -272l-194 -283h-68z"/></svg>
<div class="t " style="left:637.50px;top:666.50px;font-size:15.40px;color:#338bb8;font-weight:bold;letter-spacing:.5px">code</div>
<div class="t " style="left:1506.50px;top:666.50px;font-size:15.40px;color:#338bb8;font-weight:bold;letter-spacing:.5px">request</div>
<div class="abs" style="left:594px;top:687px;width:1230px;height:1.5px;background:#dcdcdc"></div>
<svg class="ic" style="left:597.50px;top:696.80px" width="5.50" height="15.40" viewBox="0 -1536 640 1792" ><path fill="#338bb8" transform="scale(1,-1)" d="M576 640q0 -26 -19 -45l-448 -448q-19 -19 -45 -19t-45 19t-19 45v896q0 26 19 45t45 19t45 -19l448 -448q19 -19 19 -45z"/></svg>
<div class="t " style="left:611.00px;top:697.00px;font-size:15.40px;color:#333;font-weight:normal;">200</div>
<div class="t " style="left:708.00px;top:697.00px;font-size:15.40px;color:#333;font-weight:normal;letter-spacing:.2px">GET /metastore/table/default/sample_07 HTTP/1.1</div>
<div class="abs" style="left:594px;top:719.50px;width:1230px;height:31px;background:#f5f5f5"></div>
<svg class="ic" style="left:597.50px;top:727.80px" width="5.50" height="15.40" viewBox="0 -1536 640 1792" ><path fill="#338bb8" transform="scale(1,-1)" d="M576 640q0 -26 -19 -45l-448 -448q-19 -19 -45 -19t-45 19t-19 45v896q0 26 19 45t45 19t45 -19l448 -448q19 -19 19 -45z"/></svg>
<div class="t " style="left:611.00px;top:728.00px;font-size:15.40px;color:#333;font-weight:normal;">200</div>
<div class="t " style="left:708.00px;top:728.00px;font-size:15.40px;color:#333;font-weight:normal;letter-spacing:.2px">GET /metastore/table/default/sample_07 HTTP/1.1</div>
<svg class="ic" style="left:597.50px;top:758.80px" width="5.50" height="15.40" viewBox="0 -1536 640 1792" ><path fill="#338bb8" transform="scale(1,-1)" d="M576 640q0 -26 -19 -45l-448 -448q-19 -19 -45 -19t-45 19t-19 45v896q0 26 19 45t45 19t45 -19l448 -448q19 -19 19 -45z"/></svg>
<div class="t " style="left:611.00px;top:759.00px;font-size:15.40px;color:#333;font-weight:normal;">200</div>
<div class="t " style="left:708.00px;top:759.00px;font-size:15.40px;color:#333;font-weight:normal;letter-spacing:.2px">GET /search/?collection=10000001 HTTP/1.1</div>
<div class="abs" style="left:594px;top:781.90px;width:1230px;height:31px;background:#f5f5f5"></div>
<svg class="ic" style="left:597.50px;top:789.80px" width="5.50" height="15.40" viewBox="0 -1536 640 1792" ><path fill="#338bb8" transform="scale(1,-1)" d="M576 640q0 -26 -19 -45l-448 -448q-19 -19 -45 -19t-45 19t-19 45v896q0 26 19 45t45 19t45 -19l448 -448q19 -19 19 -45z"/></svg>
<div class="t " style="left:611.00px;top:790.00px;font-size:15.40px;color:#333;font-weight:normal;">200</div>
<div class="t " style="left:708.00px;top:790.00px;font-size:15.40px;color:#333;font-weight:normal;letter-spacing:.2px">GET /search/?collection=10000001 HTTP/1.1</div>
<svg class="ic" style="left:597.50px;top:821.80px" width="5.50" height="15.40" viewBox="0 -1536 640 1792" ><path fill="#338bb8" transform="scale(1,-1)" d="M576 640q0 -26 -19 -45l-448 -448q-19 -19 -45 -19t-45 19t-19 45v896q0 26 19 45t45 19t45 -19l448 -448q19 -19 19 -45z"/></svg>
<div class="t " style="left:611.00px;top:822.00px;font-size:15.40px;color:#333;font-weight:normal;">200</div>
<div class="t " style="left:708.00px;top:822.00px;font-size:15.40px;color:#333;font-weight:normal;letter-spacing:-.05px">HEAD / HTTP/1.1</div>
<div class="abs" style="left:594px;top:844.30px;width:1230px;height:31px;background:#f5f5f5"></div>
<svg class="ic" style="left:597.50px;top:852.80px" width="5.50" height="15.40" viewBox="0 -1536 640 1792" ><path fill="#338bb8" transform="scale(1,-1)" d="M576 640q0 -26 -19 -45l-448 -448q-19 -19 -45 -19t-45 19t-19 45v896q0 26 19 45t45 19t45 -19l448 -448q19 -19 19 -45z"/></svg>
<div class="t " style="left:611.00px;top:853.00px;font-size:15.40px;color:#333;font-weight:normal;">200</div>
<div class="t " style="left:708.00px;top:853.00px;font-size:15.40px;color:#333;font-weight:normal;letter-spacing:.2px">GET /beeswax/query_history?q-type=beeswax&amp;q-user=dy8515s&amp;q-auto_query=off HTTP/1.1</div>
<svg class="ic" style="left:597.50px;top:883.80px" width="5.50" height="15.40" viewBox="0 -1536 640 1792" ><path fill="#338bb8" transform="scale(1,-1)" d="M576 640q0 -26 -19 -45l-448 -448q-19 -19 -45 -19t-45 19t-19 45v896q0 26 19 45t45 19t45 -19l448 -448q19 -19 19 -45z"/></svg>
<div class="t " style="left:611.00px;top:884.00px;font-size:15.40px;color:#333;font-weight:normal;">200</div>
<div class="t " style="left:708.00px;top:884.00px;font-size:15.40px;color:#333;font-weight:normal;letter-spacing:-.05px">GET / HTTP/1.1</div>
<div class="abs" style="left:0;top:905px;width:1844px;height:3px;background:#f4f4f4"></div>
<div class="abs" style="left:0;top:905px;width:1844px;height:1px;background:#a39e98"></div>
</body></html>
